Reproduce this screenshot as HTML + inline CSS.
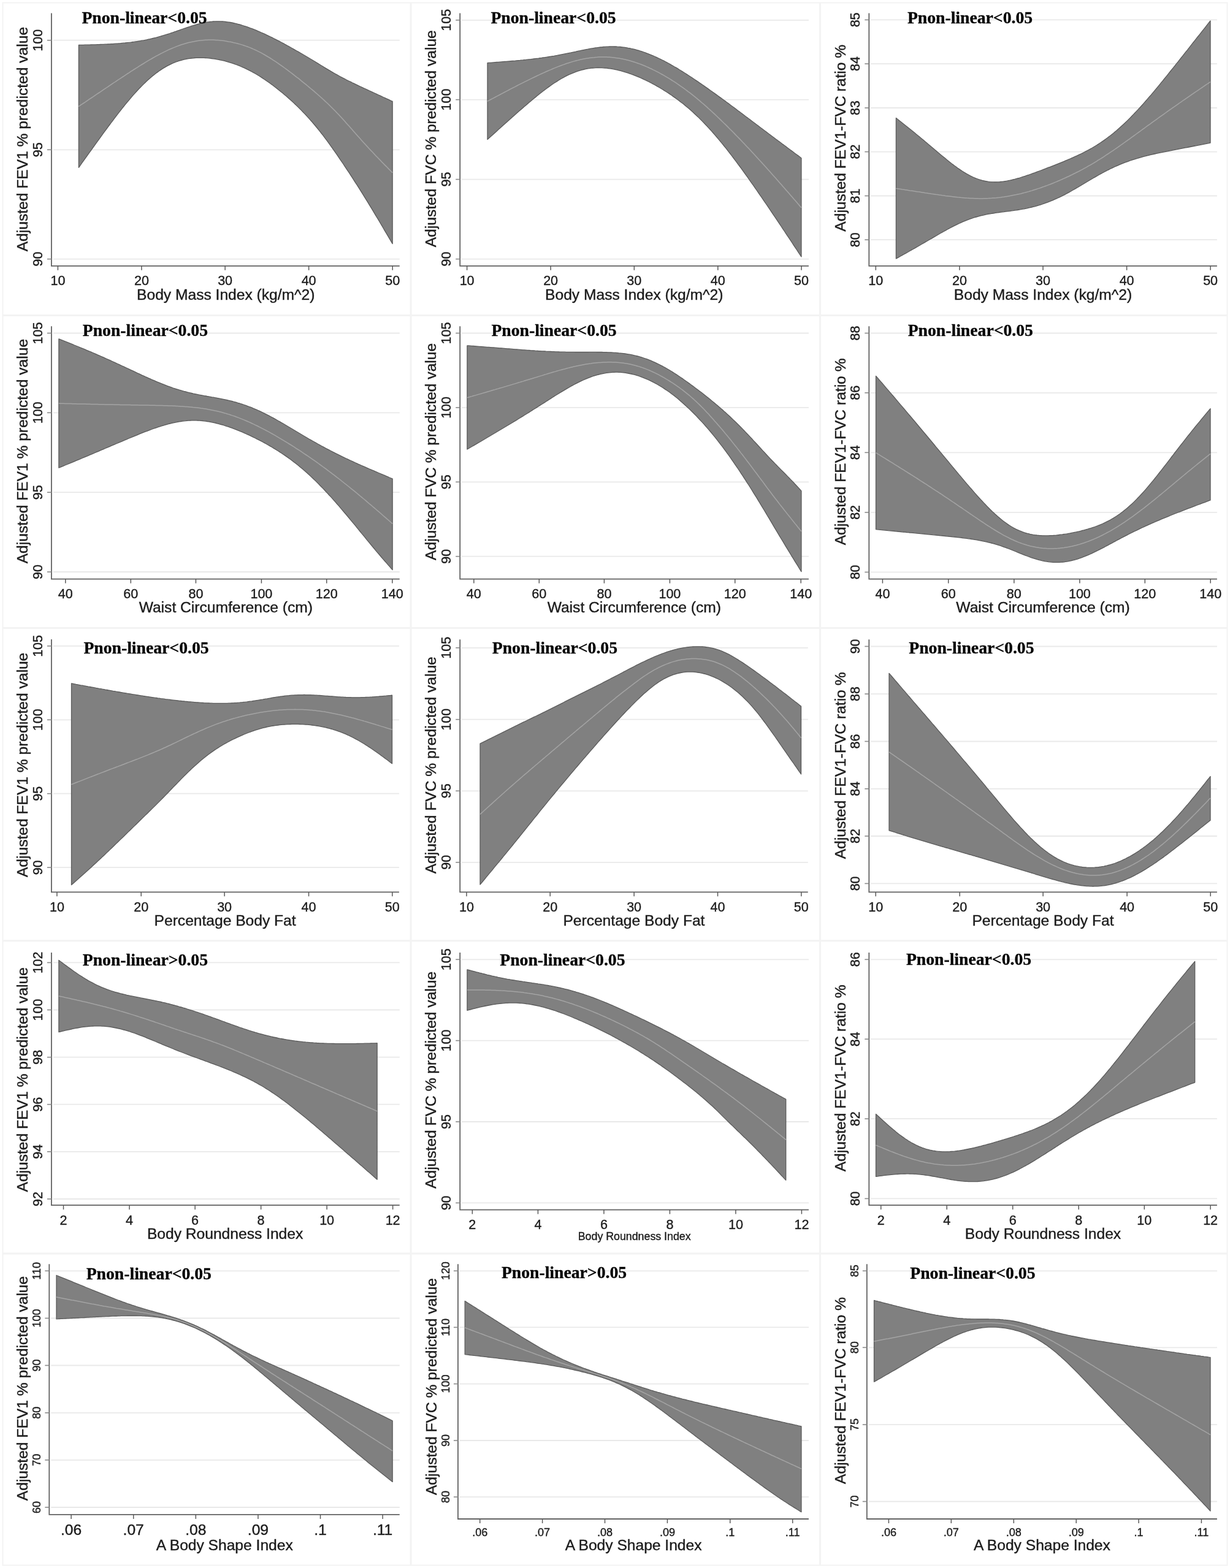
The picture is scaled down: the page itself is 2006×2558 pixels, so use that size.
<!DOCTYPE html>
<html lang="en"><head><meta charset="utf-8"><title>Restricted cubic spline plots</title>
<style>html,body{margin:0;padding:0;background:#fff}svg{display:block}text{font-family:"Liberation Sans",Arial,sans-serif;fill:#1c1c1c;stroke:#1c1c1c;stroke-width:0.4px}.ax{font-size:24.6px}.tk{font-size:21.5px}.tt{font-family:"Liberation Serif","Times New Roman",serif;font-weight:bold;font-size:27.7px;fill:#000;stroke:#000;stroke-width:0.3px}.g{stroke:#e9e9e9;stroke-width:1.8}.a{stroke:#626262;stroke-width:1.8;fill:none}.t{stroke:#5a5a5a;stroke-width:1.5}.ty{stroke:#8a8a8a;stroke-width:1.6}.b{fill:#808080;stroke:#5a5a5a;stroke-width:1.3;stroke-linejoin:round}.m{fill:none;stroke:#a4a4a4;stroke-width:1.5}.fr{fill:none;stroke:#f3f3f3;stroke-width:2}.dv{stroke:#f3f3f3;stroke-width:3}</style></head><body>
<svg xmlns="http://www.w3.org/2000/svg" width="2006" height="2558" viewBox="0 0 2006 2558">
<rect x="0" y="0" width="2006" height="2558" fill="#fff"/>
<rect class="fr" x="4.5" y="4.5" width="1997" height="2549"/>
<line class="dv" x1="670" y1="4.5" x2="670" y2="2553.5"/>
<line class="dv" x1="1337.5" y1="4.5" x2="1337.5" y2="2553.5"/>
<line class="dv" x1="4.5" y1="514.5" x2="2001.5" y2="514.5"/>
<line class="dv" x1="4.5" y1="1024.5" x2="2001.5" y2="1024.5"/>
<line class="dv" x1="4.5" y1="1534.8" x2="2001.5" y2="1534.8"/>
<line class="dv" x1="4.5" y1="2045" x2="2001.5" y2="2045"/>
<g>
<line class="g" x1="86.9" y1="65.7" x2="651.7" y2="65.7"/>
<line class="g" x1="86.9" y1="244.3" x2="651.7" y2="244.3"/>
<line class="g" x1="86.9" y1="422.6" x2="651.7" y2="422.6"/>
<path class="b" d="M128.4 73.5 L130.9 73.4 L133.4 73.4 L136 73.3 L138.5 73.2 L141 73.2 L143.5 73.1 L146 73.1 L148.6 73 L151.1 72.9 L153.6 72.9 L156.1 72.8 L158.6 72.7 L161.2 72.6 L163.7 72.5 L166.2 72.4 L168.7 72.3 L171.3 72.2 L173.8 72.1 L176.3 72 L178.8 71.9 L181.3 71.7 L183.9 71.6 L186.4 71.4 L188.9 71.2 L191.4 71.1 L193.9 70.9 L196.5 70.7 L199 70.4 L201.5 70.2 L204 70 L206.5 69.7 L209.1 69.4 L211.6 69.2 L214.1 68.9 L216.6 68.5 L219.1 68.2 L221.7 67.8 L224.2 67.5 L226.7 67.1 L229.2 66.7 L231.8 66.2 L234.3 65.8 L236.8 65.3 L239.3 64.8 L241.8 64.2 L244.4 63.7 L246.9 63.1 L249.4 62.5 L251.9 61.9 L254.4 61.3 L257 60.6 L259.5 59.9 L262 59.2 L264.5 58.4 L267 57.7 L269.6 56.9 L272.1 56.1 L274.6 55.3 L277.1 54.5 L279.7 53.6 L282.2 52.8 L284.7 51.9 L287.2 51.1 L289.7 50.2 L292.3 49.3 L294.8 48.4 L297.3 47.5 L299.8 46.7 L302.3 45.8 L304.9 44.9 L307.4 44.1 L309.9 43.3 L312.4 42.4 L314.9 41.7 L317.5 40.9 L320 40.2 L322.5 39.5 L325 38.8 L327.5 38.2 L330.1 37.7 L332.6 37.1 L335.1 36.6 L337.6 36.2 L340.2 35.8 L342.7 35.5 L345.2 35.3 L347.7 35 L350.2 34.9 L352.8 34.8 L355.3 34.8 L357.8 34.8 L360.3 34.9 L362.8 35 L365.4 35.2 L367.9 35.5 L370.4 35.8 L372.9 36.1 L375.4 36.5 L378 37 L380.5 37.5 L383 38.1 L385.5 38.7 L388 39.3 L390.6 40 L393.1 40.7 L395.6 41.5 L398.1 42.3 L400.7 43.1 L403.2 43.9 L405.7 44.8 L408.2 45.8 L410.7 46.7 L413.3 47.7 L415.8 48.7 L418.3 49.7 L420.8 50.8 L423.3 51.9 L425.9 53 L428.4 54.1 L430.9 55.2 L433.4 56.4 L435.9 57.6 L438.5 58.8 L441 60 L443.5 61.2 L446 62.5 L448.6 63.8 L451.1 65.1 L453.6 66.4 L456.1 67.7 L458.6 69 L461.2 70.4 L463.7 71.7 L466.2 73.1 L468.7 74.5 L471.2 75.9 L473.8 77.3 L476.3 78.7 L478.8 80.1 L481.3 81.6 L483.8 83 L486.4 84.4 L488.9 85.9 L491.4 87.3 L493.9 88.8 L496.4 90.3 L499 91.8 L501.5 93.3 L504 94.8 L506.5 96.3 L509.1 97.8 L511.6 99.3 L514.1 100.8 L516.6 102.4 L519.1 103.9 L521.7 105.5 L524.2 107 L526.7 108.5 L529.2 110.1 L531.7 111.6 L534.3 113.1 L536.8 114.6 L539.3 116.1 L541.8 117.6 L544.3 119.1 L546.9 120.5 L549.4 121.9 L551.9 123.3 L554.4 124.7 L557 126.1 L559.5 127.4 L562 128.7 L564.5 130 L567 131.3 L569.6 132.5 L572.1 133.7 L574.6 135 L577.1 136.2 L579.6 137.4 L582.2 138.6 L584.7 139.8 L587.2 141 L589.7 142.2 L592.2 143.3 L594.8 144.5 L597.3 145.7 L599.8 146.8 L602.3 148 L604.8 149.2 L607.4 150.3 L609.9 151.5 L612.4 152.7 L614.9 153.8 L617.5 155 L620 156.1 L622.5 157.3 L625 158.5 L627.5 159.6 L630.1 160.8 L632.6 161.9 L635.1 163.1 L637.6 164.3 L640.1 165.4 L640.1 397.7 L637.6 393.4 L635.1 389.1 L632.6 384.9 L630.1 380.6 L627.5 376.3 L625 372 L622.5 367.7 L620 363.5 L617.5 359.2 L614.9 355 L612.4 350.8 L609.9 346.6 L607.4 342.4 L604.8 338.2 L602.3 334.1 L599.8 329.9 L597.3 325.8 L594.8 321.8 L592.2 317.7 L589.7 313.7 L587.2 309.7 L584.7 305.7 L582.2 301.7 L579.6 297.8 L577.1 293.8 L574.6 289.9 L572.1 286.1 L569.6 282.2 L567 278.4 L564.5 274.6 L562 270.8 L559.5 267 L557 263.3 L554.4 259.6 L551.9 255.9 L549.4 252.2 L546.9 248.6 L544.3 244.9 L541.8 241.4 L539.3 237.8 L536.8 234.3 L534.3 230.8 L531.7 227.4 L529.2 224.1 L526.7 220.7 L524.2 217.5 L521.7 214.3 L519.1 211.1 L516.6 208 L514.1 205 L511.6 202 L509.1 199 L506.5 196.2 L504 193.3 L501.5 190.6 L499 187.8 L496.4 185.1 L493.9 182.5 L491.4 179.9 L488.9 177.4 L486.4 174.9 L483.8 172.4 L481.3 170 L478.8 167.6 L476.3 165.3 L473.8 163 L471.2 160.7 L468.7 158.5 L466.2 156.3 L463.7 154.2 L461.2 152 L458.6 150 L456.1 147.9 L453.6 145.9 L451.1 143.9 L448.6 141.9 L446 140 L443.5 138.1 L441 136.3 L438.5 134.5 L435.9 132.7 L433.4 131 L430.9 129.2 L428.4 127.6 L425.9 125.9 L423.3 124.3 L420.8 122.8 L418.3 121.3 L415.8 119.8 L413.3 118.4 L410.7 117 L408.2 115.6 L405.7 114.3 L403.2 113.1 L400.7 111.8 L398.1 110.7 L395.6 109.6 L393.1 108.5 L390.6 107.4 L388 106.4 L385.5 105.5 L383 104.6 L380.5 103.7 L378 102.8 L375.4 102.1 L372.9 101.3 L370.4 100.6 L367.9 99.9 L365.4 99.2 L362.8 98.6 L360.3 98.1 L357.8 97.5 L355.3 97.1 L352.8 96.6 L350.2 96.2 L347.7 95.8 L345.2 95.5 L342.7 95.2 L340.2 94.9 L337.6 94.7 L335.1 94.5 L332.6 94.4 L330.1 94.3 L327.5 94.3 L325 94.3 L322.5 94.3 L320 94.4 L317.5 94.5 L314.9 94.8 L312.4 95 L309.9 95.3 L307.4 95.7 L304.9 96.1 L302.3 96.6 L299.8 97.2 L297.3 97.8 L294.8 98.5 L292.3 99.2 L289.7 100.1 L287.2 101 L284.7 101.9 L282.2 103 L279.7 104.1 L277.1 105.3 L274.6 106.6 L272.1 107.9 L269.6 109.4 L267 110.9 L264.5 112.4 L262 114.1 L259.5 115.8 L257 117.6 L254.4 119.5 L251.9 121.5 L249.4 123.5 L246.9 125.6 L244.4 127.7 L241.8 130 L239.3 132.3 L236.8 134.7 L234.3 137.1 L231.8 139.6 L229.2 142.2 L226.7 144.8 L224.2 147.5 L221.7 150.3 L219.1 153.1 L216.6 155.9 L214.1 158.8 L211.6 161.8 L209.1 164.8 L206.5 167.8 L204 170.9 L201.5 174 L199 177.2 L196.5 180.4 L193.9 183.6 L191.4 186.8 L188.9 190.1 L186.4 193.4 L183.9 196.8 L181.3 200.1 L178.8 203.5 L176.3 206.9 L173.8 210.3 L171.3 213.7 L168.7 217.2 L166.2 220.6 L163.7 224.1 L161.2 227.6 L158.6 231.1 L156.1 234.6 L153.6 238.1 L151.1 241.6 L148.6 245.1 L146 248.6 L143.5 252.1 L141 255.7 L138.5 259.2 L136 262.7 L133.4 266.2 L130.9 269.8 L128.4 273.3Z"/>
<path class="m" d="M128.4 173.6 L130.9 171.9 L133.4 170.2 L136 168.5 L138.5 166.8 L141 165.1 L143.5 163.4 L146 161.7 L148.6 160 L151.1 158.3 L153.6 156.6 L156.1 154.9 L158.6 153.2 L161.2 151.5 L163.7 149.8 L166.2 148.1 L168.7 146.4 L171.3 144.7 L173.8 143 L176.3 141.3 L178.8 139.6 L181.3 137.9 L183.9 136.2 L186.4 134.5 L188.9 132.8 L191.4 131.2 L193.9 129.5 L196.5 127.8 L199 126.1 L201.5 124.5 L204 122.8 L206.5 121.1 L209.1 119.5 L211.6 117.8 L214.1 116.2 L216.6 114.6 L219.1 113 L221.7 111.3 L224.2 109.8 L226.7 108.2 L229.2 106.6 L231.8 105 L234.3 103.5 L236.8 101.9 L239.3 100.4 L241.8 98.9 L244.4 97.4 L246.9 96 L249.4 94.5 L251.9 93.1 L254.4 91.7 L257 90.3 L259.5 89 L262 87.6 L264.5 86.3 L267 85.1 L269.6 83.8 L272.1 82.6 L274.6 81.4 L277.1 80.3 L279.7 79.2 L282.2 78.1 L284.7 77.1 L287.2 76.1 L289.7 75.1 L292.3 74.2 L294.8 73.3 L297.3 72.5 L299.8 71.7 L302.3 71 L304.9 70.3 L307.4 69.6 L309.9 69 L312.4 68.4 L314.9 67.9 L317.5 67.4 L320 67 L322.5 66.6 L325 66.2 L327.5 65.9 L330.1 65.7 L332.6 65.5 L335.1 65.3 L337.6 65.2 L340.2 65.1 L342.7 65.1 L345.2 65.1 L347.7 65.1 L350.2 65.2 L352.8 65.4 L355.3 65.6 L357.8 65.8 L360.3 66 L362.8 66.3 L365.4 66.6 L367.9 67 L370.4 67.4 L372.9 67.9 L375.4 68.3 L378 68.8 L380.5 69.4 L383 69.9 L385.5 70.6 L388 71.2 L390.6 71.9 L393.1 72.6 L395.6 73.4 L398.1 74.2 L400.7 75.1 L403.2 76 L405.7 76.9 L408.2 77.9 L410.7 79 L413.3 80.1 L415.8 81.2 L418.3 82.4 L420.8 83.6 L423.3 84.9 L425.9 86.2 L428.4 87.6 L430.9 89 L433.4 90.5 L435.9 92 L438.5 93.5 L441 95 L443.5 96.6 L446 98.3 L448.6 99.9 L451.1 101.6 L453.6 103.3 L456.1 105.1 L458.6 106.9 L461.2 108.7 L463.7 110.5 L466.2 112.3 L468.7 114.2 L471.2 116.1 L473.8 118 L476.3 119.9 L478.8 121.8 L481.3 123.8 L483.8 125.8 L486.4 127.7 L488.9 129.7 L491.4 131.8 L493.9 133.8 L496.4 135.8 L499 137.9 L501.5 140 L504 142.1 L506.5 144.2 L509.1 146.3 L511.6 148.4 L514.1 150.6 L516.6 152.8 L519.1 155 L521.7 157.3 L524.2 159.5 L526.7 161.8 L529.2 164.1 L531.7 166.5 L534.3 168.8 L536.8 171.3 L539.3 173.7 L541.8 176.2 L544.3 178.7 L546.9 181.3 L549.4 183.9 L551.9 186.6 L554.4 189.3 L557 192 L559.5 194.8 L562 197.6 L564.5 200.4 L567 203.3 L569.6 206.1 L572.1 209 L574.6 211.8 L577.1 214.7 L579.6 217.6 L582.2 220.4 L584.7 223.3 L587.2 226.1 L589.7 228.9 L592.2 231.7 L594.8 234.5 L597.3 237.3 L599.8 240 L602.3 242.7 L604.8 245.4 L607.4 248.1 L609.9 250.8 L612.4 253.4 L614.9 256.1 L617.5 258.7 L620 261.3 L622.5 263.9 L625 266.5 L627.5 269.1 L630.1 271.6 L632.6 274.2 L635.1 276.7 L637.6 279.3 L640.1 281.8"/>
<path class="a" d="M83.9 21.5 V433.8 H651.7"/>
<line class="ty" x1="76.9" y1="65.7" x2="83.9" y2="65.7"/>
<text class="tk" text-anchor="middle" transform="translate(69 65.7) rotate(-90)">100</text>
<line class="ty" x1="76.9" y1="244.3" x2="83.9" y2="244.3"/>
<text class="tk" text-anchor="middle" transform="translate(69 244.3) rotate(-90)">95</text>
<line class="ty" x1="76.9" y1="422.6" x2="83.9" y2="422.6"/>
<text class="tk" text-anchor="middle" transform="translate(69 422.6) rotate(-90)">90</text>
<line class="t" x1="94.4" y1="433.8" x2="94.4" y2="440.8"/>
<text class="tk" text-anchor="middle" x="94.4" y="465.1">10</text>
<line class="t" x1="230.9" y1="433.8" x2="230.9" y2="440.8"/>
<text class="tk" text-anchor="middle" x="230.9" y="465.1">20</text>
<line class="t" x1="367.1" y1="433.8" x2="367.1" y2="440.8"/>
<text class="tk" text-anchor="middle" x="367.1" y="465.1">30</text>
<line class="t" x1="503.6" y1="433.8" x2="503.6" y2="440.8"/>
<text class="tk" text-anchor="middle" x="503.6" y="465.1">40</text>
<line class="t" x1="640.2" y1="433.8" x2="640.2" y2="440.8"/>
<text class="tk" text-anchor="middle" x="640.2" y="465.1">50</text>
<text class="ax" text-anchor="middle" x="368.3" y="488.6">Body Mass Index (kg/m^2)</text>
<text class="ax" text-anchor="middle" transform="translate(45.1 227.1) rotate(-90)">Adjusted FEV1 % predicted value</text>
<text class="tt" x="133.4" y="38.2">Pnon-linear&lt;0.05</text>
</g>
<g>
<line class="g" x1="753.2" y1="32.8" x2="1318.9" y2="32.8"/>
<line class="g" x1="753.2" y1="162.6" x2="1318.9" y2="162.6"/>
<line class="g" x1="753.2" y1="292.6" x2="1318.9" y2="292.6"/>
<line class="g" x1="753.2" y1="422.6" x2="1318.9" y2="422.6"/>
<path class="b" d="M795 102.6 L797.5 102.4 L800 102.3 L802.6 102.1 L805.1 101.9 L807.6 101.7 L810.1 101.5 L812.6 101.3 L815.2 101.1 L817.7 100.9 L820.2 100.7 L822.7 100.5 L825.3 100.3 L827.8 100.1 L830.3 99.9 L832.8 99.7 L835.3 99.5 L837.9 99.3 L840.4 99.1 L842.9 98.8 L845.4 98.6 L848 98.4 L850.5 98.1 L853 97.9 L855.5 97.6 L858 97.4 L860.6 97.1 L863.1 96.8 L865.6 96.6 L868.1 96.3 L870.6 96 L873.2 95.7 L875.7 95.4 L878.2 95.1 L880.7 94.7 L883.3 94.4 L885.8 94 L888.3 93.7 L890.8 93.3 L893.3 92.9 L895.9 92.5 L898.4 92.1 L900.9 91.7 L903.4 91.3 L906 90.8 L908.5 90.4 L911 89.9 L913.5 89.4 L916 88.9 L918.6 88.4 L921.1 87.9 L923.6 87.4 L926.1 86.9 L928.7 86.4 L931.2 85.9 L933.7 85.3 L936.2 84.8 L938.7 84.3 L941.3 83.7 L943.8 83.2 L946.3 82.7 L948.8 82.1 L951.4 81.6 L953.9 81.1 L956.4 80.6 L958.9 80.2 L961.4 79.7 L964 79.2 L966.5 78.8 L969 78.4 L971.5 78 L974 77.7 L976.6 77.3 L979.1 77 L981.6 76.8 L984.1 76.5 L986.7 76.3 L989.2 76.2 L991.7 76.1 L994.2 76 L996.7 75.9 L999.3 75.9 L1001.8 76 L1004.3 76 L1006.8 76.2 L1009.4 76.3 L1011.9 76.5 L1014.4 76.8 L1016.9 77.1 L1019.4 77.4 L1022 77.8 L1024.5 78.3 L1027 78.7 L1029.5 79.3 L1032.1 79.8 L1034.6 80.4 L1037.1 81.1 L1039.6 81.8 L1042.1 82.5 L1044.7 83.3 L1047.2 84.1 L1049.7 85 L1052.2 85.9 L1054.7 86.8 L1057.3 87.8 L1059.8 88.8 L1062.3 89.8 L1064.8 90.9 L1067.4 92 L1069.9 93.1 L1072.4 94.3 L1074.9 95.5 L1077.4 96.7 L1080 98 L1082.5 99.2 L1085 100.5 L1087.5 101.9 L1090.1 103.3 L1092.6 104.6 L1095.1 106.1 L1097.6 107.5 L1100.1 109 L1102.7 110.4 L1105.2 111.9 L1107.7 113.5 L1110.2 115 L1112.8 116.6 L1115.3 118.2 L1117.8 119.8 L1120.3 121.4 L1122.8 123 L1125.4 124.7 L1127.9 126.3 L1130.4 128 L1132.9 129.7 L1135.4 131.4 L1138 133.1 L1140.5 134.9 L1143 136.6 L1145.5 138.3 L1148.1 140.1 L1150.6 141.9 L1153.1 143.6 L1155.6 145.4 L1158.1 147.2 L1160.7 149 L1163.2 150.8 L1165.7 152.6 L1168.2 154.4 L1170.8 156.3 L1173.3 158.1 L1175.8 159.9 L1178.3 161.7 L1180.8 163.6 L1183.4 165.4 L1185.9 167.3 L1188.4 169.1 L1190.9 171 L1193.5 172.9 L1196 174.7 L1198.5 176.6 L1201 178.5 L1203.5 180.4 L1206.1 182.3 L1208.6 184.2 L1211.1 186.1 L1213.6 188 L1216.1 189.9 L1218.7 191.8 L1221.2 193.7 L1223.7 195.6 L1226.2 197.5 L1228.8 199.4 L1231.3 201.3 L1233.8 203.2 L1236.3 205.1 L1238.8 207 L1241.4 208.9 L1243.9 210.8 L1246.4 212.7 L1248.9 214.6 L1251.5 216.5 L1254 218.4 L1256.5 220.3 L1259 222.2 L1261.5 224.1 L1264.1 226 L1266.6 227.9 L1269.1 229.7 L1271.6 231.6 L1274.2 233.5 L1276.7 235.4 L1279.2 237.2 L1281.7 239.1 L1284.2 241 L1286.8 242.9 L1289.3 244.8 L1291.8 246.6 L1294.3 248.5 L1296.8 250.4 L1299.4 252.3 L1301.9 254.1 L1304.4 256 L1306.9 257.9 L1306.9 418.9 L1304.4 415.1 L1301.9 411.3 L1299.4 407.5 L1296.8 403.7 L1294.3 399.8 L1291.8 396 L1289.3 392.2 L1286.8 388.4 L1284.2 384.6 L1281.7 380.8 L1279.2 377 L1276.7 373.3 L1274.2 369.5 L1271.6 365.7 L1269.1 361.9 L1266.6 358.2 L1264.1 354.4 L1261.5 350.7 L1259 346.9 L1256.5 343.2 L1254 339.4 L1251.5 335.7 L1248.9 332 L1246.4 328.3 L1243.9 324.6 L1241.4 320.9 L1238.8 317.3 L1236.3 313.6 L1233.8 310 L1231.3 306.4 L1228.8 302.7 L1226.2 299.1 L1223.7 295.6 L1221.2 292 L1218.7 288.4 L1216.1 284.9 L1213.6 281.4 L1211.1 277.9 L1208.6 274.4 L1206.1 271 L1203.5 267.6 L1201 264.2 L1198.5 260.8 L1196 257.5 L1193.5 254.1 L1190.9 250.9 L1188.4 247.6 L1185.9 244.4 L1183.4 241.2 L1180.8 238 L1178.3 234.9 L1175.8 231.8 L1173.3 228.8 L1170.8 225.8 L1168.2 222.8 L1165.7 219.9 L1163.2 217 L1160.7 214.1 L1158.1 211.3 L1155.6 208.6 L1153.1 205.8 L1150.6 203.2 L1148.1 200.5 L1145.5 197.9 L1143 195.4 L1140.5 192.9 L1138 190.4 L1135.4 188 L1132.9 185.7 L1130.4 183.3 L1127.9 181.1 L1125.4 178.8 L1122.8 176.6 L1120.3 174.5 L1117.8 172.4 L1115.3 170.3 L1112.8 168.3 L1110.2 166.4 L1107.7 164.4 L1105.2 162.5 L1102.7 160.7 L1100.1 158.9 L1097.6 157.1 L1095.1 155.3 L1092.6 153.6 L1090.1 151.9 L1087.5 150.3 L1085 148.7 L1082.5 147.1 L1080 145.5 L1077.4 144 L1074.9 142.5 L1072.4 141.1 L1069.9 139.6 L1067.4 138.2 L1064.8 136.9 L1062.3 135.5 L1059.8 134.2 L1057.3 133 L1054.7 131.7 L1052.2 130.5 L1049.7 129.3 L1047.2 128.2 L1044.7 127 L1042.1 125.9 L1039.6 124.9 L1037.1 123.9 L1034.6 122.9 L1032.1 121.9 L1029.5 121 L1027 120.1 L1024.5 119.2 L1022 118.4 L1019.4 117.6 L1016.9 116.8 L1014.4 116.1 L1011.9 115.4 L1009.4 114.8 L1006.8 114.2 L1004.3 113.6 L1001.8 113.1 L999.3 112.7 L996.7 112.2 L994.2 111.8 L991.7 111.5 L989.2 111.2 L986.7 111 L984.1 110.8 L981.6 110.6 L979.1 110.6 L976.6 110.5 L974 110.5 L971.5 110.6 L969 110.8 L966.5 111 L964 111.2 L961.4 111.6 L958.9 111.9 L956.4 112.4 L953.9 112.9 L951.4 113.5 L948.8 114.1 L946.3 114.8 L943.8 115.6 L941.3 116.4 L938.7 117.3 L936.2 118.3 L933.7 119.3 L931.2 120.3 L928.7 121.5 L926.1 122.7 L923.6 123.9 L921.1 125.2 L918.6 126.6 L916 128 L913.5 129.5 L911 131 L908.5 132.6 L906 134.2 L903.4 135.8 L900.9 137.5 L898.4 139.3 L895.9 141.1 L893.3 142.9 L890.8 144.8 L888.3 146.7 L885.8 148.6 L883.3 150.6 L880.7 152.6 L878.2 154.6 L875.7 156.6 L873.2 158.7 L870.6 160.8 L868.1 162.8 L865.6 165 L863.1 167.1 L860.6 169.2 L858 171.4 L855.5 173.5 L853 175.7 L850.5 177.9 L848 180.1 L845.4 182.3 L842.9 184.5 L840.4 186.7 L837.9 189 L835.3 191.2 L832.8 193.5 L830.3 195.7 L827.8 198 L825.3 200.2 L822.7 202.5 L820.2 204.8 L817.7 207.1 L815.2 209.3 L812.6 211.6 L810.1 213.9 L807.6 216.2 L805.1 218.5 L802.6 220.8 L800 223 L797.5 225.3 L795 227.6Z"/>
<path class="m" d="M795 165.2 L797.5 163.9 L800 162.5 L802.6 161.2 L805.1 159.8 L807.6 158.5 L810.1 157.2 L812.6 155.8 L815.2 154.5 L817.7 153.1 L820.2 151.8 L822.7 150.5 L825.3 149.2 L827.8 147.8 L830.3 146.5 L832.8 145.2 L835.3 143.9 L837.9 142.6 L840.4 141.3 L842.9 140 L845.4 138.7 L848 137.4 L850.5 136.1 L853 134.9 L855.5 133.6 L858 132.3 L860.6 131.1 L863.1 129.8 L865.6 128.6 L868.1 127.4 L870.6 126.2 L873.2 125 L875.7 123.8 L878.2 122.6 L880.7 121.4 L883.3 120.2 L885.8 119.1 L888.3 118 L890.8 116.8 L893.3 115.7 L895.9 114.6 L898.4 113.6 L900.9 112.5 L903.4 111.4 L906 110.4 L908.5 109.4 L911 108.4 L913.5 107.5 L916 106.5 L918.6 105.6 L921.1 104.7 L923.6 103.8 L926.1 103 L928.7 102.2 L931.2 101.4 L933.7 100.6 L936.2 99.9 L938.7 99.2 L941.3 98.6 L943.8 97.9 L946.3 97.3 L948.8 96.8 L951.4 96.3 L953.9 95.8 L956.4 95.3 L958.9 94.9 L961.4 94.5 L964 94.2 L966.5 93.9 L969 93.7 L971.5 93.4 L974 93.3 L976.6 93.1 L979.1 93 L981.6 93 L984.1 93 L986.7 93 L989.2 93.1 L991.7 93.2 L994.2 93.3 L996.7 93.5 L999.3 93.8 L1001.8 94.1 L1004.3 94.4 L1006.8 94.7 L1009.4 95.1 L1011.9 95.6 L1014.4 96 L1016.9 96.6 L1019.4 97.1 L1022 97.7 L1024.5 98.3 L1027 99 L1029.5 99.7 L1032.1 100.5 L1034.6 101.3 L1037.1 102.1 L1039.6 103 L1042.1 103.9 L1044.7 104.8 L1047.2 105.8 L1049.7 106.8 L1052.2 107.8 L1054.7 108.9 L1057.3 110 L1059.8 111.2 L1062.3 112.3 L1064.8 113.6 L1067.4 114.8 L1069.9 116.1 L1072.4 117.4 L1074.9 118.7 L1077.4 120.1 L1080 121.5 L1082.5 122.9 L1085 124.4 L1087.5 125.9 L1090.1 127.4 L1092.6 128.9 L1095.1 130.5 L1097.6 132.1 L1100.1 133.7 L1102.7 135.4 L1105.2 137.1 L1107.7 138.8 L1110.2 140.6 L1112.8 142.3 L1115.3 144.2 L1117.8 146 L1120.3 147.9 L1122.8 149.8 L1125.4 151.7 L1127.9 153.7 L1130.4 155.7 L1132.9 157.7 L1135.4 159.7 L1138 161.8 L1140.5 163.9 L1143 166.1 L1145.5 168.2 L1148.1 170.4 L1150.6 172.6 L1153.1 174.9 L1155.6 177.2 L1158.1 179.4 L1160.7 181.8 L1163.2 184.1 L1165.7 186.4 L1168.2 188.8 L1170.8 191.2 L1173.3 193.6 L1175.8 196.1 L1178.3 198.5 L1180.8 201 L1183.4 203.4 L1185.9 205.9 L1188.4 208.5 L1190.9 211 L1193.5 213.5 L1196 216.1 L1198.5 218.6 L1201 221.2 L1203.5 223.8 L1206.1 226.4 L1208.6 229 L1211.1 231.7 L1213.6 234.3 L1216.1 237 L1218.7 239.7 L1221.2 242.3 L1223.7 245 L1226.2 247.8 L1228.8 250.5 L1231.3 253.2 L1233.8 256 L1236.3 258.7 L1238.8 261.5 L1241.4 264.2 L1243.9 267 L1246.4 269.8 L1248.9 272.6 L1251.5 275.4 L1254 278.2 L1256.5 281.1 L1259 283.9 L1261.5 286.7 L1264.1 289.6 L1266.6 292.4 L1269.1 295.3 L1271.6 298.2 L1274.2 301.1 L1276.7 303.9 L1279.2 306.8 L1281.7 309.7 L1284.2 312.6 L1286.8 315.5 L1289.3 318.4 L1291.8 321.3 L1294.3 324.2 L1296.8 327.1 L1299.4 330 L1301.9 332.9 L1304.4 335.9 L1306.9 338.8"/>
<path class="a" d="M750.2 21.5 V433.8 H1318.9"/>
<line class="ty" x1="743.2" y1="32.8" x2="750.2" y2="32.8"/>
<text class="tk" text-anchor="middle" transform="translate(735.3 32.8) rotate(-90)">105</text>
<line class="ty" x1="743.2" y1="162.6" x2="750.2" y2="162.6"/>
<text class="tk" text-anchor="middle" transform="translate(735.3 162.6) rotate(-90)">100</text>
<line class="ty" x1="743.2" y1="292.6" x2="750.2" y2="292.6"/>
<text class="tk" text-anchor="middle" transform="translate(735.3 292.6) rotate(-90)">95</text>
<line class="ty" x1="743.2" y1="422.6" x2="750.2" y2="422.6"/>
<text class="tk" text-anchor="middle" transform="translate(735.3 422.6) rotate(-90)">90</text>
<line class="t" x1="761.6" y1="433.8" x2="761.6" y2="440.8"/>
<text class="tk" text-anchor="middle" x="761.6" y="465.1">10</text>
<line class="t" x1="898.1" y1="433.8" x2="898.1" y2="440.8"/>
<text class="tk" text-anchor="middle" x="898.1" y="465.1">20</text>
<line class="t" x1="1034.3" y1="433.8" x2="1034.3" y2="440.8"/>
<text class="tk" text-anchor="middle" x="1034.3" y="465.1">30</text>
<line class="t" x1="1170.8" y1="433.8" x2="1170.8" y2="440.8"/>
<text class="tk" text-anchor="middle" x="1170.8" y="465.1">40</text>
<line class="t" x1="1307" y1="433.8" x2="1307" y2="440.8"/>
<text class="tk" text-anchor="middle" x="1307" y="465.1">50</text>
<text class="ax" text-anchor="middle" x="1034.3" y="488.6">Body Mass Index (kg/m^2)</text>
<text class="ax" text-anchor="middle" transform="translate(711.4 226.3) rotate(-90)">Adjusted FVC % predicted value</text>
<text class="tt" x="800.4" y="37.8">Pnon-linear&lt;0.05</text>
</g>
<g>
<line class="g" x1="1420.3" y1="32.4" x2="1984.9" y2="32.4"/>
<line class="g" x1="1420.3" y1="104.1" x2="1984.9" y2="104.1"/>
<line class="g" x1="1420.3" y1="176" x2="1984.9" y2="176"/>
<line class="g" x1="1420.3" y1="247.6" x2="1984.9" y2="247.6"/>
<line class="g" x1="1420.3" y1="319.5" x2="1984.9" y2="319.5"/>
<line class="g" x1="1420.3" y1="391.2" x2="1984.9" y2="391.2"/>
<path class="b" d="M1461.4 192.5 L1463.9 194.5 L1466.4 196.5 L1468.9 198.5 L1471.4 200.5 L1473.9 202.5 L1476.4 204.5 L1479 206.5 L1481.5 208.5 L1484 210.5 L1486.5 212.6 L1489 214.6 L1491.5 216.6 L1494 218.7 L1496.5 220.8 L1499.1 222.8 L1501.6 224.9 L1504.1 227 L1506.6 229.1 L1509.1 231.2 L1511.6 233.3 L1514.1 235.4 L1516.6 237.5 L1519.2 239.7 L1521.7 241.8 L1524.2 243.9 L1526.7 246 L1529.2 248.2 L1531.7 250.3 L1534.2 252.4 L1536.7 254.5 L1539.3 256.6 L1541.8 258.6 L1544.3 260.7 L1546.8 262.7 L1549.3 264.7 L1551.8 266.7 L1554.3 268.6 L1556.8 270.5 L1559.4 272.3 L1561.9 274.2 L1564.4 275.9 L1566.9 277.6 L1569.4 279.3 L1571.9 280.9 L1574.4 282.4 L1576.9 283.9 L1579.5 285.2 L1582 286.6 L1584.5 287.8 L1587 289 L1589.5 290.1 L1592 291.1 L1594.5 292 L1597 292.9 L1599.6 293.7 L1602.1 294.4 L1604.6 295 L1607.1 295.5 L1609.6 295.9 L1612.1 296.3 L1614.6 296.6 L1617.1 296.8 L1619.7 296.9 L1622.2 297 L1624.7 297 L1627.2 296.9 L1629.7 296.8 L1632.2 296.5 L1634.7 296.3 L1637.3 296 L1639.8 295.6 L1642.3 295.2 L1644.8 294.7 L1647.3 294.2 L1649.8 293.6 L1652.3 293 L1654.8 292.4 L1657.4 291.7 L1659.9 291 L1662.4 290.3 L1664.9 289.5 L1667.4 288.7 L1669.9 287.9 L1672.4 287.1 L1674.9 286.2 L1677.5 285.4 L1680 284.5 L1682.5 283.6 L1685 282.7 L1687.5 281.8 L1690 280.8 L1692.5 279.9 L1695 279 L1697.6 278 L1700.1 277.1 L1702.6 276.1 L1705.1 275.2 L1707.6 274.2 L1710.1 273.2 L1712.6 272.3 L1715.1 271.3 L1717.7 270.3 L1720.2 269.3 L1722.7 268.3 L1725.2 267.3 L1727.7 266.3 L1730.2 265.3 L1732.7 264.3 L1735.2 263.3 L1737.8 262.2 L1740.3 261.2 L1742.8 260.1 L1745.3 259 L1747.8 257.9 L1750.3 256.8 L1752.8 255.7 L1755.3 254.6 L1757.9 253.4 L1760.4 252.2 L1762.9 251 L1765.4 249.8 L1767.9 248.5 L1770.4 247.2 L1772.9 245.9 L1775.4 244.5 L1778 243.1 L1780.5 241.7 L1783 240.2 L1785.5 238.7 L1788 237.2 L1790.5 235.6 L1793 234 L1795.6 232.3 L1798.1 230.6 L1800.6 228.9 L1803.1 227.1 L1805.6 225.2 L1808.1 223.3 L1810.6 221.4 L1813.1 219.4 L1815.7 217.4 L1818.2 215.3 L1820.7 213.2 L1823.2 211 L1825.7 208.8 L1828.2 206.5 L1830.7 204.2 L1833.2 201.9 L1835.8 199.5 L1838.3 197.1 L1840.8 194.6 L1843.3 192.1 L1845.8 189.5 L1848.3 186.9 L1850.8 184.3 L1853.3 181.6 L1855.9 178.9 L1858.4 176.2 L1860.9 173.5 L1863.4 170.7 L1865.9 167.8 L1868.4 165 L1870.9 162.1 L1873.4 159.2 L1876 156.3 L1878.5 153.3 L1881 150.4 L1883.5 147.4 L1886 144.3 L1888.5 141.3 L1891 138.3 L1893.5 135.2 L1896.1 132.1 L1898.6 129 L1901.1 125.9 L1903.6 122.8 L1906.1 119.7 L1908.6 116.5 L1911.1 113.4 L1913.6 110.3 L1916.2 107.1 L1918.7 103.9 L1921.2 100.8 L1923.7 97.6 L1926.2 94.5 L1928.7 91.3 L1931.2 88.1 L1933.7 84.9 L1936.3 81.8 L1938.8 78.6 L1941.3 75.4 L1943.8 72.2 L1946.3 69 L1948.8 65.8 L1951.3 62.7 L1953.8 59.5 L1956.4 56.3 L1958.9 53.1 L1961.4 49.9 L1963.9 46.8 L1966.4 43.6 L1968.9 40.4 L1971.4 37.2 L1974 34 L1974 233.1 L1971.4 233.6 L1968.9 234.1 L1966.4 234.6 L1963.9 235.1 L1961.4 235.6 L1958.9 236.1 L1956.4 236.6 L1953.8 237.1 L1951.3 237.6 L1948.8 238 L1946.3 238.5 L1943.8 239 L1941.3 239.5 L1938.8 240 L1936.3 240.5 L1933.7 240.9 L1931.2 241.4 L1928.7 241.9 L1926.2 242.4 L1923.7 242.9 L1921.2 243.3 L1918.7 243.8 L1916.2 244.3 L1913.6 244.8 L1911.1 245.3 L1908.6 245.8 L1906.1 246.3 L1903.6 246.8 L1901.1 247.3 L1898.6 247.8 L1896.1 248.3 L1893.5 248.8 L1891 249.3 L1888.5 249.9 L1886 250.4 L1883.5 251 L1881 251.5 L1878.5 252.1 L1876 252.7 L1873.4 253.3 L1870.9 253.9 L1868.4 254.6 L1865.9 255.2 L1863.4 255.9 L1860.9 256.6 L1858.4 257.3 L1855.9 258 L1853.3 258.8 L1850.8 259.6 L1848.3 260.4 L1845.8 261.2 L1843.3 262 L1840.8 262.9 L1838.3 263.8 L1835.8 264.7 L1833.2 265.7 L1830.7 266.7 L1828.2 267.7 L1825.7 268.7 L1823.2 269.8 L1820.7 270.9 L1818.2 272 L1815.7 273.1 L1813.1 274.3 L1810.6 275.5 L1808.1 276.8 L1805.6 278 L1803.1 279.3 L1800.6 280.7 L1798.1 282 L1795.6 283.4 L1793 284.8 L1790.5 286.2 L1788 287.6 L1785.5 289.1 L1783 290.5 L1780.5 292 L1778 293.5 L1775.4 295 L1772.9 296.5 L1770.4 298 L1767.9 299.5 L1765.4 301 L1762.9 302.5 L1760.4 304 L1757.9 305.5 L1755.3 306.9 L1752.8 308.4 L1750.3 309.8 L1747.8 311.3 L1745.3 312.7 L1742.8 314.1 L1740.3 315.4 L1737.8 316.8 L1735.2 318.1 L1732.7 319.3 L1730.2 320.6 L1727.7 321.8 L1725.2 323 L1722.7 324.1 L1720.2 325.2 L1717.7 326.3 L1715.1 327.4 L1712.6 328.4 L1710.1 329.4 L1707.6 330.3 L1705.1 331.2 L1702.6 332.1 L1700.1 333 L1697.6 333.8 L1695 334.6 L1692.5 335.3 L1690 336.1 L1687.5 336.8 L1685 337.4 L1682.5 338 L1680 338.6 L1677.5 339.2 L1674.9 339.8 L1672.4 340.3 L1669.9 340.8 L1667.4 341.2 L1664.9 341.7 L1662.4 342.1 L1659.9 342.5 L1657.4 342.9 L1654.8 343.2 L1652.3 343.6 L1649.8 343.9 L1647.3 344.3 L1644.8 344.6 L1642.3 344.9 L1639.8 345.2 L1637.3 345.6 L1634.7 345.9 L1632.2 346.2 L1629.7 346.5 L1627.2 346.9 L1624.7 347.2 L1622.2 347.6 L1619.7 348 L1617.1 348.4 L1614.6 348.8 L1612.1 349.2 L1609.6 349.7 L1607.1 350.2 L1604.6 350.8 L1602.1 351.3 L1599.6 351.9 L1597 352.6 L1594.5 353.3 L1592 354 L1589.5 354.7 L1587 355.5 L1584.5 356.4 L1582 357.2 L1579.5 358.2 L1576.9 359.1 L1574.4 360.1 L1571.9 361.1 L1569.4 362.2 L1566.9 363.3 L1564.4 364.5 L1561.9 365.6 L1559.4 366.9 L1556.8 368.1 L1554.3 369.4 L1551.8 370.7 L1549.3 372 L1546.8 373.3 L1544.3 374.7 L1541.8 376.1 L1539.3 377.5 L1536.7 378.9 L1534.2 380.3 L1531.7 381.8 L1529.2 383.2 L1526.7 384.7 L1524.2 386.1 L1521.7 387.6 L1519.2 389.1 L1516.6 390.5 L1514.1 392 L1511.6 393.5 L1509.1 394.9 L1506.6 396.4 L1504.1 397.8 L1501.6 399.3 L1499.1 400.7 L1496.5 402.2 L1494 403.6 L1491.5 405.1 L1489 406.5 L1486.5 407.9 L1484 409.3 L1481.5 410.8 L1479 412.2 L1476.4 413.6 L1473.9 415 L1471.4 416.4 L1468.9 417.8 L1466.4 419.2 L1463.9 420.6 L1461.4 422Z"/>
<path class="m" d="M1461.4 307.5 L1463.9 307.8 L1466.4 308.2 L1468.9 308.6 L1471.4 309 L1473.9 309.3 L1476.4 309.7 L1479 310.1 L1481.5 310.5 L1484 310.9 L1486.5 311.2 L1489 311.6 L1491.5 312 L1494 312.4 L1496.5 312.8 L1499.1 313.1 L1501.6 313.5 L1504.1 313.9 L1506.6 314.3 L1509.1 314.7 L1511.6 315 L1514.1 315.4 L1516.6 315.8 L1519.2 316.2 L1521.7 316.5 L1524.2 316.9 L1526.7 317.3 L1529.2 317.6 L1531.7 318 L1534.2 318.3 L1536.7 318.7 L1539.3 319 L1541.8 319.4 L1544.3 319.7 L1546.8 320 L1549.3 320.3 L1551.8 320.6 L1554.3 320.9 L1556.8 321.2 L1559.4 321.5 L1561.9 321.8 L1564.4 322 L1566.9 322.3 L1569.4 322.5 L1571.9 322.7 L1574.4 322.9 L1576.9 323.1 L1579.5 323.2 L1582 323.4 L1584.5 323.5 L1587 323.6 L1589.5 323.7 L1592 323.8 L1594.5 323.8 L1597 323.9 L1599.6 323.9 L1602.1 323.9 L1604.6 323.8 L1607.1 323.8 L1609.6 323.7 L1612.1 323.6 L1614.6 323.4 L1617.1 323.3 L1619.7 323.1 L1622.2 322.9 L1624.7 322.7 L1627.2 322.4 L1629.7 322.2 L1632.2 321.9 L1634.7 321.5 L1637.3 321.2 L1639.8 320.8 L1642.3 320.4 L1644.8 320 L1647.3 319.6 L1649.8 319.1 L1652.3 318.6 L1654.8 318.1 L1657.4 317.6 L1659.9 317 L1662.4 316.5 L1664.9 315.9 L1667.4 315.2 L1669.9 314.6 L1672.4 313.9 L1674.9 313.3 L1677.5 312.6 L1680 311.8 L1682.5 311.1 L1685 310.3 L1687.5 309.5 L1690 308.7 L1692.5 307.9 L1695 307.1 L1697.6 306.2 L1700.1 305.3 L1702.6 304.4 L1705.1 303.5 L1707.6 302.6 L1710.1 301.6 L1712.6 300.7 L1715.1 299.7 L1717.7 298.7 L1720.2 297.6 L1722.7 296.6 L1725.2 295.5 L1727.7 294.5 L1730.2 293.4 L1732.7 292.3 L1735.2 291.1 L1737.8 290 L1740.3 288.8 L1742.8 287.7 L1745.3 286.5 L1747.8 285.3 L1750.3 284 L1752.8 282.8 L1755.3 281.5 L1757.9 280.3 L1760.4 279 L1762.9 277.6 L1765.4 276.3 L1767.9 274.9 L1770.4 273.6 L1772.9 272.2 L1775.4 270.7 L1778 269.3 L1780.5 267.8 L1783 266.3 L1785.5 264.8 L1788 263.3 L1790.5 261.7 L1793 260.2 L1795.6 258.6 L1798.1 257 L1800.6 255.3 L1803.1 253.7 L1805.6 252 L1808.1 250.4 L1810.6 248.7 L1813.1 247 L1815.7 245.3 L1818.2 243.5 L1820.7 241.8 L1823.2 240.1 L1825.7 238.3 L1828.2 236.5 L1830.7 234.8 L1833.2 233 L1835.8 231.2 L1838.3 229.4 L1840.8 227.6 L1843.3 225.8 L1845.8 223.9 L1848.3 222.1 L1850.8 220.3 L1853.3 218.5 L1855.9 216.7 L1858.4 214.8 L1860.9 213 L1863.4 211.2 L1865.9 209.4 L1868.4 207.5 L1870.9 205.7 L1873.4 203.9 L1876 202.1 L1878.5 200.2 L1881 198.4 L1883.5 196.6 L1886 194.8 L1888.5 193 L1891 191.2 L1893.5 189.4 L1896.1 187.6 L1898.6 185.8 L1901.1 184 L1903.6 182.2 L1906.1 180.4 L1908.6 178.6 L1911.1 176.9 L1913.6 175.1 L1916.2 173.3 L1918.7 171.6 L1921.2 169.8 L1923.7 168 L1926.2 166.3 L1928.7 164.5 L1931.2 162.8 L1933.7 161.1 L1936.3 159.3 L1938.8 157.6 L1941.3 155.9 L1943.8 154.1 L1946.3 152.4 L1948.8 150.7 L1951.3 149 L1953.8 147.3 L1956.4 145.5 L1958.9 143.8 L1961.4 142.1 L1963.9 140.4 L1966.4 138.7 L1968.9 137 L1971.4 135.3 L1974 133.6"/>
<path class="a" d="M1417.3 21.5 V433.8 H1984.9"/>
<line class="ty" x1="1410.3" y1="32.4" x2="1417.3" y2="32.4"/>
<text class="tk" text-anchor="middle" transform="translate(1402.4 32.4) rotate(-90)">85</text>
<line class="ty" x1="1410.3" y1="104.1" x2="1417.3" y2="104.1"/>
<text class="tk" text-anchor="middle" transform="translate(1402.4 104.1) rotate(-90)">84</text>
<line class="ty" x1="1410.3" y1="176" x2="1417.3" y2="176"/>
<text class="tk" text-anchor="middle" transform="translate(1402.4 176) rotate(-90)">83</text>
<line class="ty" x1="1410.3" y1="247.6" x2="1417.3" y2="247.6"/>
<text class="tk" text-anchor="middle" transform="translate(1402.4 247.6) rotate(-90)">82</text>
<line class="ty" x1="1410.3" y1="319.5" x2="1417.3" y2="319.5"/>
<text class="tk" text-anchor="middle" transform="translate(1402.4 319.5) rotate(-90)">81</text>
<line class="ty" x1="1410.3" y1="391.2" x2="1417.3" y2="391.2"/>
<text class="tk" text-anchor="middle" transform="translate(1402.4 391.2) rotate(-90)">80</text>
<line class="t" x1="1428.3" y1="433.8" x2="1428.3" y2="440.8"/>
<text class="tk" text-anchor="middle" x="1428.3" y="465.1">10</text>
<line class="t" x1="1564.9" y1="433.8" x2="1564.9" y2="440.8"/>
<text class="tk" text-anchor="middle" x="1564.9" y="465.1">20</text>
<line class="t" x1="1701" y1="433.8" x2="1701" y2="440.8"/>
<text class="tk" text-anchor="middle" x="1701" y="465.1">30</text>
<line class="t" x1="1837.6" y1="433.8" x2="1837.6" y2="440.8"/>
<text class="tk" text-anchor="middle" x="1837.6" y="465.1">40</text>
<line class="t" x1="1974.1" y1="433.8" x2="1974.1" y2="440.8"/>
<text class="tk" text-anchor="middle" x="1974.1" y="465.1">50</text>
<text class="ax" text-anchor="middle" x="1701" y="488.6">Body Mass Index (kg/m^2)</text>
<text class="ax" text-anchor="middle" transform="translate(1378.5 225.3) rotate(-90)">Adjusted FEV1-FVC ratio %</text>
<text class="tt" x="1479.9" y="38.2">Pnon-linear&lt;0.05</text>
</g>
<g>
<line class="g" x1="86.9" y1="543.5" x2="651.7" y2="543.5"/>
<line class="g" x1="86.9" y1="673.3" x2="651.7" y2="673.3"/>
<line class="g" x1="86.9" y1="803.2" x2="651.7" y2="803.2"/>
<line class="g" x1="86.9" y1="933" x2="651.7" y2="933"/>
<path class="b" d="M95.9 552.9 L98.5 553.9 L101 554.9 L103.5 555.9 L106 556.9 L108.5 557.9 L111.1 558.9 L113.6 559.9 L116.1 560.9 L118.6 561.9 L121.1 563 L123.7 564 L126.2 565 L128.7 566 L131.2 567.1 L133.7 568.1 L136.3 569.2 L138.8 570.2 L141.3 571.3 L143.8 572.3 L146.3 573.4 L148.9 574.4 L151.4 575.5 L153.9 576.6 L156.4 577.7 L158.9 578.8 L161.5 579.9 L164 581 L166.5 582.1 L169 583.2 L171.5 584.3 L174.1 585.5 L176.6 586.6 L179.1 587.7 L181.6 588.9 L184.1 590 L186.6 591.2 L189.2 592.3 L191.7 593.5 L194.2 594.6 L196.7 595.8 L199.2 597 L201.8 598.2 L204.3 599.3 L206.8 600.5 L209.3 601.7 L211.8 602.9 L214.4 604.1 L216.9 605.2 L219.4 606.4 L221.9 607.6 L224.4 608.8 L227 609.9 L229.5 611.1 L232 612.3 L234.5 613.4 L237 614.6 L239.6 615.7 L242.1 616.8 L244.6 617.9 L247.1 619.1 L249.6 620.1 L252.2 621.2 L254.7 622.3 L257.2 623.4 L259.7 624.4 L262.2 625.4 L264.7 626.4 L267.3 627.4 L269.8 628.4 L272.3 629.4 L274.8 630.3 L277.3 631.2 L279.9 632.1 L282.4 633 L284.9 633.8 L287.4 634.6 L289.9 635.4 L292.5 636.2 L295 636.9 L297.5 637.7 L300 638.4 L302.5 639 L305.1 639.7 L307.6 640.3 L310.1 640.9 L312.6 641.5 L315.1 642.1 L317.7 642.6 L320.2 643.1 L322.7 643.7 L325.2 644.2 L327.7 644.6 L330.3 645.1 L332.8 645.6 L335.3 646 L337.8 646.5 L340.3 646.9 L342.9 647.3 L345.4 647.8 L347.9 648.2 L350.4 648.7 L352.9 649.1 L355.4 649.6 L358 650.1 L360.5 650.6 L363 651.1 L365.5 651.6 L368 652.1 L370.6 652.7 L373.1 653.3 L375.6 653.9 L378.1 654.5 L380.6 655.2 L383.2 655.8 L385.7 656.5 L388.2 657.3 L390.7 658 L393.2 658.8 L395.8 659.7 L398.3 660.5 L400.8 661.4 L403.3 662.3 L405.8 663.3 L408.4 664.2 L410.9 665.2 L413.4 666.3 L415.9 667.3 L418.4 668.4 L421 669.5 L423.5 670.7 L426 671.9 L428.5 673.1 L431 674.3 L433.5 675.6 L436.1 676.9 L438.6 678.2 L441.1 679.5 L443.6 680.9 L446.1 682.2 L448.7 683.6 L451.2 685 L453.7 686.5 L456.2 687.9 L458.7 689.4 L461.3 690.8 L463.8 692.3 L466.3 693.8 L468.8 695.3 L471.3 696.8 L473.9 698.3 L476.4 699.8 L478.9 701.3 L481.4 702.8 L483.9 704.3 L486.5 705.8 L489 707.3 L491.5 708.8 L494 710.3 L496.5 711.7 L499.1 713.2 L501.6 714.7 L504.1 716.2 L506.6 717.6 L509.1 719 L511.7 720.5 L514.2 721.9 L516.7 723.3 L519.2 724.7 L521.7 726.1 L524.2 727.5 L526.8 728.9 L529.3 730.2 L531.8 731.6 L534.3 732.9 L536.8 734.2 L539.4 735.5 L541.9 736.8 L544.4 738.1 L546.9 739.4 L549.4 740.6 L552 741.9 L554.5 743.1 L557 744.4 L559.5 745.6 L562 746.8 L564.6 748 L567.1 749.2 L569.6 750.4 L572.1 751.5 L574.6 752.7 L577.2 753.9 L579.7 755 L582.2 756.1 L584.7 757.3 L587.2 758.4 L589.8 759.5 L592.3 760.6 L594.8 761.7 L597.3 762.8 L599.8 763.9 L602.3 765 L604.9 766.1 L607.4 767.2 L609.9 768.2 L612.4 769.3 L614.9 770.4 L617.5 771.5 L620 772.5 L622.5 773.6 L625 774.7 L627.5 775.7 L630.1 776.8 L632.6 777.9 L635.1 779 L637.6 780 L640.1 781.1 L640.1 929.7 L637.6 926.8 L635.1 923.9 L632.6 921.1 L630.1 918.2 L627.5 915.3 L625 912.4 L622.5 909.5 L620 906.5 L617.5 903.5 L614.9 900.6 L612.4 897.6 L609.9 894.5 L607.4 891.5 L604.9 888.5 L602.3 885.4 L599.8 882.3 L597.3 879.3 L594.8 876.2 L592.3 873.1 L589.8 870.1 L587.2 867 L584.7 863.9 L582.2 860.8 L579.7 857.7 L577.2 854.7 L574.6 851.6 L572.1 848.6 L569.6 845.5 L567.1 842.5 L564.6 839.5 L562 836.5 L559.5 833.5 L557 830.6 L554.5 827.6 L552 824.7 L549.4 821.8 L546.9 818.9 L544.4 816.1 L541.9 813.2 L539.4 810.4 L536.8 807.7 L534.3 804.9 L531.8 802.2 L529.3 799.5 L526.8 796.9 L524.2 794.3 L521.7 791.7 L519.2 789.1 L516.7 786.6 L514.2 784.1 L511.7 781.7 L509.1 779.3 L506.6 776.9 L504.1 774.6 L501.6 772.3 L499.1 770 L496.5 767.8 L494 765.6 L491.5 763.5 L489 761.4 L486.5 759.3 L483.9 757.3 L481.4 755.3 L478.9 753.4 L476.4 751.5 L473.9 749.6 L471.3 747.7 L468.8 745.9 L466.3 744.1 L463.8 742.4 L461.3 740.7 L458.7 739 L456.2 737.4 L453.7 735.7 L451.2 734.2 L448.7 732.6 L446.1 731.1 L443.6 729.5 L441.1 728.1 L438.6 726.6 L436.1 725.2 L433.5 723.8 L431 722.4 L428.5 721 L426 719.7 L423.5 718.4 L421 717.1 L418.4 715.8 L415.9 714.5 L413.4 713.3 L410.9 712.1 L408.4 710.9 L405.8 709.7 L403.3 708.6 L400.8 707.5 L398.3 706.3 L395.8 705.2 L393.2 704.2 L390.7 703.1 L388.2 702.1 L385.7 701.1 L383.2 700.1 L380.6 699.2 L378.1 698.2 L375.6 697.3 L373.1 696.4 L370.6 695.6 L368 694.8 L365.5 694 L363 693.2 L360.5 692.5 L358 691.8 L355.4 691.1 L352.9 690.5 L350.4 689.9 L347.9 689.3 L345.4 688.8 L342.9 688.3 L340.3 687.9 L337.8 687.5 L335.3 687.1 L332.8 686.8 L330.3 686.5 L327.7 686.3 L325.2 686.1 L322.7 686 L320.2 685.9 L317.7 685.9 L315.1 685.9 L312.6 685.9 L310.1 686 L307.6 686.1 L305.1 686.3 L302.5 686.6 L300 686.8 L297.5 687.1 L295 687.5 L292.5 687.9 L289.9 688.3 L287.4 688.8 L284.9 689.3 L282.4 689.8 L279.9 690.4 L277.3 691 L274.8 691.6 L272.3 692.3 L269.8 693 L267.3 693.8 L264.7 694.5 L262.2 695.3 L259.7 696.1 L257.2 696.9 L254.7 697.8 L252.2 698.7 L249.6 699.5 L247.1 700.5 L244.6 701.4 L242.1 702.3 L239.6 703.3 L237 704.2 L234.5 705.2 L232 706.2 L229.5 707.2 L227 708.2 L224.4 709.3 L221.9 710.3 L219.4 711.3 L216.9 712.4 L214.4 713.4 L211.8 714.5 L209.3 715.5 L206.8 716.6 L204.3 717.6 L201.8 718.7 L199.2 719.8 L196.7 720.8 L194.2 721.9 L191.7 723 L189.2 724 L186.6 725.1 L184.1 726.2 L181.6 727.2 L179.1 728.3 L176.6 729.4 L174.1 730.4 L171.5 731.5 L169 732.6 L166.5 733.7 L164 734.7 L161.5 735.8 L158.9 736.9 L156.4 737.9 L153.9 739 L151.4 740.1 L148.9 741.1 L146.3 742.2 L143.8 743.3 L141.3 744.3 L138.8 745.4 L136.3 746.4 L133.7 747.5 L131.2 748.6 L128.7 749.6 L126.2 750.7 L123.7 751.7 L121.1 752.8 L118.6 753.8 L116.1 754.9 L113.6 755.9 L111.1 757 L108.5 758 L106 759 L103.5 760.1 L101 761.1 L98.5 762.2 L95.9 763.2Z"/>
<path class="m" d="M95.9 658.1 L98.5 658.2 L101 658.2 L103.5 658.3 L106 658.4 L108.5 658.4 L111.1 658.5 L113.6 658.5 L116.1 658.6 L118.6 658.7 L121.1 658.7 L123.7 658.8 L126.2 658.9 L128.7 658.9 L131.2 659 L133.7 659 L136.3 659.1 L138.8 659.1 L141.3 659.2 L143.8 659.3 L146.3 659.3 L148.9 659.4 L151.4 659.4 L153.9 659.5 L156.4 659.5 L158.9 659.6 L161.5 659.7 L164 659.7 L166.5 659.8 L169 659.8 L171.5 659.9 L174.1 659.9 L176.6 660 L179.1 660 L181.6 660.1 L184.1 660.1 L186.6 660.2 L189.2 660.2 L191.7 660.3 L194.2 660.3 L196.7 660.4 L199.2 660.4 L201.8 660.5 L204.3 660.5 L206.8 660.5 L209.3 660.6 L211.8 660.6 L214.4 660.7 L216.9 660.7 L219.4 660.8 L221.9 660.8 L224.4 660.8 L227 660.9 L229.5 660.9 L232 661 L234.5 661 L237 661 L239.6 661.1 L242.1 661.1 L244.6 661.2 L247.1 661.2 L249.6 661.3 L252.2 661.3 L254.7 661.4 L257.2 661.4 L259.7 661.5 L262.2 661.5 L264.7 661.6 L267.3 661.7 L269.8 661.8 L272.3 661.8 L274.8 661.9 L277.3 662 L279.9 662.1 L282.4 662.2 L284.9 662.3 L287.4 662.4 L289.9 662.6 L292.5 662.7 L295 662.9 L297.5 663 L300 663.2 L302.5 663.4 L305.1 663.6 L307.6 663.8 L310.1 664 L312.6 664.2 L315.1 664.5 L317.7 664.7 L320.2 665 L322.7 665.3 L325.2 665.6 L327.7 666 L330.3 666.3 L332.8 666.7 L335.3 667.1 L337.8 667.5 L340.3 668 L342.9 668.4 L345.4 668.9 L347.9 669.4 L350.4 670 L352.9 670.5 L355.4 671.1 L358 671.7 L360.5 672.3 L363 673 L365.5 673.7 L368 674.4 L370.6 675.2 L373.1 675.9 L375.6 676.7 L378.1 677.6 L380.6 678.4 L383.2 679.3 L385.7 680.2 L388.2 681.1 L390.7 682.1 L393.2 683.1 L395.8 684.1 L398.3 685.1 L400.8 686.2 L403.3 687.3 L405.8 688.4 L408.4 689.5 L410.9 690.7 L413.4 691.9 L415.9 693.1 L418.4 694.3 L421 695.5 L423.5 696.8 L426 698.1 L428.5 699.4 L431 700.7 L433.5 702 L436.1 703.4 L438.6 704.7 L441.1 706.1 L443.6 707.5 L446.1 708.9 L448.7 710.4 L451.2 711.8 L453.7 713.3 L456.2 714.8 L458.7 716.3 L461.3 717.8 L463.8 719.3 L466.3 720.8 L468.8 722.4 L471.3 724 L473.9 725.5 L476.4 727.1 L478.9 728.7 L481.4 730.3 L483.9 732 L486.5 733.6 L489 735.2 L491.5 736.9 L494 738.6 L496.5 740.3 L499.1 742 L501.6 743.7 L504.1 745.4 L506.6 747.2 L509.1 748.9 L511.7 750.7 L514.2 752.4 L516.7 754.2 L519.2 756 L521.7 757.8 L524.2 759.7 L526.8 761.5 L529.3 763.3 L531.8 765.2 L534.3 767.1 L536.8 769 L539.4 770.9 L541.9 772.8 L544.4 774.7 L546.9 776.6 L549.4 778.6 L552 780.5 L554.5 782.5 L557 784.5 L559.5 786.5 L562 788.5 L564.6 790.5 L567.1 792.5 L569.6 794.5 L572.1 796.6 L574.6 798.6 L577.2 800.7 L579.7 802.7 L582.2 804.8 L584.7 806.9 L587.2 809 L589.8 811.1 L592.3 813.2 L594.8 815.3 L597.3 817.4 L599.8 819.6 L602.3 821.7 L604.9 823.8 L607.4 826 L609.9 828.1 L612.4 830.3 L614.9 832.5 L617.5 834.6 L620 836.8 L622.5 839 L625 841.2 L627.5 843.4 L630.1 845.6 L632.6 847.8 L635.1 850 L637.6 852.2 L640.1 854.4"/>
<path class="a" d="M83.9 532.3 V944.6 H651.7"/>
<line class="ty" x1="76.9" y1="543.5" x2="83.9" y2="543.5"/>
<text class="tk" text-anchor="middle" transform="translate(69 543.5) rotate(-90)">105</text>
<line class="ty" x1="76.9" y1="673.3" x2="83.9" y2="673.3"/>
<text class="tk" text-anchor="middle" transform="translate(69 673.3) rotate(-90)">100</text>
<line class="ty" x1="76.9" y1="803.2" x2="83.9" y2="803.2"/>
<text class="tk" text-anchor="middle" transform="translate(69 803.2) rotate(-90)">95</text>
<line class="ty" x1="76.9" y1="933" x2="83.9" y2="933"/>
<text class="tk" text-anchor="middle" transform="translate(69 933) rotate(-90)">90</text>
<line class="t" x1="106.8" y1="944.6" x2="106.8" y2="951.6"/>
<text class="tk" text-anchor="middle" x="106.8" y="975.9">40</text>
<line class="t" x1="213.3" y1="944.6" x2="213.3" y2="951.6"/>
<text class="tk" text-anchor="middle" x="213.3" y="975.9">60</text>
<line class="t" x1="319.4" y1="944.6" x2="319.4" y2="951.6"/>
<text class="tk" text-anchor="middle" x="319.4" y="975.9">80</text>
<line class="t" x1="426.4" y1="944.6" x2="426.4" y2="951.6"/>
<text class="tk" text-anchor="middle" x="426.4" y="975.9">100</text>
<line class="t" x1="532.7" y1="944.6" x2="532.7" y2="951.6"/>
<text class="tk" text-anchor="middle" x="532.7" y="975.9">120</text>
<line class="t" x1="639.8" y1="944.6" x2="639.8" y2="951.6"/>
<text class="tk" text-anchor="middle" x="639.8" y="975.9">140</text>
<text class="ax" text-anchor="middle" x="368.3" y="999.4">Waist Circumference (cm)</text>
<text class="ax" text-anchor="middle" transform="translate(45.1 736.1) rotate(-90)">Adjusted FEV1 % predicted value</text>
<text class="tt" x="134.8" y="548.2">Pnon-linear&lt;0.05</text>
</g>
<g>
<line class="g" x1="753.2" y1="543.5" x2="1318.9" y2="543.5"/>
<line class="g" x1="753.2" y1="664.9" x2="1318.9" y2="664.9"/>
<line class="g" x1="753.2" y1="786.3" x2="1318.9" y2="786.3"/>
<line class="g" x1="753.2" y1="907.7" x2="1318.9" y2="907.7"/>
<path class="b" d="M761.9 563.8 L764.5 563.9 L767 564.1 L769.5 564.3 L772 564.5 L774.6 564.7 L777.1 564.9 L779.6 565.1 L782.1 565.3 L784.7 565.5 L787.2 565.7 L789.7 565.9 L792.2 566.1 L794.7 566.3 L797.3 566.4 L799.8 566.6 L802.3 566.8 L804.8 567 L807.4 567.2 L809.9 567.4 L812.4 567.6 L814.9 567.8 L817.5 568 L820 568.2 L822.5 568.4 L825 568.6 L827.5 568.8 L830.1 569 L832.6 569.2 L835.1 569.4 L837.6 569.6 L840.2 569.8 L842.7 570 L845.2 570.2 L847.7 570.4 L850.3 570.6 L852.8 570.8 L855.3 570.9 L857.8 571.1 L860.3 571.3 L862.9 571.5 L865.4 571.7 L867.9 571.8 L870.4 572 L873 572.2 L875.5 572.3 L878 572.5 L880.5 572.6 L883.1 572.8 L885.6 572.9 L888.1 573 L890.6 573.2 L893.1 573.3 L895.7 573.4 L898.2 573.5 L900.7 573.6 L903.2 573.7 L905.8 573.8 L908.3 573.9 L910.8 574 L913.3 574.1 L915.9 574.1 L918.4 574.2 L920.9 574.2 L923.4 574.3 L925.9 574.3 L928.5 574.4 L931 574.4 L933.5 574.4 L936 574.4 L938.6 574.5 L941.1 574.5 L943.6 574.5 L946.1 574.5 L948.7 574.5 L951.2 574.5 L953.7 574.5 L956.2 574.5 L958.7 574.5 L961.3 574.4 L963.8 574.4 L966.3 574.4 L968.8 574.4 L971.4 574.4 L973.9 574.5 L976.4 574.5 L978.9 574.5 L981.5 574.5 L984 574.6 L986.5 574.6 L989 574.7 L991.6 574.8 L994.1 574.9 L996.6 575 L999.1 575.1 L1001.6 575.3 L1004.2 575.4 L1006.7 575.6 L1009.2 575.9 L1011.7 576.1 L1014.3 576.4 L1016.8 576.7 L1019.3 577 L1021.8 577.4 L1024.4 577.8 L1026.9 578.2 L1029.4 578.7 L1031.9 579.2 L1034.4 579.8 L1037 580.4 L1039.5 581 L1042 581.7 L1044.5 582.4 L1047.1 583.2 L1049.6 584 L1052.1 584.9 L1054.6 585.7 L1057.2 586.7 L1059.7 587.7 L1062.2 588.7 L1064.7 589.8 L1067.2 590.9 L1069.8 592.1 L1072.3 593.3 L1074.8 594.5 L1077.3 595.8 L1079.9 597.1 L1082.4 598.5 L1084.9 599.9 L1087.4 601.3 L1090 602.8 L1092.5 604.3 L1095 605.8 L1097.5 607.4 L1100 609 L1102.6 610.6 L1105.1 612.3 L1107.6 614 L1110.1 615.7 L1112.7 617.4 L1115.2 619.2 L1117.7 621 L1120.2 622.8 L1122.8 624.6 L1125.3 626.4 L1127.8 628.3 L1130.3 630.1 L1132.8 632 L1135.4 633.9 L1137.9 635.8 L1140.4 637.7 L1142.9 639.6 L1145.5 641.6 L1148 643.6 L1150.5 645.6 L1153 647.6 L1155.6 649.6 L1158.1 651.6 L1160.6 653.7 L1163.1 655.7 L1165.6 657.8 L1168.2 659.9 L1170.7 662.1 L1173.2 664.2 L1175.7 666.4 L1178.3 668.6 L1180.8 670.9 L1183.3 673.1 L1185.8 675.4 L1188.4 677.8 L1190.9 680.1 L1193.4 682.5 L1195.9 684.9 L1198.4 687.3 L1201 689.8 L1203.5 692.3 L1206 694.8 L1208.5 697.3 L1211.1 699.9 L1213.6 702.5 L1216.1 705.1 L1218.6 707.8 L1221.2 710.4 L1223.7 713.1 L1226.2 715.8 L1228.7 718.6 L1231.2 721.3 L1233.8 724 L1236.3 726.8 L1238.8 729.5 L1241.3 732.3 L1243.9 735.1 L1246.4 737.8 L1248.9 740.5 L1251.4 743.2 L1254 745.9 L1256.5 748.6 L1259 751.2 L1261.5 753.8 L1264 756.4 L1266.6 759 L1269.1 761.6 L1271.6 764.1 L1274.1 766.7 L1276.7 769.2 L1279.2 771.8 L1281.7 774.3 L1284.2 776.9 L1286.8 779.5 L1289.3 782.1 L1291.8 784.7 L1294.3 787.3 L1296.8 790 L1299.4 792.7 L1301.9 795.4 L1304.4 798.2 L1306.9 800.9 L1306.9 932.6 L1304.4 928.6 L1301.9 924.5 L1299.4 920.4 L1296.8 916.3 L1294.3 912.2 L1291.8 908.1 L1289.3 904 L1286.8 899.9 L1284.2 895.7 L1281.7 891.6 L1279.2 887.4 L1276.7 883.2 L1274.1 879 L1271.6 874.8 L1269.1 870.6 L1266.6 866.4 L1264 862.2 L1261.5 857.9 L1259 853.7 L1256.5 849.4 L1254 845.2 L1251.4 841 L1248.9 836.7 L1246.4 832.5 L1243.9 828.3 L1241.3 824.2 L1238.8 820 L1236.3 815.9 L1233.8 811.7 L1231.2 807.6 L1228.7 803.6 L1226.2 799.5 L1223.7 795.5 L1221.2 791.5 L1218.6 787.6 L1216.1 783.6 L1213.6 779.8 L1211.1 775.9 L1208.5 772.1 L1206 768.2 L1203.5 764.5 L1201 760.8 L1198.4 757.1 L1195.9 753.4 L1193.4 749.8 L1190.9 746.2 L1188.4 742.7 L1185.8 739.2 L1183.3 735.7 L1180.8 732.3 L1178.3 728.9 L1175.7 725.6 L1173.2 722.3 L1170.7 719.1 L1168.2 715.9 L1165.6 712.7 L1163.1 709.6 L1160.6 706.5 L1158.1 703.5 L1155.6 700.6 L1153 697.6 L1150.5 694.8 L1148 691.9 L1145.5 689.1 L1142.9 686.4 L1140.4 683.7 L1137.9 681 L1135.4 678.4 L1132.8 675.8 L1130.3 673.3 L1127.8 670.8 L1125.3 668.4 L1122.8 665.9 L1120.2 663.6 L1117.7 661.2 L1115.2 658.9 L1112.7 656.7 L1110.1 654.4 L1107.6 652.3 L1105.1 650.1 L1102.6 648.1 L1100 646.1 L1097.5 644.1 L1095 642.2 L1092.5 640.3 L1090 638.5 L1087.4 636.8 L1084.9 635.1 L1082.4 633.4 L1079.9 631.8 L1077.3 630.2 L1074.8 628.7 L1072.3 627.3 L1069.8 625.8 L1067.2 624.5 L1064.7 623.2 L1062.2 621.9 L1059.7 620.7 L1057.2 619.5 L1054.6 618.4 L1052.1 617.3 L1049.6 616.3 L1047.1 615.3 L1044.5 614.4 L1042 613.5 L1039.5 612.7 L1037 611.9 L1034.4 611.2 L1031.9 610.6 L1029.4 610 L1026.9 609.5 L1024.4 609 L1021.8 608.6 L1019.3 608.2 L1016.8 607.9 L1014.3 607.6 L1011.7 607.4 L1009.2 607.3 L1006.7 607.2 L1004.2 607.2 L1001.6 607.3 L999.1 607.4 L996.6 607.6 L994.1 607.8 L991.6 608.1 L989 608.4 L986.5 608.8 L984 609.3 L981.5 609.8 L978.9 610.4 L976.4 611 L973.9 611.7 L971.4 612.4 L968.8 613.2 L966.3 614 L963.8 614.9 L961.3 615.9 L958.7 616.8 L956.2 617.9 L953.7 618.9 L951.2 620 L948.7 621.2 L946.1 622.4 L943.6 623.6 L941.1 624.9 L938.6 626.2 L936 627.5 L933.5 628.9 L931 630.2 L928.5 631.7 L925.9 633.1 L923.4 634.6 L920.9 636.1 L918.4 637.6 L915.9 639.1 L913.3 640.6 L910.8 642.2 L908.3 643.8 L905.8 645.3 L903.2 646.9 L900.7 648.5 L898.2 650.1 L895.7 651.7 L893.1 653.4 L890.6 655 L888.1 656.6 L885.6 658.2 L883.1 659.8 L880.5 661.4 L878 663 L875.5 664.6 L873 666.2 L870.4 667.8 L867.9 669.4 L865.4 671 L862.9 672.6 L860.3 674.2 L857.8 675.7 L855.3 677.3 L852.8 678.9 L850.3 680.4 L847.7 682 L845.2 683.5 L842.7 685.1 L840.2 686.6 L837.6 688.1 L835.1 689.7 L832.6 691.2 L830.1 692.7 L827.5 694.2 L825 695.8 L822.5 697.3 L820 698.8 L817.5 700.3 L814.9 701.8 L812.4 703.3 L809.9 704.8 L807.4 706.3 L804.8 707.8 L802.3 709.3 L799.8 710.8 L797.3 712.3 L794.7 713.7 L792.2 715.2 L789.7 716.7 L787.2 718.2 L784.7 719.7 L782.1 721.2 L779.6 722.6 L777.1 724.1 L774.6 725.6 L772 727.1 L769.5 728.5 L767 730 L764.5 731.5 L761.9 733Z"/>
<path class="m" d="M761.9 648.8 L764.5 648 L767 647.3 L769.5 646.6 L772 645.8 L774.6 645.1 L777.1 644.4 L779.6 643.6 L782.1 642.9 L784.7 642.2 L787.2 641.4 L789.7 640.7 L792.2 640 L794.7 639.2 L797.3 638.5 L799.8 637.8 L802.3 637 L804.8 636.3 L807.4 635.6 L809.9 634.8 L812.4 634.1 L814.9 633.3 L817.5 632.6 L820 631.9 L822.5 631.1 L825 630.4 L827.5 629.6 L830.1 628.9 L832.6 628.1 L835.1 627.4 L837.6 626.6 L840.2 625.9 L842.7 625.1 L845.2 624.3 L847.7 623.6 L850.3 622.8 L852.8 622.1 L855.3 621.3 L857.8 620.5 L860.3 619.8 L862.9 619 L865.4 618.2 L867.9 617.5 L870.4 616.7 L873 615.9 L875.5 615.2 L878 614.4 L880.5 613.6 L883.1 612.9 L885.6 612.1 L888.1 611.3 L890.6 610.6 L893.1 609.8 L895.7 609 L898.2 608.3 L900.7 607.5 L903.2 606.8 L905.8 606.1 L908.3 605.3 L910.8 604.6 L913.3 603.9 L915.9 603.2 L918.4 602.5 L920.9 601.9 L923.4 601.2 L925.9 600.6 L928.5 599.9 L931 599.3 L933.5 598.7 L936 598.1 L938.6 597.6 L941.1 597 L943.6 596.5 L946.1 596 L948.7 595.5 L951.2 595 L953.7 594.5 L956.2 594.1 L958.7 593.7 L961.3 593.3 L963.8 593 L966.3 592.6 L968.8 592.3 L971.4 592 L973.9 591.8 L976.4 591.6 L978.9 591.4 L981.5 591.2 L984 591 L986.5 590.9 L989 590.9 L991.6 590.8 L994.1 590.8 L996.6 590.8 L999.1 590.9 L1001.6 591 L1004.2 591.1 L1006.7 591.3 L1009.2 591.5 L1011.7 591.7 L1014.3 592 L1016.8 592.3 L1019.3 592.7 L1021.8 593.1 L1024.4 593.5 L1026.9 594 L1029.4 594.6 L1031.9 595.2 L1034.4 595.8 L1037 596.5 L1039.5 597.2 L1042 597.9 L1044.5 598.7 L1047.1 599.6 L1049.6 600.5 L1052.1 601.4 L1054.6 602.4 L1057.2 603.4 L1059.7 604.5 L1062.2 605.6 L1064.7 606.7 L1067.2 607.9 L1069.8 609.2 L1072.3 610.4 L1074.8 611.7 L1077.3 613.1 L1079.9 614.5 L1082.4 615.9 L1084.9 617.4 L1087.4 618.9 L1090 620.4 L1092.5 622 L1095 623.6 L1097.5 625.2 L1100 626.9 L1102.6 628.6 L1105.1 630.3 L1107.6 632.1 L1110.1 634 L1112.7 635.9 L1115.2 637.8 L1117.7 639.8 L1120.2 641.8 L1122.8 643.9 L1125.3 646 L1127.8 648.2 L1130.3 650.4 L1132.8 652.7 L1135.4 655.1 L1137.9 657.5 L1140.4 659.9 L1142.9 662.4 L1145.5 665 L1148 667.6 L1150.5 670.2 L1153 672.9 L1155.6 675.6 L1158.1 678.4 L1160.6 681.2 L1163.1 684 L1165.6 686.9 L1168.2 689.7 L1170.7 692.7 L1173.2 695.6 L1175.7 698.6 L1178.3 701.5 L1180.8 704.5 L1183.3 707.6 L1185.8 710.6 L1188.4 713.7 L1190.9 716.8 L1193.4 719.9 L1195.9 723.1 L1198.4 726.2 L1201 729.4 L1203.5 732.6 L1206 735.8 L1208.5 739.1 L1211.1 742.3 L1213.6 745.6 L1216.1 748.9 L1218.6 752.2 L1221.2 755.5 L1223.7 758.9 L1226.2 762.2 L1228.7 765.6 L1231.2 769 L1233.8 772.3 L1236.3 775.7 L1238.8 779.1 L1241.3 782.5 L1243.9 785.9 L1246.4 789.3 L1248.9 792.7 L1251.4 796.1 L1254 799.5 L1256.5 802.8 L1259 806.2 L1261.5 809.5 L1264 812.8 L1266.6 816 L1269.1 819.3 L1271.6 822.6 L1274.1 825.8 L1276.7 829 L1279.2 832.2 L1281.7 835.4 L1284.2 838.6 L1286.8 841.8 L1289.3 844.9 L1291.8 848.1 L1294.3 851.2 L1296.8 854.4 L1299.4 857.5 L1301.9 860.7 L1304.4 863.8 L1306.9 866.9"/>
<path class="a" d="M750.2 532.3 V944.6 H1318.9"/>
<line class="ty" x1="743.2" y1="543.5" x2="750.2" y2="543.5"/>
<text class="tk" text-anchor="middle" transform="translate(735.3 543.5) rotate(-90)">105</text>
<line class="ty" x1="743.2" y1="664.9" x2="750.2" y2="664.9"/>
<text class="tk" text-anchor="middle" transform="translate(735.3 664.9) rotate(-90)">100</text>
<line class="ty" x1="743.2" y1="786.3" x2="750.2" y2="786.3"/>
<text class="tk" text-anchor="middle" transform="translate(735.3 786.3) rotate(-90)">95</text>
<line class="ty" x1="743.2" y1="907.7" x2="750.2" y2="907.7"/>
<text class="tk" text-anchor="middle" transform="translate(735.3 907.7) rotate(-90)">90</text>
<line class="t" x1="772.8" y1="944.6" x2="772.8" y2="951.6"/>
<text class="tk" text-anchor="middle" x="772.8" y="975.9">40</text>
<line class="t" x1="879.3" y1="944.6" x2="879.3" y2="951.6"/>
<text class="tk" text-anchor="middle" x="879.3" y="975.9">60</text>
<line class="t" x1="985.4" y1="944.6" x2="985.4" y2="951.6"/>
<text class="tk" text-anchor="middle" x="985.4" y="975.9">80</text>
<line class="t" x1="1092.4" y1="944.6" x2="1092.4" y2="951.6"/>
<text class="tk" text-anchor="middle" x="1092.4" y="975.9">100</text>
<line class="t" x1="1198.7" y1="944.6" x2="1198.7" y2="951.6"/>
<text class="tk" text-anchor="middle" x="1198.7" y="975.9">120</text>
<line class="t" x1="1306.2" y1="944.6" x2="1306.2" y2="951.6"/>
<text class="tk" text-anchor="middle" x="1306.2" y="975.9">140</text>
<text class="ax" text-anchor="middle" x="1034.3" y="999.4">Waist Circumference (cm)</text>
<text class="ax" text-anchor="middle" transform="translate(711.4 736.9) rotate(-90)">Adjusted FVC % predicted value</text>
<text class="tt" x="801.4" y="548.2">Pnon-linear&lt;0.05</text>
</g>
<g>
<line class="g" x1="1420.3" y1="543.5" x2="1984.9" y2="543.5"/>
<line class="g" x1="1420.3" y1="640.8" x2="1984.9" y2="640.8"/>
<line class="g" x1="1420.3" y1="738.3" x2="1984.9" y2="738.3"/>
<line class="g" x1="1420.3" y1="835.9" x2="1984.9" y2="835.9"/>
<line class="g" x1="1420.3" y1="933.4" x2="1984.9" y2="933.4"/>
<path class="b" d="M1428.5 613.3 L1431 616.2 L1433.5 619.2 L1436.1 622.1 L1438.6 625 L1441.1 627.9 L1443.6 630.9 L1446.1 633.8 L1448.6 636.7 L1451.1 639.6 L1453.7 642.6 L1456.2 645.5 L1458.7 648.5 L1461.2 651.4 L1463.7 654.3 L1466.2 657.3 L1468.7 660.3 L1471.2 663.2 L1473.8 666.2 L1476.3 669.1 L1478.8 672.1 L1481.3 675.1 L1483.8 678 L1486.3 681 L1488.8 684 L1491.4 687 L1493.9 690 L1496.4 693 L1498.9 696 L1501.4 699 L1503.9 702 L1506.4 705 L1509 708 L1511.5 711 L1514 714 L1516.5 717 L1519 720 L1521.5 723 L1524 726 L1526.5 729.1 L1529.1 732.1 L1531.6 735.1 L1534.1 738.1 L1536.6 741.1 L1539.1 744.2 L1541.6 747.2 L1544.1 750.2 L1546.7 753.2 L1549.2 756.3 L1551.7 759.3 L1554.2 762.3 L1556.7 765.3 L1559.2 768.3 L1561.7 771.3 L1564.2 774.4 L1566.8 777.4 L1569.3 780.4 L1571.8 783.3 L1574.3 786.3 L1576.8 789.3 L1579.3 792.2 L1581.8 795.1 L1584.4 798 L1586.9 800.9 L1589.4 803.8 L1591.9 806.6 L1594.4 809.5 L1596.9 812.2 L1599.4 815 L1602 817.7 L1604.5 820.4 L1607 823 L1609.5 825.6 L1612 828.2 L1614.5 830.7 L1617 833.2 L1619.5 835.6 L1622.1 837.9 L1624.6 840.2 L1627.1 842.5 L1629.6 844.6 L1632.1 846.7 L1634.6 848.8 L1637.1 850.7 L1639.7 852.6 L1642.2 854.4 L1644.7 856.1 L1647.2 857.7 L1649.7 859.3 L1652.2 860.7 L1654.7 862.1 L1657.2 863.4 L1659.8 864.6 L1662.3 865.7 L1664.8 866.7 L1667.3 867.7 L1669.8 868.6 L1672.3 869.3 L1674.8 870.1 L1677.4 870.7 L1679.9 871.3 L1682.4 871.8 L1684.9 872.3 L1687.4 872.7 L1689.9 873 L1692.4 873.3 L1695 873.5 L1697.5 873.6 L1700 873.8 L1702.5 873.8 L1705 873.9 L1707.5 873.9 L1710 873.8 L1712.5 873.7 L1715.1 873.6 L1717.6 873.5 L1720.1 873.3 L1722.6 873.1 L1725.1 872.8 L1727.6 872.5 L1730.1 872.2 L1732.7 871.9 L1735.2 871.5 L1737.7 871.2 L1740.2 870.8 L1742.7 870.3 L1745.2 869.9 L1747.7 869.4 L1750.2 868.9 L1752.8 868.4 L1755.3 867.9 L1757.8 867.3 L1760.3 866.8 L1762.8 866.2 L1765.3 865.5 L1767.8 864.9 L1770.4 864.2 L1772.9 863.5 L1775.4 862.7 L1777.9 862 L1780.4 861.2 L1782.9 860.3 L1785.4 859.5 L1788 858.5 L1790.5 857.6 L1793 856.6 L1795.5 855.6 L1798 854.5 L1800.5 853.3 L1803 852.2 L1805.5 850.9 L1808.1 849.6 L1810.6 848.3 L1813.1 846.8 L1815.6 845.4 L1818.1 843.8 L1820.6 842.2 L1823.1 840.5 L1825.7 838.8 L1828.2 837 L1830.7 835.1 L1833.2 833.1 L1835.7 831.1 L1838.2 829 L1840.7 826.8 L1843.2 824.6 L1845.8 822.3 L1848.3 819.9 L1850.8 817.4 L1853.3 814.9 L1855.8 812.3 L1858.3 809.7 L1860.8 807 L1863.4 804.2 L1865.9 801.4 L1868.4 798.6 L1870.9 795.7 L1873.4 792.7 L1875.9 789.7 L1878.4 786.7 L1881 783.6 L1883.5 780.5 L1886 777.4 L1888.5 774.2 L1891 771 L1893.5 767.8 L1896 764.6 L1898.5 761.4 L1901.1 758.1 L1903.6 754.9 L1906.1 751.6 L1908.6 748.3 L1911.1 745 L1913.6 741.8 L1916.1 738.5 L1918.7 735.2 L1921.2 732 L1923.7 728.7 L1926.2 725.5 L1928.7 722.3 L1931.2 719.1 L1933.7 715.9 L1936.2 712.7 L1938.8 709.5 L1941.3 706.4 L1943.8 703.2 L1946.3 700.1 L1948.8 697 L1951.3 693.9 L1953.8 690.9 L1956.4 687.8 L1958.9 684.7 L1961.4 681.7 L1963.9 678.7 L1966.4 675.6 L1968.9 672.6 L1971.4 669.6 L1974 666.6 L1974 816 L1971.4 816.9 L1968.9 817.9 L1966.4 818.8 L1963.9 819.8 L1961.4 820.7 L1958.9 821.6 L1956.4 822.6 L1953.8 823.5 L1951.3 824.5 L1948.8 825.4 L1946.3 826.4 L1943.8 827.3 L1941.3 828.3 L1938.8 829.2 L1936.2 830.2 L1933.7 831.2 L1931.2 832.1 L1928.7 833.1 L1926.2 834.1 L1923.7 835.1 L1921.2 836 L1918.7 837 L1916.1 838 L1913.6 839 L1911.1 840 L1908.6 841 L1906.1 842.1 L1903.6 843.1 L1901.1 844.1 L1898.5 845.1 L1896 846.2 L1893.5 847.2 L1891 848.3 L1888.5 849.4 L1886 850.4 L1883.5 851.5 L1881 852.6 L1878.4 853.7 L1875.9 854.8 L1873.4 855.9 L1870.9 857.1 L1868.4 858.2 L1865.9 859.3 L1863.4 860.5 L1860.8 861.7 L1858.3 862.9 L1855.8 864.1 L1853.3 865.3 L1850.8 866.5 L1848.3 867.7 L1845.8 869 L1843.2 870.2 L1840.7 871.5 L1838.2 872.8 L1835.7 874.1 L1833.2 875.4 L1830.7 876.7 L1828.2 878 L1825.7 879.4 L1823.1 880.7 L1820.6 882 L1818.1 883.4 L1815.6 884.7 L1813.1 886.1 L1810.6 887.4 L1808.1 888.8 L1805.5 890.1 L1803 891.5 L1800.5 892.8 L1798 894.1 L1795.5 895.4 L1793 896.7 L1790.5 898 L1788 899.2 L1785.4 900.4 L1782.9 901.6 L1780.4 902.8 L1777.9 904 L1775.4 905.1 L1772.9 906.1 L1770.4 907.2 L1767.8 908.2 L1765.3 909.2 L1762.8 910.1 L1760.3 910.9 L1757.8 911.8 L1755.3 912.5 L1752.8 913.3 L1750.2 913.9 L1747.7 914.5 L1745.2 915.1 L1742.7 915.6 L1740.2 916.1 L1737.7 916.4 L1735.2 916.8 L1732.7 917 L1730.1 917.2 L1727.6 917.4 L1725.1 917.4 L1722.6 917.4 L1720.1 917.4 L1717.6 917.3 L1715.1 917.1 L1712.5 916.9 L1710 916.6 L1707.5 916.2 L1705 915.8 L1702.5 915.3 L1700 914.8 L1697.5 914.2 L1695 913.6 L1692.4 912.9 L1689.9 912.2 L1687.4 911.4 L1684.9 910.6 L1682.4 909.8 L1679.9 908.9 L1677.4 908 L1674.8 907 L1672.3 906.1 L1669.8 905.1 L1667.3 904.1 L1664.8 903.1 L1662.3 902.1 L1659.8 901.1 L1657.2 900 L1654.7 899 L1652.2 898 L1649.7 897 L1647.2 896 L1644.7 895 L1642.2 894.1 L1639.7 893.2 L1637.1 892.3 L1634.6 891.4 L1632.1 890.5 L1629.6 889.7 L1627.1 888.9 L1624.6 888.2 L1622.1 887.4 L1619.5 886.7 L1617 886 L1614.5 885.4 L1612 884.8 L1609.5 884.2 L1607 883.6 L1604.5 883.1 L1602 882.6 L1599.4 882.1 L1596.9 881.6 L1594.4 881.1 L1591.9 880.7 L1589.4 880.3 L1586.9 879.9 L1584.4 879.5 L1581.8 879.1 L1579.3 878.8 L1576.8 878.4 L1574.3 878.1 L1571.8 877.8 L1569.3 877.5 L1566.8 877.2 L1564.2 876.9 L1561.7 876.6 L1559.2 876.3 L1556.7 876 L1554.2 875.8 L1551.7 875.5 L1549.2 875.3 L1546.7 875 L1544.1 874.8 L1541.6 874.5 L1539.1 874.3 L1536.6 874 L1534.1 873.8 L1531.6 873.5 L1529.1 873.3 L1526.5 873 L1524 872.8 L1521.5 872.6 L1519 872.3 L1516.5 872.1 L1514 871.9 L1511.5 871.6 L1509 871.4 L1506.4 871.1 L1503.9 870.9 L1501.4 870.7 L1498.9 870.4 L1496.4 870.2 L1493.9 869.9 L1491.4 869.7 L1488.8 869.4 L1486.3 869.2 L1483.8 869 L1481.3 868.7 L1478.8 868.5 L1476.3 868.2 L1473.8 868 L1471.2 867.8 L1468.7 867.5 L1466.2 867.3 L1463.7 867 L1461.2 866.8 L1458.7 866.5 L1456.2 866.3 L1453.7 866.1 L1451.1 865.8 L1448.6 865.6 L1446.1 865.3 L1443.6 865.1 L1441.1 864.9 L1438.6 864.6 L1436.1 864.4 L1433.5 864.1 L1431 863.9 L1428.5 863.6Z"/>
<path class="m" d="M1428.5 738.6 L1431 740.2 L1433.5 741.7 L1436.1 743.3 L1438.6 744.8 L1441.1 746.4 L1443.6 747.9 L1446.1 749.5 L1448.6 751 L1451.1 752.6 L1453.7 754.2 L1456.2 755.7 L1458.7 757.3 L1461.2 758.8 L1463.7 760.4 L1466.2 762 L1468.7 763.6 L1471.2 765.1 L1473.8 766.7 L1476.3 768.3 L1478.8 769.9 L1481.3 771.5 L1483.8 773 L1486.3 774.6 L1488.8 776.2 L1491.4 777.8 L1493.9 779.4 L1496.4 781 L1498.9 782.6 L1501.4 784.3 L1503.9 785.9 L1506.4 787.5 L1509 789.1 L1511.5 790.7 L1514 792.4 L1516.5 794 L1519 795.6 L1521.5 797.3 L1524 798.9 L1526.5 800.6 L1529.1 802.2 L1531.6 803.9 L1534.1 805.5 L1536.6 807.2 L1539.1 808.9 L1541.6 810.6 L1544.1 812.2 L1546.7 813.9 L1549.2 815.6 L1551.7 817.3 L1554.2 819 L1556.7 820.7 L1559.2 822.4 L1561.7 824.1 L1564.2 825.8 L1566.8 827.5 L1569.3 829.2 L1571.8 831 L1574.3 832.7 L1576.8 834.4 L1579.3 836.1 L1581.8 837.8 L1584.4 839.5 L1586.9 841.3 L1589.4 843 L1591.9 844.7 L1594.4 846.4 L1596.9 848.1 L1599.4 849.8 L1602 851.5 L1604.5 853.1 L1607 854.8 L1609.5 856.5 L1612 858.1 L1614.5 859.7 L1617 861.3 L1619.5 862.9 L1622.1 864.5 L1624.6 866 L1627.1 867.5 L1629.6 869 L1632.1 870.4 L1634.6 871.9 L1637.1 873.3 L1639.7 874.6 L1642.2 875.9 L1644.7 877.2 L1647.2 878.5 L1649.7 879.7 L1652.2 880.8 L1654.7 882 L1657.2 883 L1659.8 884.1 L1662.3 885.1 L1664.8 886 L1667.3 886.9 L1669.8 887.7 L1672.3 888.5 L1674.8 889.3 L1677.4 890 L1679.9 890.7 L1682.4 891.3 L1684.9 891.8 L1687.4 892.3 L1689.9 892.8 L1692.4 893.2 L1695 893.6 L1697.5 893.9 L1700 894.2 L1702.5 894.4 L1705 894.6 L1707.5 894.8 L1710 894.9 L1712.5 894.9 L1715.1 894.9 L1717.6 894.9 L1720.1 894.8 L1722.6 894.7 L1725.1 894.6 L1727.6 894.4 L1730.1 894.1 L1732.7 893.8 L1735.2 893.5 L1737.7 893.1 L1740.2 892.7 L1742.7 892.3 L1745.2 891.8 L1747.7 891.3 L1750.2 890.7 L1752.8 890.1 L1755.3 889.5 L1757.8 888.8 L1760.3 888.1 L1762.8 887.3 L1765.3 886.5 L1767.8 885.7 L1770.4 884.8 L1772.9 883.9 L1775.4 883 L1777.9 882 L1780.4 881 L1782.9 880 L1785.4 878.9 L1788 877.8 L1790.5 876.6 L1793 875.5 L1795.5 874.2 L1798 873 L1800.5 871.7 L1803 870.4 L1805.5 869 L1808.1 867.7 L1810.6 866.3 L1813.1 864.8 L1815.6 863.3 L1818.1 861.9 L1820.6 860.3 L1823.1 858.8 L1825.7 857.2 L1828.2 855.6 L1830.7 853.9 L1833.2 852.3 L1835.7 850.6 L1838.2 848.9 L1840.7 847.1 L1843.2 845.4 L1845.8 843.6 L1848.3 841.8 L1850.8 839.9 L1853.3 838.1 L1855.8 836.2 L1858.3 834.3 L1860.8 832.4 L1863.4 830.5 L1865.9 828.6 L1868.4 826.6 L1870.9 824.6 L1873.4 822.7 L1875.9 820.7 L1878.4 818.6 L1881 816.6 L1883.5 814.6 L1886 812.5 L1888.5 810.5 L1891 808.4 L1893.5 806.4 L1896 804.3 L1898.5 802.2 L1901.1 800.1 L1903.6 798 L1906.1 795.9 L1908.6 793.8 L1911.1 791.7 L1913.6 789.6 L1916.1 787.5 L1918.7 785.4 L1921.2 783.3 L1923.7 781.2 L1926.2 779.1 L1928.7 777 L1931.2 775 L1933.7 772.9 L1936.2 770.8 L1938.8 768.7 L1941.3 766.7 L1943.8 764.6 L1946.3 762.5 L1948.8 760.5 L1951.3 758.5 L1953.8 756.4 L1956.4 754.4 L1958.9 752.4 L1961.4 750.4 L1963.9 748.4 L1966.4 746.4 L1968.9 744.4 L1971.4 742.4 L1974 740.4"/>
<path class="a" d="M1417.3 532.3 V944.6 H1984.9"/>
<line class="ty" x1="1410.3" y1="543.5" x2="1417.3" y2="543.5"/>
<text class="tk" text-anchor="middle" transform="translate(1402.4 543.5) rotate(-90)">88</text>
<line class="ty" x1="1410.3" y1="640.8" x2="1417.3" y2="640.8"/>
<text class="tk" text-anchor="middle" transform="translate(1402.4 640.8) rotate(-90)">86</text>
<line class="ty" x1="1410.3" y1="738.3" x2="1417.3" y2="738.3"/>
<text class="tk" text-anchor="middle" transform="translate(1402.4 738.3) rotate(-90)">84</text>
<line class="ty" x1="1410.3" y1="835.9" x2="1417.3" y2="835.9"/>
<text class="tk" text-anchor="middle" transform="translate(1402.4 835.9) rotate(-90)">82</text>
<line class="ty" x1="1410.3" y1="933.4" x2="1417.3" y2="933.4"/>
<text class="tk" text-anchor="middle" transform="translate(1402.4 933.4) rotate(-90)">80</text>
<line class="t" x1="1439.4" y1="944.6" x2="1439.4" y2="951.6"/>
<text class="tk" text-anchor="middle" x="1439.4" y="975.9">40</text>
<line class="t" x1="1546.7" y1="944.6" x2="1546.7" y2="951.6"/>
<text class="tk" text-anchor="middle" x="1546.7" y="975.9">60</text>
<line class="t" x1="1653.8" y1="944.6" x2="1653.8" y2="951.6"/>
<text class="tk" text-anchor="middle" x="1653.8" y="975.9">80</text>
<line class="t" x1="1760.9" y1="944.6" x2="1760.9" y2="951.6"/>
<text class="tk" text-anchor="middle" x="1760.9" y="975.9">100</text>
<line class="t" x1="1867.3" y1="944.6" x2="1867.3" y2="951.6"/>
<text class="tk" text-anchor="middle" x="1867.3" y="975.9">120</text>
<line class="t" x1="1974.2" y1="944.6" x2="1974.2" y2="951.6"/>
<text class="tk" text-anchor="middle" x="1974.2" y="975.9">140</text>
<text class="ax" text-anchor="middle" x="1701" y="999.4">Waist Circumference (cm)</text>
<text class="ax" text-anchor="middle" transform="translate(1378.5 736.9) rotate(-90)">Adjusted FEV1-FVC ratio %</text>
<text class="tt" x="1480.7" y="548.2">Pnon-linear&lt;0.05</text>
</g>
<g>
<line class="g" x1="86.9" y1="1053.9" x2="650.9" y2="1053.9"/>
<line class="g" x1="86.9" y1="1174.3" x2="650.9" y2="1174.3"/>
<line class="g" x1="86.9" y1="1294.7" x2="650.9" y2="1294.7"/>
<line class="g" x1="86.9" y1="1415.2" x2="650.9" y2="1415.2"/>
<path class="b" d="M116.5 1115 L119 1115.4 L121.5 1115.9 L124 1116.4 L126.5 1116.8 L129 1117.3 L131.5 1117.8 L134.1 1118.2 L136.6 1118.7 L139.1 1119.1 L141.6 1119.6 L144.1 1120.1 L146.6 1120.5 L149.1 1121 L151.7 1121.4 L154.2 1121.9 L156.7 1122.4 L159.2 1122.8 L161.7 1123.3 L164.2 1123.7 L166.7 1124.2 L169.3 1124.6 L171.8 1125.1 L174.3 1125.5 L176.8 1126 L179.3 1126.4 L181.8 1126.8 L184.4 1127.3 L186.9 1127.7 L189.4 1128.2 L191.9 1128.6 L194.4 1129 L196.9 1129.5 L199.4 1129.9 L202 1130.3 L204.5 1130.7 L207 1131.2 L209.5 1131.6 L212 1132 L214.5 1132.4 L217 1132.8 L219.6 1133.2 L222.1 1133.6 L224.6 1134 L227.1 1134.4 L229.6 1134.8 L232.1 1135.2 L234.7 1135.6 L237.2 1136 L239.7 1136.3 L242.2 1136.7 L244.7 1137.1 L247.2 1137.5 L249.7 1137.8 L252.3 1138.2 L254.8 1138.5 L257.3 1138.9 L259.8 1139.2 L262.3 1139.6 L264.8 1139.9 L267.3 1140.2 L269.9 1140.6 L272.4 1140.9 L274.9 1141.2 L277.4 1141.5 L279.9 1141.8 L282.4 1142.1 L284.9 1142.4 L287.5 1142.7 L290 1143 L292.5 1143.3 L295 1143.5 L297.5 1143.8 L300 1144 L302.6 1144.3 L305.1 1144.5 L307.6 1144.8 L310.1 1145 L312.6 1145.2 L315.1 1145.4 L317.6 1145.6 L320.2 1145.8 L322.7 1146 L325.2 1146.2 L327.7 1146.4 L330.2 1146.5 L332.7 1146.7 L335.2 1146.8 L337.8 1146.9 L340.3 1147 L342.8 1147.1 L345.3 1147.2 L347.8 1147.3 L350.3 1147.4 L352.8 1147.4 L355.4 1147.4 L357.9 1147.4 L360.4 1147.4 L362.9 1147.4 L365.4 1147.4 L367.9 1147.4 L370.5 1147.3 L373 1147.2 L375.5 1147.1 L378 1147 L380.5 1146.9 L383 1146.7 L385.5 1146.6 L388.1 1146.4 L390.6 1146.2 L393.1 1145.9 L395.6 1145.7 L398.1 1145.4 L400.6 1145.2 L403.1 1144.9 L405.7 1144.5 L408.2 1144.2 L410.7 1143.9 L413.2 1143.5 L415.7 1143.1 L418.2 1142.7 L420.8 1142.3 L423.3 1141.9 L425.8 1141.5 L428.3 1141.1 L430.8 1140.6 L433.3 1140.2 L435.8 1139.8 L438.4 1139.3 L440.9 1138.9 L443.4 1138.4 L445.9 1138 L448.4 1137.6 L450.9 1137.2 L453.4 1136.8 L456 1136.5 L458.5 1136.1 L461 1135.8 L463.5 1135.5 L466 1135.2 L468.5 1134.9 L471 1134.7 L473.6 1134.4 L476.1 1134.2 L478.6 1134.1 L481.1 1133.9 L483.6 1133.8 L486.1 1133.7 L488.7 1133.6 L491.2 1133.6 L493.7 1133.6 L496.2 1133.5 L498.7 1133.6 L501.2 1133.6 L503.7 1133.7 L506.3 1133.7 L508.8 1133.8 L511.3 1133.9 L513.8 1134.1 L516.3 1134.2 L518.8 1134.4 L521.3 1134.5 L523.9 1134.7 L526.4 1134.9 L528.9 1135.1 L531.4 1135.3 L533.9 1135.4 L536.4 1135.6 L538.9 1135.8 L541.5 1136 L544 1136.2 L546.5 1136.4 L549 1136.6 L551.5 1136.8 L554 1136.9 L556.6 1137.1 L559.1 1137.2 L561.6 1137.3 L564.1 1137.5 L566.6 1137.6 L569.1 1137.6 L571.6 1137.7 L574.2 1137.8 L576.7 1137.8 L579.2 1137.8 L581.7 1137.8 L584.2 1137.8 L586.7 1137.8 L589.2 1137.7 L591.8 1137.7 L594.3 1137.6 L596.8 1137.5 L599.3 1137.4 L601.8 1137.3 L604.3 1137.1 L606.9 1137 L609.4 1136.8 L611.9 1136.6 L614.4 1136.4 L616.9 1136.3 L619.4 1136 L621.9 1135.8 L624.5 1135.6 L627 1135.4 L629.5 1135.2 L632 1134.9 L634.5 1134.7 L637 1134.5 L639.5 1134.2 L639.5 1245.8 L637 1243.9 L634.5 1242 L632 1240.1 L629.5 1238.2 L627 1236.4 L624.5 1234.5 L621.9 1232.7 L619.4 1230.8 L616.9 1229 L614.4 1227.2 L611.9 1225.5 L609.4 1223.7 L606.9 1222 L604.3 1220.3 L601.8 1218.6 L599.3 1217 L596.8 1215.4 L594.3 1213.8 L591.8 1212.3 L589.2 1210.7 L586.7 1209.3 L584.2 1207.8 L581.7 1206.4 L579.2 1205.1 L576.7 1203.7 L574.2 1202.5 L571.6 1201.2 L569.1 1200 L566.6 1198.9 L564.1 1197.7 L561.6 1196.7 L559.1 1195.6 L556.6 1194.6 L554 1193.7 L551.5 1192.8 L549 1191.9 L546.5 1191.1 L544 1190.3 L541.5 1189.5 L538.9 1188.8 L536.4 1188.1 L533.9 1187.5 L531.4 1186.9 L528.9 1186.3 L526.4 1185.8 L523.9 1185.3 L521.3 1184.8 L518.8 1184.4 L516.3 1184 L513.8 1183.6 L511.3 1183.3 L508.8 1183 L506.3 1182.7 L503.7 1182.4 L501.2 1182.2 L498.7 1182 L496.2 1181.9 L493.7 1181.7 L491.2 1181.6 L488.7 1181.5 L486.1 1181.4 L483.6 1181.4 L481.1 1181.4 L478.6 1181.4 L476.1 1181.4 L473.6 1181.5 L471 1181.6 L468.5 1181.7 L466 1181.8 L463.5 1182 L461 1182.2 L458.5 1182.4 L456 1182.7 L453.4 1183 L450.9 1183.3 L448.4 1183.6 L445.9 1184 L443.4 1184.4 L440.9 1184.9 L438.4 1185.4 L435.8 1185.9 L433.3 1186.5 L430.8 1187.1 L428.3 1187.7 L425.8 1188.4 L423.3 1189.1 L420.8 1189.9 L418.2 1190.6 L415.7 1191.4 L413.2 1192.3 L410.7 1193.2 L408.2 1194.1 L405.7 1195 L403.1 1196 L400.6 1197 L398.1 1198 L395.6 1199.1 L393.1 1200.2 L390.6 1201.3 L388.1 1202.4 L385.5 1203.6 L383 1204.8 L380.5 1206 L378 1207.2 L375.5 1208.5 L373 1209.8 L370.5 1211.2 L367.9 1212.6 L365.4 1214 L362.9 1215.5 L360.4 1217 L357.9 1218.5 L355.4 1220.1 L352.8 1221.7 L350.3 1223.4 L347.8 1225.1 L345.3 1226.9 L342.8 1228.7 L340.3 1230.6 L337.8 1232.5 L335.2 1234.5 L332.7 1236.5 L330.2 1238.5 L327.7 1240.6 L325.2 1242.7 L322.7 1244.9 L320.2 1247.2 L317.6 1249.4 L315.1 1251.7 L312.6 1254.1 L310.1 1256.5 L307.6 1258.9 L305.1 1261.3 L302.6 1263.8 L300 1266.3 L297.5 1268.9 L295 1271.4 L292.5 1274 L290 1276.6 L287.5 1279.2 L284.9 1281.8 L282.4 1284.4 L279.9 1287 L277.4 1289.6 L274.9 1292.2 L272.4 1294.8 L269.9 1297.4 L267.3 1300 L264.8 1302.5 L262.3 1305.1 L259.8 1307.6 L257.3 1310.1 L254.8 1312.6 L252.3 1315.1 L249.7 1317.6 L247.2 1320.1 L244.7 1322.5 L242.2 1325 L239.7 1327.5 L237.2 1329.9 L234.7 1332.4 L232.1 1334.9 L229.6 1337.3 L227.1 1339.8 L224.6 1342.2 L222.1 1344.7 L219.6 1347.1 L217 1349.6 L214.5 1352 L212 1354.5 L209.5 1356.9 L207 1359.3 L204.5 1361.8 L202 1364.2 L199.4 1366.7 L196.9 1369.1 L194.4 1371.5 L191.9 1374 L189.4 1376.4 L186.9 1378.8 L184.4 1381.3 L181.8 1383.7 L179.3 1386.1 L176.8 1388.5 L174.3 1390.9 L171.8 1393.3 L169.3 1395.7 L166.7 1398.1 L164.2 1400.4 L161.7 1402.8 L159.2 1405.1 L156.7 1407.5 L154.2 1409.8 L151.7 1412.1 L149.1 1414.4 L146.6 1416.7 L144.1 1419 L141.6 1421.3 L139.1 1423.5 L136.6 1425.8 L134.1 1428 L131.5 1430.3 L129 1432.5 L126.5 1434.7 L124 1436.9 L121.5 1439.2 L119 1441.4 L116.5 1443.6Z"/>
<path class="m" d="M116.5 1279.8 L119 1278.8 L121.5 1277.8 L124 1276.8 L126.5 1275.8 L129 1274.9 L131.5 1273.9 L134.1 1272.9 L136.6 1271.9 L139.1 1270.9 L141.6 1269.9 L144.1 1268.9 L146.6 1267.9 L149.1 1267 L151.7 1266 L154.2 1265 L156.7 1264 L159.2 1263 L161.7 1262.1 L164.2 1261.1 L166.7 1260.1 L169.3 1259.2 L171.8 1258.2 L174.3 1257.2 L176.8 1256.3 L179.3 1255.3 L181.8 1254.4 L184.4 1253.4 L186.9 1252.5 L189.4 1251.5 L191.9 1250.6 L194.4 1249.6 L196.9 1248.7 L199.4 1247.7 L202 1246.7 L204.5 1245.8 L207 1244.8 L209.5 1243.9 L212 1242.9 L214.5 1242 L217 1241 L219.6 1240 L222.1 1239 L224.6 1238.1 L227.1 1237.1 L229.6 1236.1 L232.1 1235.1 L234.7 1234.1 L237.2 1233.1 L239.7 1232.1 L242.2 1231.1 L244.7 1230 L247.2 1229 L249.7 1228 L252.3 1226.9 L254.8 1225.8 L257.3 1224.8 L259.8 1223.7 L262.3 1222.6 L264.8 1221.5 L267.3 1220.3 L269.9 1219.2 L272.4 1218 L274.9 1216.8 L277.4 1215.7 L279.9 1214.5 L282.4 1213.3 L284.9 1212.1 L287.5 1210.8 L290 1209.6 L292.5 1208.4 L295 1207.2 L297.5 1206 L300 1204.7 L302.6 1203.5 L305.1 1202.3 L307.6 1201.1 L310.1 1199.9 L312.6 1198.7 L315.1 1197.5 L317.6 1196.4 L320.2 1195.2 L322.7 1194 L325.2 1192.9 L327.7 1191.8 L330.2 1190.7 L332.7 1189.6 L335.2 1188.5 L337.8 1187.4 L340.3 1186.4 L342.8 1185.4 L345.3 1184.4 L347.8 1183.4 L350.3 1182.4 L352.8 1181.4 L355.4 1180.5 L357.9 1179.6 L360.4 1178.7 L362.9 1177.8 L365.4 1177 L367.9 1176.2 L370.5 1175.3 L373 1174.6 L375.5 1173.8 L378 1173 L380.5 1172.3 L383 1171.6 L385.5 1170.9 L388.1 1170.2 L390.6 1169.6 L393.1 1168.9 L395.6 1168.3 L398.1 1167.7 L400.6 1167.1 L403.1 1166.5 L405.7 1166 L408.2 1165.4 L410.7 1164.9 L413.2 1164.4 L415.7 1163.9 L418.2 1163.4 L420.8 1163 L423.3 1162.5 L425.8 1162.1 L428.3 1161.7 L430.8 1161.3 L433.3 1160.9 L435.8 1160.6 L438.4 1160.2 L440.9 1159.9 L443.4 1159.6 L445.9 1159.3 L448.4 1159 L450.9 1158.8 L453.4 1158.6 L456 1158.3 L458.5 1158.2 L461 1158 L463.5 1157.8 L466 1157.7 L468.5 1157.6 L471 1157.5 L473.6 1157.4 L476.1 1157.4 L478.6 1157.4 L481.1 1157.3 L483.6 1157.4 L486.1 1157.4 L488.7 1157.4 L491.2 1157.5 L493.7 1157.6 L496.2 1157.7 L498.7 1157.8 L501.2 1158 L503.7 1158.2 L506.3 1158.4 L508.8 1158.6 L511.3 1158.9 L513.8 1159.1 L516.3 1159.4 L518.8 1159.7 L521.3 1160 L523.9 1160.4 L526.4 1160.8 L528.9 1161.1 L531.4 1161.6 L533.9 1162 L536.4 1162.4 L538.9 1162.9 L541.5 1163.4 L544 1163.9 L546.5 1164.4 L549 1164.9 L551.5 1165.5 L554 1166 L556.6 1166.6 L559.1 1167.2 L561.6 1167.8 L564.1 1168.4 L566.6 1169 L569.1 1169.7 L571.6 1170.3 L574.2 1171 L576.7 1171.6 L579.2 1172.3 L581.7 1173 L584.2 1173.7 L586.7 1174.4 L589.2 1175.1 L591.8 1175.8 L594.3 1176.6 L596.8 1177.3 L599.3 1178 L601.8 1178.8 L604.3 1179.5 L606.9 1180.3 L609.4 1181 L611.9 1181.8 L614.4 1182.6 L616.9 1183.3 L619.4 1184.1 L621.9 1184.9 L624.5 1185.6 L627 1186.4 L629.5 1187.2 L632 1188 L634.5 1188.7 L637 1189.5 L639.5 1190.3"/>
<path class="a" d="M83.9 1042.9 V1455.3 H650.9"/>
<line class="ty" x1="76.9" y1="1053.9" x2="83.9" y2="1053.9"/>
<text class="tk" text-anchor="middle" transform="translate(69 1053.9) rotate(-90)">105</text>
<line class="ty" x1="76.9" y1="1174.3" x2="83.9" y2="1174.3"/>
<text class="tk" text-anchor="middle" transform="translate(69 1174.3) rotate(-90)">100</text>
<line class="ty" x1="76.9" y1="1294.7" x2="83.9" y2="1294.7"/>
<text class="tk" text-anchor="middle" transform="translate(69 1294.7) rotate(-90)">95</text>
<line class="ty" x1="76.9" y1="1415.2" x2="83.9" y2="1415.2"/>
<text class="tk" text-anchor="middle" transform="translate(69 1415.2) rotate(-90)">90</text>
<line class="t" x1="92.9" y1="1455.3" x2="92.9" y2="1462.3"/>
<text class="tk" text-anchor="middle" x="92.9" y="1486.6">10</text>
<line class="t" x1="230.2" y1="1455.3" x2="230.2" y2="1462.3"/>
<text class="tk" text-anchor="middle" x="230.2" y="1486.6">20</text>
<line class="t" x1="366.1" y1="1455.3" x2="366.1" y2="1462.3"/>
<text class="tk" text-anchor="middle" x="366.1" y="1486.6">30</text>
<line class="t" x1="503.5" y1="1455.3" x2="503.5" y2="1462.3"/>
<text class="tk" text-anchor="middle" x="503.5" y="1486.6">40</text>
<line class="t" x1="639.8" y1="1455.3" x2="639.8" y2="1462.3"/>
<text class="tk" text-anchor="middle" x="639.8" y="1486.6">50</text>
<text class="ax" text-anchor="middle" x="367.1" y="1510.1">Percentage Body Fat</text>
<text class="ax" text-anchor="middle" transform="translate(45.1 1247.9) rotate(-90)">Adjusted FEV1 % predicted value</text>
<text class="tt" x="136.4" y="1065.8">Pnon-linear&lt;0.05</text>
</g>
<g>
<line class="g" x1="753.2" y1="1056.8" x2="1317.7" y2="1056.8"/>
<line class="g" x1="753.2" y1="1173.7" x2="1317.7" y2="1173.7"/>
<line class="g" x1="753.2" y1="1290.3" x2="1317.7" y2="1290.3"/>
<line class="g" x1="753.2" y1="1406.8" x2="1317.7" y2="1406.8"/>
<path class="b" d="M783 1213 L785.6 1211.8 L788.1 1210.6 L790.6 1209.3 L793.1 1208.1 L795.6 1206.8 L798.1 1205.6 L800.7 1204.4 L803.2 1203.1 L805.7 1201.9 L808.2 1200.6 L810.7 1199.4 L813.3 1198.1 L815.8 1196.9 L818.3 1195.7 L820.8 1194.4 L823.3 1193.2 L825.8 1191.9 L828.4 1190.7 L830.9 1189.4 L833.4 1188.2 L835.9 1186.9 L838.4 1185.7 L840.9 1184.4 L843.5 1183.2 L846 1181.9 L848.5 1180.7 L851 1179.4 L853.5 1178.2 L856 1177 L858.6 1175.8 L861.1 1174.5 L863.6 1173.3 L866.1 1172.1 L868.6 1170.9 L871.1 1169.7 L873.7 1168.5 L876.2 1167.3 L878.7 1166.1 L881.2 1164.9 L883.7 1163.6 L886.2 1162.4 L888.8 1161.2 L891.3 1159.9 L893.8 1158.7 L896.3 1157.4 L898.8 1156.2 L901.3 1154.9 L903.9 1153.7 L906.4 1152.4 L908.9 1151.1 L911.4 1149.8 L913.9 1148.6 L916.4 1147.3 L919 1146 L921.5 1144.7 L924 1143.4 L926.5 1142.1 L929 1140.8 L931.5 1139.6 L934.1 1138.3 L936.6 1137.1 L939.1 1135.8 L941.6 1134.6 L944.1 1133.3 L946.6 1132.1 L949.2 1130.8 L951.7 1129.6 L954.2 1128.4 L956.7 1127.1 L959.2 1125.9 L961.7 1124.6 L964.3 1123.4 L966.8 1122.1 L969.3 1120.8 L971.8 1119.6 L974.3 1118.3 L976.8 1117 L979.4 1115.8 L981.9 1114.5 L984.4 1113.2 L986.9 1111.9 L989.4 1110.6 L991.9 1109.3 L994.5 1108 L997 1106.7 L999.5 1105.4 L1002 1104.1 L1004.5 1102.8 L1007 1101.5 L1009.6 1100.2 L1012.1 1098.8 L1014.6 1097.5 L1017.1 1096.2 L1019.6 1094.9 L1022.1 1093.5 L1024.7 1092.2 L1027.2 1090.9 L1029.7 1089.6 L1032.2 1088.3 L1034.7 1087 L1037.2 1085.7 L1039.8 1084.4 L1042.3 1083.2 L1044.8 1081.9 L1047.3 1080.7 L1049.8 1079.5 L1052.3 1078.3 L1054.9 1077.1 L1057.4 1075.9 L1059.9 1074.8 L1062.4 1073.6 L1064.9 1072.5 L1067.4 1071.4 L1070 1070.4 L1072.5 1069.4 L1075 1068.3 L1077.5 1067.4 L1080 1066.4 L1082.5 1065.5 L1085.1 1064.6 L1087.6 1063.7 L1090.1 1062.9 L1092.6 1062.1 L1095.1 1061.3 L1097.6 1060.6 L1100.2 1059.9 L1102.7 1059.3 L1105.2 1058.7 L1107.7 1058.1 L1110.2 1057.6 L1112.7 1057.1 L1115.3 1056.7 L1117.8 1056.3 L1120.3 1055.9 L1122.8 1055.6 L1125.3 1055.4 L1127.8 1055.2 L1130.4 1055 L1132.9 1054.9 L1135.4 1054.8 L1137.9 1054.8 L1140.4 1054.8 L1142.9 1054.9 L1145.5 1055 L1148 1055.2 L1150.5 1055.5 L1153 1055.8 L1155.5 1056.1 L1158 1056.6 L1160.6 1057.1 L1163.1 1057.7 L1165.6 1058.3 L1168.1 1059.1 L1170.6 1059.9 L1173.1 1060.7 L1175.7 1061.7 L1178.2 1062.7 L1180.7 1063.8 L1183.2 1064.9 L1185.7 1066.1 L1188.3 1067.4 L1190.8 1068.7 L1193.3 1070.1 L1195.8 1071.5 L1198.3 1073 L1200.8 1074.5 L1203.4 1076.1 L1205.9 1077.7 L1208.4 1079.3 L1210.9 1080.9 L1213.4 1082.6 L1215.9 1084.3 L1218.5 1086 L1221 1087.8 L1223.5 1089.5 L1226 1091.3 L1228.5 1093.1 L1231 1094.9 L1233.6 1096.7 L1236.1 1098.5 L1238.6 1100.3 L1241.1 1102.2 L1243.6 1104 L1246.1 1105.9 L1248.7 1107.7 L1251.2 1109.6 L1253.7 1111.5 L1256.2 1113.4 L1258.7 1115.3 L1261.2 1117.2 L1263.8 1119.1 L1266.3 1121 L1268.8 1122.9 L1271.3 1124.9 L1273.8 1126.8 L1276.3 1128.8 L1278.9 1130.7 L1281.4 1132.6 L1283.9 1134.6 L1286.4 1136.5 L1288.9 1138.5 L1291.4 1140.5 L1294 1142.4 L1296.5 1144.4 L1299 1146.3 L1301.5 1148.3 L1304 1150.3 L1306.5 1152.2 L1306.5 1263 L1304 1259.4 L1301.5 1255.8 L1299 1252.2 L1296.5 1248.6 L1294 1245 L1291.4 1241.4 L1288.9 1237.8 L1286.4 1234.2 L1283.9 1230.6 L1281.4 1226.9 L1278.9 1223.3 L1276.3 1219.6 L1273.8 1216 L1271.3 1212.3 L1268.8 1208.7 L1266.3 1205.1 L1263.8 1201.5 L1261.2 1197.9 L1258.7 1194.3 L1256.2 1190.8 L1253.7 1187.3 L1251.2 1183.8 L1248.7 1180.4 L1246.1 1177 L1243.6 1173.6 L1241.1 1170.3 L1238.6 1167.1 L1236.1 1163.9 L1233.6 1160.8 L1231 1157.8 L1228.5 1154.8 L1226 1151.9 L1223.5 1149.1 L1221 1146.4 L1218.5 1143.7 L1215.9 1141.2 L1213.4 1138.7 L1210.9 1136.3 L1208.4 1134 L1205.9 1131.7 L1203.4 1129.5 L1200.8 1127.4 L1198.3 1125.4 L1195.8 1123.4 L1193.3 1121.5 L1190.8 1119.7 L1188.3 1118 L1185.7 1116.3 L1183.2 1114.7 L1180.7 1113.1 L1178.2 1111.6 L1175.7 1110.2 L1173.1 1108.8 L1170.6 1107.5 L1168.1 1106.3 L1165.6 1105.2 L1163.1 1104.1 L1160.6 1103.1 L1158 1102.1 L1155.5 1101.2 L1153 1100.4 L1150.5 1099.7 L1148 1099 L1145.5 1098.4 L1142.9 1097.8 L1140.4 1097.4 L1137.9 1097 L1135.4 1096.6 L1132.9 1096.4 L1130.4 1096.2 L1127.8 1096.1 L1125.3 1096.1 L1122.8 1096.1 L1120.3 1096.2 L1117.8 1096.4 L1115.3 1096.7 L1112.7 1097.1 L1110.2 1097.5 L1107.7 1098 L1105.2 1098.6 L1102.7 1099.3 L1100.2 1100 L1097.6 1100.9 L1095.1 1101.8 L1092.6 1102.8 L1090.1 1103.9 L1087.6 1105.1 L1085.1 1106.4 L1082.5 1107.7 L1080 1109.1 L1077.5 1110.6 L1075 1112.2 L1072.5 1113.9 L1070 1115.7 L1067.4 1117.5 L1064.9 1119.4 L1062.4 1121.4 L1059.9 1123.4 L1057.4 1125.5 L1054.9 1127.7 L1052.3 1129.9 L1049.8 1132.1 L1047.3 1134.4 L1044.8 1136.8 L1042.3 1139.2 L1039.8 1141.6 L1037.2 1144.1 L1034.7 1146.5 L1032.2 1149.1 L1029.7 1151.6 L1027.2 1154.2 L1024.7 1156.8 L1022.1 1159.4 L1019.6 1162 L1017.1 1164.7 L1014.6 1167.4 L1012.1 1170.1 L1009.6 1172.8 L1007 1175.5 L1004.5 1178.3 L1002 1181 L999.5 1183.8 L997 1186.6 L994.5 1189.4 L991.9 1192.2 L989.4 1195 L986.9 1197.8 L984.4 1200.7 L981.9 1203.5 L979.4 1206.4 L976.8 1209.2 L974.3 1212.1 L971.8 1215 L969.3 1217.9 L966.8 1220.8 L964.3 1223.7 L961.7 1226.6 L959.2 1229.5 L956.7 1232.4 L954.2 1235.3 L951.7 1238.2 L949.2 1241.1 L946.6 1244.1 L944.1 1247 L941.6 1250 L939.1 1252.9 L936.6 1255.9 L934.1 1258.8 L931.5 1261.8 L929 1264.8 L926.5 1267.8 L924 1270.8 L921.5 1273.8 L919 1276.8 L916.4 1279.8 L913.9 1282.8 L911.4 1285.8 L908.9 1288.9 L906.4 1291.9 L903.9 1295 L901.3 1298 L898.8 1301.1 L896.3 1304.2 L893.8 1307.2 L891.3 1310.3 L888.8 1313.4 L886.2 1316.5 L883.7 1319.6 L881.2 1322.7 L878.7 1325.8 L876.2 1329 L873.7 1332.1 L871.1 1335.2 L868.6 1338.3 L866.1 1341.5 L863.6 1344.6 L861.1 1347.7 L858.6 1350.9 L856 1354 L853.5 1357.2 L851 1360.3 L848.5 1363.4 L846 1366.5 L843.5 1369.7 L840.9 1372.8 L838.4 1375.9 L835.9 1379 L833.4 1382.1 L830.9 1385.2 L828.4 1388.2 L825.8 1391.3 L823.3 1394.4 L820.8 1397.4 L818.3 1400.5 L815.8 1403.6 L813.3 1406.6 L810.7 1409.7 L808.2 1412.7 L805.7 1415.7 L803.2 1418.8 L800.7 1421.8 L798.1 1424.9 L795.6 1427.9 L793.1 1430.9 L790.6 1434 L788.1 1437 L785.6 1440 L783 1443Z"/>
<path class="m" d="M783 1328.4 L785.6 1326.1 L788.1 1323.8 L790.6 1321.5 L793.1 1319.3 L795.6 1317 L798.1 1314.7 L800.7 1312.4 L803.2 1310.1 L805.7 1307.8 L808.2 1305.6 L810.7 1303.3 L813.3 1301 L815.8 1298.8 L818.3 1296.5 L820.8 1294.3 L823.3 1292 L825.8 1289.8 L828.4 1287.5 L830.9 1285.3 L833.4 1283.1 L835.9 1280.9 L838.4 1278.7 L840.9 1276.5 L843.5 1274.3 L846 1272.1 L848.5 1269.9 L851 1267.7 L853.5 1265.5 L856 1263.4 L858.6 1261.2 L861.1 1259.1 L863.6 1256.9 L866.1 1254.7 L868.6 1252.6 L871.1 1250.5 L873.7 1248.3 L876.2 1246.2 L878.7 1244 L881.2 1241.9 L883.7 1239.7 L886.2 1237.6 L888.8 1235.5 L891.3 1233.3 L893.8 1231.2 L896.3 1229.1 L898.8 1226.9 L901.3 1224.8 L903.9 1222.6 L906.4 1220.5 L908.9 1218.4 L911.4 1216.2 L913.9 1214.1 L916.4 1211.9 L919 1209.8 L921.5 1207.7 L924 1205.5 L926.5 1203.4 L929 1201.3 L931.5 1199.1 L934.1 1197 L936.6 1194.9 L939.1 1192.8 L941.6 1190.6 L944.1 1188.5 L946.6 1186.4 L949.2 1184.3 L951.7 1182.2 L954.2 1180.1 L956.7 1178 L959.2 1175.9 L961.7 1173.8 L964.3 1171.7 L966.8 1169.5 L969.3 1167.4 L971.8 1165.3 L974.3 1163.2 L976.8 1161.1 L979.4 1158.9 L981.9 1156.8 L984.4 1154.7 L986.9 1152.6 L989.4 1150.6 L991.9 1148.5 L994.5 1146.4 L997 1144.4 L999.5 1142.3 L1002 1140.3 L1004.5 1138.2 L1007 1136.2 L1009.6 1134.2 L1012.1 1132.2 L1014.6 1130.2 L1017.1 1128.2 L1019.6 1126.3 L1022.1 1124.3 L1024.7 1122.4 L1027.2 1120.4 L1029.7 1118.5 L1032.2 1116.6 L1034.7 1114.7 L1037.2 1112.8 L1039.8 1110.9 L1042.3 1109 L1044.8 1107.2 L1047.3 1105.4 L1049.8 1103.7 L1052.3 1102 L1054.9 1100.3 L1057.4 1098.7 L1059.9 1097.1 L1062.4 1095.6 L1064.9 1094.1 L1067.4 1092.7 L1070 1091.3 L1072.5 1090 L1075 1088.7 L1077.5 1087.5 L1080 1086.3 L1082.5 1085.2 L1085.1 1084.1 L1087.6 1083.1 L1090.1 1082.2 L1092.6 1081.3 L1095.1 1080.4 L1097.6 1079.6 L1100.2 1078.9 L1102.7 1078.2 L1105.2 1077.6 L1107.7 1077.1 L1110.2 1076.6 L1112.7 1076.1 L1115.3 1075.7 L1117.8 1075.4 L1120.3 1075.1 L1122.8 1074.9 L1125.3 1074.7 L1127.8 1074.6 L1130.4 1074.5 L1132.9 1074.5 L1135.4 1074.6 L1137.9 1074.7 L1140.4 1074.9 L1142.9 1075.1 L1145.5 1075.4 L1148 1075.7 L1150.5 1076.1 L1153 1076.5 L1155.5 1077.1 L1158 1077.7 L1160.6 1078.3 L1163.1 1079 L1165.6 1079.8 L1168.1 1080.7 L1170.6 1081.7 L1173.1 1082.7 L1175.7 1083.8 L1178.2 1084.9 L1180.7 1086.1 L1183.2 1087.4 L1185.7 1088.8 L1188.3 1090.2 L1190.8 1091.7 L1193.3 1093.3 L1195.8 1094.9 L1198.3 1096.5 L1200.8 1098.3 L1203.4 1100 L1205.9 1101.9 L1208.4 1103.7 L1210.9 1105.7 L1213.4 1107.6 L1215.9 1109.6 L1218.5 1111.7 L1221 1113.8 L1223.5 1115.9 L1226 1118 L1228.5 1120.2 L1231 1122.4 L1233.6 1124.7 L1236.1 1127 L1238.6 1129.3 L1241.1 1131.7 L1243.6 1134.1 L1246.1 1136.5 L1248.7 1138.9 L1251.2 1141.4 L1253.7 1143.9 L1256.2 1146.5 L1258.7 1149.1 L1261.2 1151.7 L1263.8 1154.3 L1266.3 1157 L1268.8 1159.7 L1271.3 1162.4 L1273.8 1165.2 L1276.3 1168 L1278.9 1170.9 L1281.4 1173.7 L1283.9 1176.6 L1286.4 1179.6 L1288.9 1182.5 L1291.4 1185.5 L1294 1188.5 L1296.5 1191.5 L1299 1194.6 L1301.5 1197.6 L1304 1200.7 L1306.5 1203.7"/>
<path class="a" d="M750.2 1043.3 V1455.3 H1317.7"/>
<line class="ty" x1="743.2" y1="1056.8" x2="750.2" y2="1056.8"/>
<text class="tk" text-anchor="middle" transform="translate(735.3 1056.8) rotate(-90)">105</text>
<line class="ty" x1="743.2" y1="1173.7" x2="750.2" y2="1173.7"/>
<text class="tk" text-anchor="middle" transform="translate(735.3 1173.7) rotate(-90)">100</text>
<line class="ty" x1="743.2" y1="1290.3" x2="750.2" y2="1290.3"/>
<text class="tk" text-anchor="middle" transform="translate(735.3 1290.3) rotate(-90)">95</text>
<line class="ty" x1="743.2" y1="1406.8" x2="750.2" y2="1406.8"/>
<text class="tk" text-anchor="middle" transform="translate(735.3 1406.8) rotate(-90)">90</text>
<line class="t" x1="760.9" y1="1455.3" x2="760.9" y2="1462.3"/>
<text class="tk" text-anchor="middle" x="760.9" y="1486.6">10</text>
<line class="t" x1="897.2" y1="1455.3" x2="897.2" y2="1462.3"/>
<text class="tk" text-anchor="middle" x="897.2" y="1486.6">20</text>
<line class="t" x1="1034.1" y1="1455.3" x2="1034.1" y2="1462.3"/>
<text class="tk" text-anchor="middle" x="1034.1" y="1486.6">30</text>
<line class="t" x1="1170.5" y1="1455.3" x2="1170.5" y2="1462.3"/>
<text class="tk" text-anchor="middle" x="1170.5" y="1486.6">40</text>
<line class="t" x1="1306.8" y1="1455.3" x2="1306.8" y2="1462.3"/>
<text class="tk" text-anchor="middle" x="1306.8" y="1486.6">50</text>
<text class="ax" text-anchor="middle" x="1033.9" y="1510.1">Percentage Body Fat</text>
<text class="ax" text-anchor="middle" transform="translate(711.4 1248.3) rotate(-90)">Adjusted FVC % predicted value</text>
<text class="tt" x="802.8" y="1065.8">Pnon-linear&lt;0.05</text>
</g>
<g>
<line class="g" x1="1420.3" y1="1054.5" x2="1984.9" y2="1054.5"/>
<line class="g" x1="1420.3" y1="1132.1" x2="1984.9" y2="1132.1"/>
<line class="g" x1="1420.3" y1="1209.5" x2="1984.9" y2="1209.5"/>
<line class="g" x1="1420.3" y1="1286.8" x2="1984.9" y2="1286.8"/>
<line class="g" x1="1420.3" y1="1364" x2="1984.9" y2="1364"/>
<line class="g" x1="1420.3" y1="1441.4" x2="1984.9" y2="1441.4"/>
<path class="b" d="M1450 1098.3 L1452.5 1101.2 L1455.1 1104.2 L1457.6 1107.1 L1460.1 1110.1 L1462.6 1113 L1465.1 1116 L1467.6 1118.9 L1470.2 1121.9 L1472.7 1124.8 L1475.2 1127.7 L1477.7 1130.7 L1480.2 1133.6 L1482.8 1136.5 L1485.3 1139.5 L1487.8 1142.4 L1490.3 1145.3 L1492.8 1148.2 L1495.4 1151.2 L1497.9 1154.1 L1500.4 1157 L1502.9 1159.9 L1505.4 1162.8 L1508 1165.8 L1510.5 1168.7 L1513 1171.6 L1515.5 1174.5 L1518 1177.4 L1520.5 1180.4 L1523.1 1183.3 L1525.6 1186.2 L1528.1 1189.1 L1530.6 1192.1 L1533.1 1195 L1535.7 1197.9 L1538.2 1200.9 L1540.7 1203.8 L1543.2 1206.7 L1545.7 1209.7 L1548.3 1212.6 L1550.8 1215.6 L1553.3 1218.5 L1555.8 1221.5 L1558.3 1224.5 L1560.8 1227.4 L1563.4 1230.4 L1565.9 1233.3 L1568.4 1236.3 L1570.9 1239.3 L1573.4 1242.3 L1576 1245.2 L1578.5 1248.2 L1581 1251.2 L1583.5 1254.2 L1586 1257.2 L1588.6 1260.2 L1591.1 1263.2 L1593.6 1266.2 L1596.1 1269.2 L1598.6 1272.2 L1601.2 1275.2 L1603.7 1278.2 L1606.2 1281.2 L1608.7 1284.3 L1611.2 1287.3 L1613.7 1290.3 L1616.3 1293.4 L1618.8 1296.4 L1621.3 1299.4 L1623.8 1302.5 L1626.3 1305.5 L1628.9 1308.6 L1631.4 1311.6 L1633.9 1314.6 L1636.4 1317.6 L1638.9 1320.6 L1641.5 1323.6 L1644 1326.6 L1646.5 1329.5 L1649 1332.5 L1651.5 1335.4 L1654 1338.3 L1656.6 1341.2 L1659.1 1344 L1661.6 1346.8 L1664.1 1349.6 L1666.6 1352.3 L1669.2 1355 L1671.7 1357.7 L1674.2 1360.3 L1676.7 1362.9 L1679.2 1365.4 L1681.8 1367.9 L1684.3 1370.3 L1686.8 1372.7 L1689.3 1375 L1691.8 1377.3 L1694.4 1379.5 L1696.9 1381.7 L1699.4 1383.7 L1701.9 1385.8 L1704.4 1387.7 L1706.9 1389.6 L1709.5 1391.5 L1712 1393.2 L1714.5 1394.9 L1717 1396.5 L1719.5 1398.1 L1722.1 1399.6 L1724.6 1401 L1727.1 1402.3 L1729.6 1403.6 L1732.1 1404.8 L1734.7 1406 L1737.2 1407 L1739.7 1408.1 L1742.2 1409 L1744.7 1409.9 L1747.2 1410.7 L1749.8 1411.4 L1752.3 1412.1 L1754.8 1412.7 L1757.3 1413.2 L1759.8 1413.7 L1762.4 1414.1 L1764.9 1414.5 L1767.4 1414.8 L1769.9 1415 L1772.4 1415.2 L1775 1415.3 L1777.5 1415.4 L1780 1415.4 L1782.5 1415.3 L1785 1415.2 L1787.6 1415 L1790.1 1414.8 L1792.6 1414.5 L1795.1 1414.1 L1797.6 1413.7 L1800.1 1413.3 L1802.7 1412.7 L1805.2 1412.2 L1807.7 1411.5 L1810.2 1410.8 L1812.7 1410.1 L1815.3 1409.3 L1817.8 1408.5 L1820.3 1407.6 L1822.8 1406.6 L1825.3 1405.6 L1827.9 1404.5 L1830.4 1403.4 L1832.9 1402.2 L1835.4 1401 L1837.9 1399.7 L1840.4 1398.4 L1843 1397 L1845.5 1395.6 L1848 1394.1 L1850.5 1392.6 L1853 1391 L1855.6 1389.4 L1858.1 1387.7 L1860.6 1385.9 L1863.1 1384.2 L1865.6 1382.3 L1868.2 1380.5 L1870.7 1378.5 L1873.2 1376.6 L1875.7 1374.5 L1878.2 1372.5 L1880.8 1370.4 L1883.3 1368.2 L1885.8 1366 L1888.3 1363.7 L1890.8 1361.4 L1893.3 1359.1 L1895.9 1356.7 L1898.4 1354.3 L1900.9 1351.8 L1903.4 1349.3 L1905.9 1346.7 L1908.5 1344.1 L1911 1341.5 L1913.5 1338.8 L1916 1336.1 L1918.5 1333.4 L1921.1 1330.6 L1923.6 1327.8 L1926.1 1324.9 L1928.6 1322.1 L1931.1 1319.1 L1933.6 1316.2 L1936.2 1313.3 L1938.7 1310.3 L1941.2 1307.3 L1943.7 1304.2 L1946.2 1301.2 L1948.8 1298.1 L1951.3 1295 L1953.8 1291.9 L1956.3 1288.8 L1958.8 1285.6 L1961.4 1282.5 L1963.9 1279.3 L1966.4 1276.2 L1968.9 1273 L1971.4 1269.8 L1974 1266.6 L1974 1338.3 L1971.4 1340.3 L1968.9 1342.3 L1966.4 1344.3 L1963.9 1346.3 L1961.4 1348.3 L1958.8 1350.3 L1956.3 1352.3 L1953.8 1354.4 L1951.3 1356.4 L1948.8 1358.4 L1946.2 1360.4 L1943.7 1362.4 L1941.2 1364.4 L1938.7 1366.4 L1936.2 1368.4 L1933.6 1370.4 L1931.1 1372.4 L1928.6 1374.4 L1926.1 1376.4 L1923.6 1378.3 L1921.1 1380.3 L1918.5 1382.3 L1916 1384.2 L1913.5 1386.2 L1911 1388.1 L1908.5 1390.1 L1905.9 1392 L1903.4 1393.9 L1900.9 1395.7 L1898.4 1397.6 L1895.9 1399.4 L1893.3 1401.2 L1890.8 1403 L1888.3 1404.8 L1885.8 1406.6 L1883.3 1408.3 L1880.8 1410 L1878.2 1411.7 L1875.7 1413.3 L1873.2 1414.9 L1870.7 1416.5 L1868.2 1418.1 L1865.6 1419.6 L1863.1 1421.1 L1860.6 1422.6 L1858.1 1424 L1855.6 1425.4 L1853 1426.8 L1850.5 1428.1 L1848 1429.4 L1845.5 1430.6 L1843 1431.8 L1840.4 1432.9 L1837.9 1434 L1835.4 1435.1 L1832.9 1436.1 L1830.4 1437.1 L1827.9 1438 L1825.3 1438.9 L1822.8 1439.7 L1820.3 1440.5 L1817.8 1441.2 L1815.3 1441.9 L1812.7 1442.5 L1810.2 1443.1 L1807.7 1443.6 L1805.2 1444.1 L1802.7 1444.5 L1800.1 1444.8 L1797.6 1445.1 L1795.1 1445.4 L1792.6 1445.6 L1790.1 1445.8 L1787.6 1445.9 L1785 1445.9 L1782.5 1446 L1780 1445.9 L1777.5 1445.8 L1775 1445.7 L1772.4 1445.6 L1769.9 1445.4 L1767.4 1445.1 L1764.9 1444.8 L1762.4 1444.5 L1759.8 1444.2 L1757.3 1443.8 L1754.8 1443.4 L1752.3 1443 L1749.8 1442.5 L1747.2 1442 L1744.7 1441.5 L1742.2 1440.9 L1739.7 1440.4 L1737.2 1439.8 L1734.7 1439.2 L1732.1 1438.6 L1729.6 1437.9 L1727.1 1437.3 L1724.6 1436.6 L1722.1 1435.9 L1719.5 1435.2 L1717 1434.5 L1714.5 1433.8 L1712 1433.1 L1709.5 1432.3 L1706.9 1431.6 L1704.4 1430.8 L1701.9 1430.1 L1699.4 1429.3 L1696.9 1428.6 L1694.4 1427.8 L1691.8 1427 L1689.3 1426.3 L1686.8 1425.5 L1684.3 1424.7 L1681.8 1424 L1679.2 1423.2 L1676.7 1422.4 L1674.2 1421.7 L1671.7 1420.9 L1669.2 1420.1 L1666.6 1419.4 L1664.1 1418.6 L1661.6 1417.9 L1659.1 1417.1 L1656.6 1416.4 L1654 1415.6 L1651.5 1414.8 L1649 1414.1 L1646.5 1413.3 L1644 1412.6 L1641.5 1411.8 L1638.9 1411.1 L1636.4 1410.3 L1633.9 1409.6 L1631.4 1408.9 L1628.9 1408.1 L1626.3 1407.4 L1623.8 1406.6 L1621.3 1405.9 L1618.8 1405.1 L1616.3 1404.4 L1613.7 1403.6 L1611.2 1402.9 L1608.7 1402.1 L1606.2 1401.4 L1603.7 1400.7 L1601.2 1399.9 L1598.6 1399.2 L1596.1 1398.4 L1593.6 1397.7 L1591.1 1397 L1588.6 1396.2 L1586 1395.5 L1583.5 1394.7 L1581 1394 L1578.5 1393.3 L1576 1392.5 L1573.4 1391.8 L1570.9 1391.1 L1568.4 1390.3 L1565.9 1389.6 L1563.4 1388.9 L1560.8 1388.1 L1558.3 1387.4 L1555.8 1386.7 L1553.3 1385.9 L1550.8 1385.2 L1548.3 1384.5 L1545.7 1383.7 L1543.2 1383 L1540.7 1382.3 L1538.2 1381.5 L1535.7 1380.8 L1533.1 1380.1 L1530.6 1379.3 L1528.1 1378.6 L1525.6 1377.8 L1523.1 1377.1 L1520.5 1376.4 L1518 1375.6 L1515.5 1374.9 L1513 1374.1 L1510.5 1373.4 L1508 1372.6 L1505.4 1371.9 L1502.9 1371.2 L1500.4 1370.4 L1497.9 1369.6 L1495.4 1368.9 L1492.8 1368.1 L1490.3 1367.4 L1487.8 1366.6 L1485.3 1365.8 L1482.8 1365.1 L1480.2 1364.3 L1477.7 1363.5 L1475.2 1362.7 L1472.7 1362 L1470.2 1361.2 L1467.6 1360.4 L1465.1 1359.6 L1462.6 1358.8 L1460.1 1358 L1457.6 1357.2 L1455.1 1356.4 L1452.5 1355.6 L1450 1354.8Z"/>
<path class="m" d="M1450 1226.8 L1452.5 1228.6 L1455.1 1230.3 L1457.6 1232.1 L1460.1 1233.8 L1462.6 1235.6 L1465.1 1237.3 L1467.6 1239.1 L1470.2 1240.8 L1472.7 1242.6 L1475.2 1244.4 L1477.7 1246.1 L1480.2 1247.9 L1482.8 1249.6 L1485.3 1251.4 L1487.8 1253.2 L1490.3 1254.9 L1492.8 1256.7 L1495.4 1258.5 L1497.9 1260.2 L1500.4 1262 L1502.9 1263.8 L1505.4 1265.5 L1508 1267.3 L1510.5 1269.1 L1513 1270.9 L1515.5 1272.7 L1518 1274.4 L1520.5 1276.2 L1523.1 1278 L1525.6 1279.8 L1528.1 1281.6 L1530.6 1283.3 L1533.1 1285.1 L1535.7 1286.9 L1538.2 1288.7 L1540.7 1290.5 L1543.2 1292.2 L1545.7 1294 L1548.3 1295.8 L1550.8 1297.6 L1553.3 1299.4 L1555.8 1301.2 L1558.3 1303 L1560.8 1304.7 L1563.4 1306.5 L1565.9 1308.3 L1568.4 1310.1 L1570.9 1311.9 L1573.4 1313.7 L1576 1315.5 L1578.5 1317.3 L1581 1319.1 L1583.5 1320.9 L1586 1322.7 L1588.6 1324.5 L1591.1 1326.3 L1593.6 1328.1 L1596.1 1329.9 L1598.6 1331.7 L1601.2 1333.5 L1603.7 1335.3 L1606.2 1337.1 L1608.7 1339 L1611.2 1340.8 L1613.7 1342.6 L1616.3 1344.4 L1618.8 1346.2 L1621.3 1348 L1623.8 1349.9 L1626.3 1351.7 L1628.9 1353.5 L1631.4 1355.4 L1633.9 1357.2 L1636.4 1359.1 L1638.9 1360.9 L1641.5 1362.7 L1644 1364.6 L1646.5 1366.4 L1649 1368.2 L1651.5 1370 L1654 1371.8 L1656.6 1373.6 L1659.1 1375.4 L1661.6 1377.2 L1664.1 1378.9 L1666.6 1380.7 L1669.2 1382.4 L1671.7 1384.2 L1674.2 1385.9 L1676.7 1387.6 L1679.2 1389.2 L1681.8 1390.9 L1684.3 1392.5 L1686.8 1394.1 L1689.3 1395.7 L1691.8 1397.2 L1694.4 1398.7 L1696.9 1400.2 L1699.4 1401.7 L1701.9 1403.2 L1704.4 1404.6 L1706.9 1405.9 L1709.5 1407.3 L1712 1408.6 L1714.5 1409.9 L1717 1411.1 L1719.5 1412.3 L1722.1 1413.4 L1724.6 1414.6 L1727.1 1415.6 L1729.6 1416.7 L1732.1 1417.7 L1734.7 1418.7 L1737.2 1419.6 L1739.7 1420.4 L1742.2 1421.3 L1744.7 1422 L1747.2 1422.8 L1749.8 1423.5 L1752.3 1424.1 L1754.8 1424.7 L1757.3 1425.3 L1759.8 1425.8 L1762.4 1426.2 L1764.9 1426.6 L1767.4 1427 L1769.9 1427.3 L1772.4 1427.5 L1775 1427.7 L1777.5 1427.9 L1780 1428 L1782.5 1428 L1785 1428 L1787.6 1428 L1790.1 1427.8 L1792.6 1427.7 L1795.1 1427.4 L1797.6 1427.2 L1800.1 1426.8 L1802.7 1426.4 L1805.2 1426 L1807.7 1425.5 L1810.2 1425 L1812.7 1424.4 L1815.3 1423.7 L1817.8 1423 L1820.3 1422.2 L1822.8 1421.4 L1825.3 1420.5 L1827.9 1419.6 L1830.4 1418.6 L1832.9 1417.6 L1835.4 1416.5 L1837.9 1415.4 L1840.4 1414.2 L1843 1413 L1845.5 1411.7 L1848 1410.4 L1850.5 1409 L1853 1407.6 L1855.6 1406.2 L1858.1 1404.7 L1860.6 1403.1 L1863.1 1401.5 L1865.6 1399.9 L1868.2 1398.2 L1870.7 1396.5 L1873.2 1394.8 L1875.7 1393 L1878.2 1391.1 L1880.8 1389.3 L1883.3 1387.4 L1885.8 1385.4 L1888.3 1383.5 L1890.8 1381.5 L1893.3 1379.4 L1895.9 1377.4 L1898.4 1375.3 L1900.9 1373.2 L1903.4 1371 L1905.9 1368.8 L1908.5 1366.6 L1911 1364.4 L1913.5 1362.1 L1916 1359.8 L1918.5 1357.5 L1921.1 1355.1 L1923.6 1352.8 L1926.1 1350.4 L1928.6 1348 L1931.1 1345.5 L1933.6 1343.1 L1936.2 1340.6 L1938.7 1338.1 L1941.2 1335.6 L1943.7 1333.1 L1946.2 1330.5 L1948.8 1328 L1951.3 1325.4 L1953.8 1322.9 L1956.3 1320.3 L1958.8 1317.7 L1961.4 1315.1 L1963.9 1312.5 L1966.4 1309.9 L1968.9 1307.3 L1971.4 1304.6 L1974 1302"/>
<path class="a" d="M1417.3 1043.3 V1455.3 H1984.9"/>
<line class="ty" x1="1410.3" y1="1054.5" x2="1417.3" y2="1054.5"/>
<text class="tk" text-anchor="middle" transform="translate(1402.4 1054.5) rotate(-90)">90</text>
<line class="ty" x1="1410.3" y1="1132.1" x2="1417.3" y2="1132.1"/>
<text class="tk" text-anchor="middle" transform="translate(1402.4 1132.1) rotate(-90)">88</text>
<line class="ty" x1="1410.3" y1="1209.5" x2="1417.3" y2="1209.5"/>
<text class="tk" text-anchor="middle" transform="translate(1402.4 1209.5) rotate(-90)">86</text>
<line class="ty" x1="1410.3" y1="1286.8" x2="1417.3" y2="1286.8"/>
<text class="tk" text-anchor="middle" transform="translate(1402.4 1286.8) rotate(-90)">84</text>
<line class="ty" x1="1410.3" y1="1364" x2="1417.3" y2="1364"/>
<text class="tk" text-anchor="middle" transform="translate(1402.4 1364) rotate(-90)">82</text>
<line class="ty" x1="1410.3" y1="1441.4" x2="1417.3" y2="1441.4"/>
<text class="tk" text-anchor="middle" transform="translate(1402.4 1441.4) rotate(-90)">80</text>
<line class="t" x1="1428.2" y1="1455.3" x2="1428.2" y2="1462.3"/>
<text class="tk" text-anchor="middle" x="1428.2" y="1486.6">10</text>
<line class="t" x1="1565.2" y1="1455.3" x2="1565.2" y2="1462.3"/>
<text class="tk" text-anchor="middle" x="1565.2" y="1486.6">20</text>
<line class="t" x1="1701.1" y1="1455.3" x2="1701.1" y2="1462.3"/>
<text class="tk" text-anchor="middle" x="1701.1" y="1486.6">30</text>
<line class="t" x1="1838.1" y1="1455.3" x2="1838.1" y2="1462.3"/>
<text class="tk" text-anchor="middle" x="1838.1" y="1486.6">40</text>
<line class="t" x1="1974.2" y1="1455.3" x2="1974.2" y2="1462.3"/>
<text class="tk" text-anchor="middle" x="1974.2" y="1486.6">50</text>
<text class="ax" text-anchor="middle" x="1701" y="1510.1">Percentage Body Fat</text>
<text class="ax" text-anchor="middle" transform="translate(1378.5 1248.9) rotate(-90)">Adjusted FEV1-FVC ratio %</text>
<text class="tt" x="1482.3" y="1065.8">Pnon-linear&lt;0.05</text>
</g>
<g>
<line class="g" x1="86.9" y1="1570.4" x2="651.7" y2="1570.4"/>
<line class="g" x1="86.9" y1="1647.5" x2="651.7" y2="1647.5"/>
<line class="g" x1="86.9" y1="1724.7" x2="651.7" y2="1724.7"/>
<line class="g" x1="86.9" y1="1801.7" x2="651.7" y2="1801.7"/>
<line class="g" x1="86.9" y1="1878.8" x2="651.7" y2="1878.8"/>
<line class="g" x1="86.9" y1="1956" x2="651.7" y2="1956"/>
<path class="b" d="M95.9 1566.5 L98.5 1568.4 L101 1570.3 L103.5 1572.2 L106 1574.1 L108.5 1575.9 L111.1 1577.8 L113.6 1579.6 L116.1 1581.4 L118.6 1583.2 L121.1 1585 L123.7 1586.7 L126.2 1588.5 L128.7 1590.2 L131.2 1591.8 L133.7 1593.4 L136.3 1595 L138.8 1596.6 L141.3 1598.1 L143.8 1599.6 L146.3 1601 L148.9 1602.4 L151.4 1603.7 L153.9 1605 L156.4 1606.3 L158.9 1607.5 L161.5 1608.7 L164 1609.8 L166.5 1610.9 L169 1611.9 L171.5 1612.9 L174.1 1613.9 L176.6 1614.8 L179.1 1615.7 L181.6 1616.5 L184.1 1617.3 L186.7 1618.1 L189.2 1618.8 L191.7 1619.5 L194.2 1620.2 L196.7 1620.9 L199.3 1621.5 L201.8 1622.1 L204.3 1622.7 L206.8 1623.3 L209.3 1623.8 L211.9 1624.4 L214.4 1624.9 L216.9 1625.4 L219.4 1625.9 L221.9 1626.4 L224.5 1626.9 L227 1627.4 L229.5 1627.9 L232 1628.3 L234.5 1628.8 L237.1 1629.3 L239.6 1629.8 L242.1 1630.3 L244.6 1630.8 L247.1 1631.3 L249.7 1631.8 L252.2 1632.3 L254.7 1632.8 L257.2 1633.4 L259.7 1633.9 L262.3 1634.5 L264.8 1635.1 L267.3 1635.6 L269.8 1636.2 L272.3 1636.9 L274.9 1637.5 L277.4 1638.1 L279.9 1638.8 L282.4 1639.5 L284.9 1640.1 L287.5 1640.8 L290 1641.5 L292.5 1642.3 L295 1643 L297.5 1643.7 L300.1 1644.5 L302.6 1645.2 L305.1 1646 L307.6 1646.8 L310.1 1647.6 L312.7 1648.4 L315.2 1649.2 L317.7 1650 L320.2 1650.9 L322.7 1651.7 L325.3 1652.5 L327.8 1653.4 L330.3 1654.2 L332.8 1655.1 L335.3 1656 L337.9 1656.9 L340.4 1657.8 L342.9 1658.7 L345.4 1659.6 L347.9 1660.5 L350.5 1661.4 L353 1662.3 L355.5 1663.2 L358 1664.2 L360.5 1665.1 L363.1 1666 L365.6 1666.9 L368.1 1667.9 L370.6 1668.8 L373.1 1669.7 L375.7 1670.6 L378.2 1671.5 L380.7 1672.4 L383.2 1673.3 L385.7 1674.2 L388.3 1675.1 L390.8 1676 L393.3 1676.8 L395.8 1677.7 L398.3 1678.5 L400.9 1679.3 L403.4 1680.2 L405.9 1681 L408.4 1681.8 L410.9 1682.6 L413.5 1683.3 L416 1684.1 L418.5 1684.8 L421 1685.6 L423.5 1686.3 L426.1 1687 L428.6 1687.6 L431.1 1688.3 L433.6 1689 L436.1 1689.6 L438.7 1690.2 L441.2 1690.8 L443.7 1691.4 L446.2 1692 L448.7 1692.5 L451.3 1693 L453.8 1693.6 L456.3 1694.1 L458.8 1694.5 L461.3 1695 L463.9 1695.5 L466.4 1695.9 L468.9 1696.3 L471.4 1696.7 L473.9 1697.1 L476.5 1697.5 L479 1697.8 L481.5 1698.2 L484 1698.5 L486.5 1698.8 L489.1 1699.1 L491.6 1699.4 L494.1 1699.7 L496.6 1699.9 L499.1 1700.2 L501.7 1700.4 L504.2 1700.6 L506.7 1700.8 L509.2 1701 L511.7 1701.2 L514.3 1701.3 L516.8 1701.5 L519.3 1701.6 L521.8 1701.8 L524.3 1701.9 L526.9 1702 L529.4 1702.1 L531.9 1702.2 L534.4 1702.3 L536.9 1702.4 L539.5 1702.4 L542 1702.5 L544.5 1702.5 L547 1702.6 L549.5 1702.6 L552.1 1702.7 L554.6 1702.7 L557.1 1702.7 L559.6 1702.7 L562.1 1702.7 L564.7 1702.7 L567.2 1702.7 L569.7 1702.7 L572.2 1702.6 L574.7 1702.6 L577.3 1702.6 L579.8 1702.6 L582.3 1702.5 L584.8 1702.5 L587.3 1702.4 L589.9 1702.4 L592.4 1702.3 L594.9 1702.2 L597.4 1702.2 L599.9 1702.1 L602.5 1702.1 L605 1702 L607.5 1701.9 L610 1701.9 L612.5 1701.8 L615.1 1701.7 L615.1 1924.2 L612.5 1921.9 L610 1919.7 L607.5 1917.5 L605 1915.3 L602.5 1913.1 L599.9 1910.9 L597.4 1908.7 L594.9 1906.5 L592.4 1904.3 L589.9 1902.1 L587.3 1899.9 L584.8 1897.7 L582.3 1895.5 L579.8 1893.3 L577.3 1891.1 L574.7 1889 L572.2 1886.8 L569.7 1884.6 L567.2 1882.4 L564.7 1880.2 L562.1 1878 L559.6 1875.8 L557.1 1873.6 L554.6 1871.4 L552.1 1869.2 L549.5 1867 L547 1864.9 L544.5 1862.7 L542 1860.5 L539.5 1858.3 L536.9 1856.2 L534.4 1854 L531.9 1851.8 L529.4 1849.7 L526.9 1847.5 L524.3 1845.3 L521.8 1843.2 L519.3 1841 L516.8 1838.9 L514.3 1836.8 L511.7 1834.6 L509.2 1832.5 L506.7 1830.4 L504.2 1828.3 L501.7 1826.2 L499.1 1824.1 L496.6 1822.1 L494.1 1820 L491.6 1817.9 L489.1 1815.9 L486.5 1813.9 L484 1811.9 L481.5 1809.9 L479 1807.9 L476.5 1805.9 L473.9 1803.9 L471.4 1802 L468.9 1800.1 L466.4 1798.2 L463.9 1796.3 L461.3 1794.4 L458.8 1792.6 L456.3 1790.8 L453.8 1789 L451.3 1787.2 L448.7 1785.5 L446.2 1783.8 L443.7 1782.1 L441.2 1780.4 L438.7 1778.8 L436.1 1777.2 L433.6 1775.6 L431.1 1774 L428.6 1772.5 L426.1 1771 L423.5 1769.6 L421 1768.1 L418.5 1766.7 L416 1765.4 L413.5 1764 L410.9 1762.7 L408.4 1761.4 L405.9 1760.1 L403.4 1758.9 L400.9 1757.6 L398.3 1756.4 L395.8 1755.3 L393.3 1754.1 L390.8 1753 L388.3 1751.8 L385.7 1750.7 L383.2 1749.6 L380.7 1748.6 L378.2 1747.5 L375.7 1746.5 L373.1 1745.4 L370.6 1744.4 L368.1 1743.4 L365.6 1742.4 L363.1 1741.4 L360.5 1740.4 L358 1739.5 L355.5 1738.5 L353 1737.6 L350.5 1736.6 L347.9 1735.7 L345.4 1734.8 L342.9 1733.8 L340.4 1732.9 L337.9 1732 L335.3 1731.1 L332.8 1730.1 L330.3 1729.2 L327.8 1728.3 L325.3 1727.4 L322.7 1726.5 L320.2 1725.5 L317.7 1724.6 L315.2 1723.7 L312.7 1722.8 L310.1 1721.8 L307.6 1720.9 L305.1 1719.9 L302.6 1719 L300.1 1718 L297.5 1717 L295 1716 L292.5 1715.1 L290 1714.1 L287.5 1713.1 L284.9 1712.1 L282.4 1711 L279.9 1710 L277.4 1709 L274.9 1707.9 L272.3 1706.9 L269.8 1705.9 L267.3 1704.8 L264.8 1703.8 L262.3 1702.7 L259.7 1701.6 L257.2 1700.6 L254.7 1699.5 L252.2 1698.5 L249.7 1697.4 L247.1 1696.4 L244.6 1695.3 L242.1 1694.3 L239.6 1693.3 L237.1 1692.2 L234.5 1691.2 L232 1690.2 L229.5 1689.3 L227 1688.3 L224.5 1687.4 L221.9 1686.4 L219.4 1685.5 L216.9 1684.7 L214.4 1683.8 L211.9 1683 L209.3 1682.2 L206.8 1681.4 L204.3 1680.7 L201.8 1680 L199.3 1679.3 L196.7 1678.6 L194.2 1678 L191.7 1677.5 L189.2 1677 L186.7 1676.5 L184.1 1676 L181.6 1675.6 L179.1 1675.2 L176.6 1674.9 L174.1 1674.6 L171.5 1674.4 L169 1674.2 L166.5 1674.1 L164 1673.9 L161.5 1673.9 L158.9 1673.9 L156.4 1673.9 L153.9 1673.9 L151.4 1674 L148.9 1674.2 L146.3 1674.3 L143.8 1674.5 L141.3 1674.8 L138.8 1675.1 L136.3 1675.4 L133.7 1675.7 L131.2 1676.1 L128.7 1676.5 L126.2 1677 L123.7 1677.4 L121.1 1677.9 L118.6 1678.4 L116.1 1679 L113.6 1679.5 L111.1 1680.1 L108.5 1680.6 L106 1681.2 L103.5 1681.8 L101 1682.4 L98.5 1683 L95.9 1683.6Z"/>
<path class="m" d="M95.9 1625 L98.5 1625.5 L101 1626.1 L103.5 1626.6 L106 1627.2 L108.5 1627.7 L111.1 1628.3 L113.6 1628.8 L116.1 1629.4 L118.6 1630 L121.1 1630.5 L123.7 1631.1 L126.2 1631.7 L128.7 1632.2 L131.2 1632.8 L133.7 1633.4 L136.3 1634 L138.8 1634.5 L141.3 1635.1 L143.8 1635.7 L146.3 1636.3 L148.9 1636.9 L151.4 1637.5 L153.9 1638.2 L156.4 1638.8 L158.9 1639.4 L161.5 1640 L164 1640.7 L166.5 1641.3 L169 1642 L171.5 1642.6 L174.1 1643.3 L176.6 1643.9 L179.1 1644.6 L181.6 1645.3 L184.1 1646 L186.7 1646.7 L189.2 1647.4 L191.7 1648.1 L194.2 1648.8 L196.7 1649.6 L199.3 1650.3 L201.8 1651 L204.3 1651.8 L206.8 1652.5 L209.3 1653.3 L211.9 1654.1 L214.4 1654.9 L216.9 1655.6 L219.4 1656.4 L221.9 1657.2 L224.5 1658 L227 1658.9 L229.5 1659.7 L232 1660.5 L234.5 1661.3 L237.1 1662.1 L239.6 1663 L242.1 1663.8 L244.6 1664.7 L247.1 1665.5 L249.7 1666.3 L252.2 1667.2 L254.7 1668.1 L257.2 1668.9 L259.7 1669.8 L262.3 1670.6 L264.8 1671.5 L267.3 1672.3 L269.8 1673.2 L272.3 1674.1 L274.9 1674.9 L277.4 1675.8 L279.9 1676.7 L282.4 1677.5 L284.9 1678.4 L287.5 1679.2 L290 1680.1 L292.5 1680.9 L295 1681.8 L297.5 1682.6 L300.1 1683.5 L302.6 1684.3 L305.1 1685.1 L307.6 1686 L310.1 1686.8 L312.7 1687.6 L315.2 1688.5 L317.7 1689.3 L320.2 1690.1 L322.7 1690.9 L325.3 1691.8 L327.8 1692.6 L330.3 1693.5 L332.8 1694.3 L335.3 1695.2 L337.9 1696.1 L340.4 1697 L342.9 1697.8 L345.4 1698.7 L347.9 1699.7 L350.5 1700.6 L353 1701.5 L355.5 1702.4 L358 1703.4 L360.5 1704.4 L363.1 1705.3 L365.6 1706.3 L368.1 1707.3 L370.6 1708.3 L373.1 1709.3 L375.7 1710.3 L378.2 1711.3 L380.7 1712.3 L383.2 1713.4 L385.7 1714.4 L388.3 1715.4 L390.8 1716.5 L393.3 1717.5 L395.8 1718.6 L398.3 1719.6 L400.9 1720.7 L403.4 1721.8 L405.9 1722.8 L408.4 1723.9 L410.9 1725 L413.5 1726 L416 1727.1 L418.5 1728.2 L421 1729.2 L423.5 1730.3 L426.1 1731.4 L428.6 1732.5 L431.1 1733.6 L433.6 1734.6 L436.1 1735.7 L438.7 1736.8 L441.2 1737.9 L443.7 1738.9 L446.2 1740 L448.7 1741.1 L451.3 1742.2 L453.8 1743.3 L456.3 1744.3 L458.8 1745.4 L461.3 1746.5 L463.9 1747.6 L466.4 1748.7 L468.9 1749.8 L471.4 1750.8 L473.9 1751.9 L476.5 1753 L479 1754.1 L481.5 1755.2 L484 1756.3 L486.5 1757.4 L489.1 1758.4 L491.6 1759.5 L494.1 1760.6 L496.6 1761.7 L499.1 1762.8 L501.7 1763.9 L504.2 1765 L506.7 1766.1 L509.2 1767.2 L511.7 1768.2 L514.3 1769.3 L516.8 1770.4 L519.3 1771.5 L521.8 1772.6 L524.3 1773.7 L526.9 1774.8 L529.4 1775.9 L531.9 1777 L534.4 1778 L536.9 1779.1 L539.5 1780.2 L542 1781.3 L544.5 1782.4 L547 1783.5 L549.5 1784.6 L552.1 1785.6 L554.6 1786.7 L557.1 1787.8 L559.6 1788.9 L562.1 1790 L564.7 1791.1 L567.2 1792.1 L569.7 1793.2 L572.2 1794.3 L574.7 1795.4 L577.3 1796.5 L579.8 1797.6 L582.3 1798.6 L584.8 1799.7 L587.3 1800.8 L589.9 1801.9 L592.4 1803 L594.9 1804 L597.4 1805.1 L599.9 1806.2 L602.5 1807.3 L605 1808.4 L607.5 1809.4 L610 1810.5 L612.5 1811.6 L615.1 1812.7"/>
<path class="a" d="M83.9 1553.9 V1966.2 H651.7"/>
<line class="ty" x1="76.9" y1="1570.4" x2="83.9" y2="1570.4"/>
<text class="tk" text-anchor="middle" transform="translate(69 1570.4) rotate(-90)">102</text>
<line class="ty" x1="76.9" y1="1647.5" x2="83.9" y2="1647.5"/>
<text class="tk" text-anchor="middle" transform="translate(69 1647.5) rotate(-90)">100</text>
<line class="ty" x1="76.9" y1="1724.7" x2="83.9" y2="1724.7"/>
<text class="tk" text-anchor="middle" transform="translate(69 1724.7) rotate(-90)">98</text>
<line class="ty" x1="76.9" y1="1801.7" x2="83.9" y2="1801.7"/>
<text class="tk" text-anchor="middle" transform="translate(69 1801.7) rotate(-90)">96</text>
<line class="ty" x1="76.9" y1="1878.8" x2="83.9" y2="1878.8"/>
<text class="tk" text-anchor="middle" transform="translate(69 1878.8) rotate(-90)">94</text>
<line class="ty" x1="76.9" y1="1956" x2="83.9" y2="1956"/>
<text class="tk" text-anchor="middle" transform="translate(69 1956) rotate(-90)">92</text>
<line class="t" x1="103.5" y1="1966.2" x2="103.5" y2="1973.2"/>
<text class="tk" text-anchor="middle" x="103.5" y="1997.5">2</text>
<line class="t" x1="211" y1="1966.2" x2="211" y2="1973.2"/>
<text class="tk" text-anchor="middle" x="211" y="1997.5">4</text>
<line class="t" x1="318.1" y1="1966.2" x2="318.1" y2="1973.2"/>
<text class="tk" text-anchor="middle" x="318.1" y="1997.5">6</text>
<line class="t" x1="425.6" y1="1966.2" x2="425.6" y2="1973.2"/>
<text class="tk" text-anchor="middle" x="425.6" y="1997.5">8</text>
<line class="t" x1="533.1" y1="1966.2" x2="533.1" y2="1973.2"/>
<text class="tk" text-anchor="middle" x="533.1" y="1997.5">10</text>
<line class="t" x1="640.6" y1="1966.2" x2="640.6" y2="1973.2"/>
<text class="tk" text-anchor="middle" x="640.6" y="1997.5">12</text>
<text class="ax" text-anchor="middle" x="367.1" y="2021">Body Roundness Index</text>
<text class="ax" text-anchor="middle" transform="translate(45.1 1761.3) rotate(-90)">Adjusted FEV1 % predicted value</text>
<text class="tt" x="134.8" y="1574.8">Pnon-linear&gt;0.05</text>
</g>
<g>
<line class="g" x1="753.2" y1="1565.3" x2="1318.9" y2="1565.3"/>
<line class="g" x1="753.2" y1="1697.6" x2="1318.9" y2="1697.6"/>
<line class="g" x1="753.2" y1="1830" x2="1318.9" y2="1830"/>
<line class="g" x1="753.2" y1="1962.4" x2="1318.9" y2="1962.4"/>
<path class="b" d="M761.9 1581.8 L764.5 1582.5 L767 1583.1 L769.5 1583.8 L772 1584.5 L774.6 1585.1 L777.1 1585.8 L779.6 1586.4 L782.1 1587.1 L784.7 1587.7 L787.2 1588.4 L789.7 1589 L792.2 1589.6 L794.7 1590.3 L797.3 1590.9 L799.8 1591.5 L802.3 1592.1 L804.8 1592.6 L807.4 1593.2 L809.9 1593.7 L812.4 1594.3 L814.9 1594.8 L817.5 1595.3 L820 1595.8 L822.5 1596.3 L825 1596.8 L827.5 1597.3 L830.1 1597.7 L832.6 1598.2 L835.1 1598.6 L837.6 1599 L840.2 1599.4 L842.7 1599.8 L845.2 1600.2 L847.7 1600.6 L850.2 1601 L852.8 1601.4 L855.3 1601.7 L857.8 1602.1 L860.3 1602.5 L862.9 1602.8 L865.4 1603.2 L867.9 1603.6 L870.4 1603.9 L873 1604.3 L875.5 1604.7 L878 1605.1 L880.5 1605.4 L883 1605.8 L885.6 1606.2 L888.1 1606.7 L890.6 1607.1 L893.1 1607.5 L895.7 1608 L898.2 1608.4 L900.7 1608.9 L903.2 1609.4 L905.8 1609.9 L908.3 1610.4 L910.8 1611 L913.3 1611.5 L915.8 1612.1 L918.4 1612.7 L920.9 1613.3 L923.4 1613.9 L925.9 1614.5 L928.5 1615.2 L931 1615.9 L933.5 1616.6 L936 1617.3 L938.5 1618 L941.1 1618.8 L943.6 1619.5 L946.1 1620.3 L948.6 1621.1 L951.2 1621.9 L953.7 1622.8 L956.2 1623.6 L958.7 1624.5 L961.3 1625.4 L963.8 1626.3 L966.3 1627.2 L968.8 1628.1 L971.3 1629.1 L973.9 1630.1 L976.4 1631 L978.9 1632 L981.4 1633 L984 1634.1 L986.5 1635.1 L989 1636.1 L991.5 1637.2 L994.1 1638.3 L996.6 1639.3 L999.1 1640.4 L1001.6 1641.5 L1004.1 1642.7 L1006.7 1643.8 L1009.2 1644.9 L1011.7 1646.1 L1014.2 1647.2 L1016.8 1648.4 L1019.3 1649.5 L1021.8 1650.7 L1024.3 1651.8 L1026.8 1653 L1029.4 1654.2 L1031.9 1655.3 L1034.4 1656.5 L1036.9 1657.7 L1039.5 1658.9 L1042 1660.1 L1044.5 1661.3 L1047 1662.5 L1049.6 1663.7 L1052.1 1664.9 L1054.6 1666.1 L1057.1 1667.3 L1059.6 1668.6 L1062.2 1669.8 L1064.7 1671.1 L1067.2 1672.3 L1069.7 1673.6 L1072.3 1674.8 L1074.8 1676.1 L1077.3 1677.4 L1079.8 1678.7 L1082.4 1680 L1084.9 1681.3 L1087.4 1682.6 L1089.9 1683.9 L1092.4 1685.2 L1095 1686.6 L1097.5 1687.9 L1100 1689.3 L1102.5 1690.6 L1105.1 1692 L1107.6 1693.4 L1110.1 1694.8 L1112.6 1696.2 L1115.1 1697.6 L1117.7 1699 L1120.2 1700.5 L1122.7 1701.9 L1125.2 1703.4 L1127.8 1704.8 L1130.3 1706.3 L1132.8 1707.8 L1135.3 1709.3 L1137.9 1710.7 L1140.4 1712.2 L1142.9 1713.7 L1145.4 1715.2 L1147.9 1716.7 L1150.5 1718.2 L1153 1719.7 L1155.5 1721.2 L1158 1722.7 L1160.6 1724.2 L1163.1 1725.7 L1165.6 1727.2 L1168.1 1728.7 L1170.7 1730.2 L1173.2 1731.7 L1175.7 1733.2 L1178.2 1734.7 L1180.7 1736.1 L1183.3 1737.6 L1185.8 1739.1 L1188.3 1740.6 L1190.8 1742 L1193.4 1743.5 L1195.9 1744.9 L1198.4 1746.4 L1200.9 1747.8 L1203.4 1749.3 L1206 1750.7 L1208.5 1752.2 L1211 1753.6 L1213.5 1755.1 L1216.1 1756.5 L1218.6 1757.9 L1221.1 1759.4 L1223.6 1760.8 L1226.2 1762.2 L1228.7 1763.7 L1231.2 1765.1 L1233.7 1766.5 L1236.2 1767.9 L1238.8 1769.3 L1241.3 1770.8 L1243.8 1772.2 L1246.3 1773.6 L1248.9 1775 L1251.4 1776.4 L1253.9 1777.8 L1256.4 1779.2 L1259 1780.7 L1261.5 1782.1 L1264 1783.5 L1266.5 1784.9 L1269 1786.3 L1271.6 1787.7 L1274.1 1789.1 L1276.6 1790.5 L1279.1 1791.9 L1281.7 1793.3 L1281.7 1925.3 L1279.1 1922.6 L1276.6 1919.9 L1274.1 1917.2 L1271.6 1914.5 L1269 1911.8 L1266.5 1909.1 L1264 1906.4 L1261.5 1903.8 L1259 1901.1 L1256.4 1898.4 L1253.9 1895.8 L1251.4 1893.1 L1248.9 1890.5 L1246.3 1887.9 L1243.8 1885.2 L1241.3 1882.6 L1238.8 1880 L1236.2 1877.5 L1233.7 1874.9 L1231.2 1872.3 L1228.7 1869.8 L1226.2 1867.3 L1223.6 1864.8 L1221.1 1862.3 L1218.6 1859.8 L1216.1 1857.3 L1213.5 1854.9 L1211 1852.5 L1208.5 1850 L1206 1847.6 L1203.4 1845.2 L1200.9 1842.7 L1198.4 1840.3 L1195.9 1837.9 L1193.4 1835.4 L1190.8 1833 L1188.3 1830.5 L1185.8 1828.1 L1183.3 1825.6 L1180.7 1823.1 L1178.2 1820.6 L1175.7 1818.1 L1173.2 1815.6 L1170.7 1813.1 L1168.1 1810.6 L1165.6 1808.2 L1163.1 1805.8 L1160.6 1803.5 L1158 1801.2 L1155.5 1798.9 L1153 1796.7 L1150.5 1794.4 L1147.9 1792.2 L1145.4 1790.1 L1142.9 1787.9 L1140.4 1785.8 L1137.9 1783.7 L1135.3 1781.6 L1132.8 1779.6 L1130.3 1777.5 L1127.8 1775.5 L1125.2 1773.5 L1122.7 1771.5 L1120.2 1769.6 L1117.7 1767.6 L1115.1 1765.7 L1112.6 1763.7 L1110.1 1761.8 L1107.6 1759.9 L1105.1 1758 L1102.5 1756.1 L1100 1754.2 L1097.5 1752.3 L1095 1750.5 L1092.4 1748.6 L1089.9 1746.8 L1087.4 1745 L1084.9 1743.2 L1082.4 1741.4 L1079.8 1739.6 L1077.3 1737.8 L1074.8 1736.1 L1072.3 1734.4 L1069.7 1732.6 L1067.2 1730.9 L1064.7 1729.3 L1062.2 1727.6 L1059.6 1725.9 L1057.1 1724.3 L1054.6 1722.7 L1052.1 1721.1 L1049.6 1719.5 L1047 1717.9 L1044.5 1716.4 L1042 1714.8 L1039.5 1713.3 L1036.9 1711.8 L1034.4 1710.3 L1031.9 1708.8 L1029.4 1707.3 L1026.8 1705.8 L1024.3 1704.4 L1021.8 1702.9 L1019.3 1701.5 L1016.8 1700.1 L1014.2 1698.7 L1011.7 1697.3 L1009.2 1695.9 L1006.7 1694.5 L1004.1 1693.1 L1001.6 1691.7 L999.1 1690.4 L996.6 1689 L994.1 1687.7 L991.5 1686.4 L989 1685.1 L986.5 1683.8 L984 1682.6 L981.4 1681.3 L978.9 1680.1 L976.4 1678.8 L973.9 1677.6 L971.3 1676.4 L968.8 1675.2 L966.3 1674 L963.8 1672.8 L961.3 1671.7 L958.7 1670.5 L956.2 1669.3 L953.7 1668.2 L951.2 1667.1 L948.6 1666 L946.1 1664.9 L943.6 1663.8 L941.1 1662.7 L938.5 1661.6 L936 1660.6 L933.5 1659.5 L931 1658.5 L928.5 1657.5 L925.9 1656.5 L923.4 1655.5 L920.9 1654.5 L918.4 1653.5 L915.8 1652.6 L913.3 1651.7 L910.8 1650.8 L908.3 1649.9 L905.8 1649 L903.2 1648.2 L900.7 1647.4 L898.2 1646.6 L895.7 1645.8 L893.1 1645 L890.6 1644.3 L888.1 1643.6 L885.6 1642.9 L883 1642.3 L880.5 1641.6 L878 1641.1 L875.5 1640.5 L873 1640 L870.4 1639.5 L867.9 1639 L865.4 1638.6 L862.9 1638.2 L860.3 1637.8 L857.8 1637.5 L855.3 1637.2 L852.8 1636.9 L850.2 1636.7 L847.7 1636.5 L845.2 1636.3 L842.7 1636.2 L840.2 1636.1 L837.6 1636.1 L835.1 1636.1 L832.6 1636.1 L830.1 1636.2 L827.5 1636.3 L825 1636.4 L822.5 1636.6 L820 1636.8 L817.5 1637 L814.9 1637.3 L812.4 1637.6 L809.9 1637.9 L807.4 1638.3 L804.8 1638.7 L802.3 1639.1 L799.8 1639.5 L797.3 1640 L794.7 1640.5 L792.2 1641 L789.7 1641.5 L787.2 1642.1 L784.7 1642.6 L782.1 1643.2 L779.6 1643.8 L777.1 1644.4 L774.6 1645.1 L772 1645.7 L769.5 1646.3 L767 1647 L764.5 1647.6 L761.9 1648.3Z"/>
<path class="m" d="M761.9 1614.9 L764.5 1614.9 L767 1614.9 L769.5 1614.9 L772 1614.9 L774.6 1614.9 L777.1 1615 L779.6 1615 L782.1 1615 L784.7 1615 L787.2 1615.1 L789.7 1615.1 L792.2 1615.2 L794.7 1615.2 L797.3 1615.3 L799.8 1615.3 L802.3 1615.4 L804.8 1615.5 L807.4 1615.6 L809.9 1615.7 L812.4 1615.8 L814.9 1615.9 L817.5 1616.1 L820 1616.2 L822.5 1616.3 L825 1616.5 L827.5 1616.7 L830.1 1616.9 L832.6 1617.1 L835.1 1617.3 L837.6 1617.5 L840.2 1617.7 L842.7 1618 L845.2 1618.3 L847.7 1618.5 L850.2 1618.8 L852.8 1619.1 L855.3 1619.5 L857.8 1619.8 L860.3 1620.2 L862.9 1620.5 L865.4 1620.9 L867.9 1621.3 L870.4 1621.7 L873 1622.2 L875.5 1622.6 L878 1623.1 L880.5 1623.6 L883 1624.1 L885.6 1624.6 L888.1 1625.2 L890.6 1625.7 L893.1 1626.3 L895.7 1626.9 L898.2 1627.5 L900.7 1628.1 L903.2 1628.8 L905.8 1629.4 L908.3 1630.1 L910.8 1630.8 L913.3 1631.5 L915.8 1632.3 L918.4 1633 L920.9 1633.8 L923.4 1634.6 L925.9 1635.4 L928.5 1636.2 L931 1637 L933.5 1637.8 L936 1638.7 L938.5 1639.6 L941.1 1640.5 L943.6 1641.4 L946.1 1642.3 L948.6 1643.2 L951.2 1644.2 L953.7 1645.1 L956.2 1646.1 L958.7 1647.1 L961.3 1648.1 L963.8 1649.1 L966.3 1650.1 L968.8 1651.2 L971.3 1652.2 L973.9 1653.3 L976.4 1654.4 L978.9 1655.5 L981.4 1656.6 L984 1657.7 L986.5 1658.8 L989 1659.9 L991.5 1661.1 L994.1 1662.2 L996.6 1663.4 L999.1 1664.6 L1001.6 1665.8 L1004.1 1667 L1006.7 1668.2 L1009.2 1669.4 L1011.7 1670.7 L1014.2 1671.9 L1016.8 1673.2 L1019.3 1674.4 L1021.8 1675.7 L1024.3 1677 L1026.8 1678.3 L1029.4 1679.6 L1031.9 1680.9 L1034.4 1682.3 L1036.9 1683.6 L1039.5 1685 L1042 1686.4 L1044.5 1687.8 L1047 1689.2 L1049.6 1690.6 L1052.1 1692.1 L1054.6 1693.5 L1057.1 1695 L1059.6 1696.5 L1062.2 1698.1 L1064.7 1699.6 L1067.2 1701.2 L1069.7 1702.8 L1072.3 1704.4 L1074.8 1706 L1077.3 1707.6 L1079.8 1709.3 L1082.4 1710.9 L1084.9 1712.6 L1087.4 1714.3 L1089.9 1716 L1092.4 1717.7 L1095 1719.4 L1097.5 1721.1 L1100 1722.9 L1102.5 1724.6 L1105.1 1726.3 L1107.6 1728.1 L1110.1 1729.8 L1112.6 1731.6 L1115.1 1733.3 L1117.7 1735.1 L1120.2 1736.8 L1122.7 1738.6 L1125.2 1740.4 L1127.8 1742.1 L1130.3 1743.9 L1132.8 1745.6 L1135.3 1747.4 L1137.9 1749.2 L1140.4 1751 L1142.9 1752.7 L1145.4 1754.5 L1147.9 1756.3 L1150.5 1758.1 L1153 1759.9 L1155.5 1761.7 L1158 1763.5 L1160.6 1765.3 L1163.1 1767.1 L1165.6 1768.9 L1168.1 1770.7 L1170.7 1772.6 L1173.2 1774.4 L1175.7 1776.3 L1178.2 1778.1 L1180.7 1780 L1183.3 1781.8 L1185.8 1783.7 L1188.3 1785.6 L1190.8 1787.4 L1193.4 1789.3 L1195.9 1791.2 L1198.4 1793.1 L1200.9 1795 L1203.4 1796.9 L1206 1798.9 L1208.5 1800.8 L1211 1802.7 L1213.5 1804.7 L1216.1 1806.6 L1218.6 1808.6 L1221.1 1810.5 L1223.6 1812.5 L1226.2 1814.5 L1228.7 1816.5 L1231.2 1818.5 L1233.7 1820.5 L1236.2 1822.5 L1238.8 1824.5 L1241.3 1826.5 L1243.8 1828.5 L1246.3 1830.6 L1248.9 1832.6 L1251.4 1834.6 L1253.9 1836.7 L1256.4 1838.7 L1259 1840.8 L1261.5 1842.8 L1264 1844.9 L1266.5 1846.9 L1269 1849 L1271.6 1851 L1274.1 1853.1 L1276.6 1855.2 L1279.1 1857.2 L1281.7 1859.3"/>
<path class="a" d="M750.2 1553.9 V1973.6 H1318.9"/>
<line class="ty" x1="743.2" y1="1565.3" x2="750.2" y2="1565.3"/>
<text class="tk" text-anchor="middle" transform="translate(735.3 1565.3) rotate(-90)">105</text>
<line class="ty" x1="743.2" y1="1697.6" x2="750.2" y2="1697.6"/>
<text class="tk" text-anchor="middle" transform="translate(735.3 1697.6) rotate(-90)">100</text>
<line class="ty" x1="743.2" y1="1830" x2="750.2" y2="1830"/>
<text class="tk" text-anchor="middle" transform="translate(735.3 1830) rotate(-90)">95</text>
<line class="ty" x1="743.2" y1="1962.4" x2="750.2" y2="1962.4"/>
<text class="tk" text-anchor="middle" transform="translate(735.3 1962.4) rotate(-90)">90</text>
<line class="t" x1="770.3" y1="1973.6" x2="770.3" y2="1980.6"/>
<text class="tk" text-anchor="middle" x="770.3" y="2004.7">2</text>
<line class="t" x1="877.4" y1="1973.6" x2="877.4" y2="1980.6"/>
<text class="tk" text-anchor="middle" x="877.4" y="2004.7">4</text>
<line class="t" x1="984.9" y1="1973.6" x2="984.9" y2="1980.6"/>
<text class="tk" text-anchor="middle" x="984.9" y="2004.7">6</text>
<line class="t" x1="1092.4" y1="1973.6" x2="1092.4" y2="1980.6"/>
<text class="tk" text-anchor="middle" x="1092.4" y="2004.7">8</text>
<line class="t" x1="1199.9" y1="1973.6" x2="1199.9" y2="1980.6"/>
<text class="tk" text-anchor="middle" x="1199.9" y="2004.7">10</text>
<line class="t" x1="1307.4" y1="1973.6" x2="1307.4" y2="1980.6"/>
<text class="tk" text-anchor="middle" x="1307.4" y="2004.7">12</text>
<text class="ax" style="font-size:17.8px" text-anchor="middle" x="1034.7" y="2022.8">Body Roundness Index</text>
<text class="ax" text-anchor="middle" transform="translate(711.4 1761.9) rotate(-90)">Adjusted FVC % predicted value</text>
<text class="tt" x="815.3" y="1574.8">Pnon-linear&lt;0.05</text>
</g>
<g>
<line class="g" x1="1420.3" y1="1565.3" x2="1984.9" y2="1565.3"/>
<line class="g" x1="1420.3" y1="1695.2" x2="1984.9" y2="1695.2"/>
<line class="g" x1="1420.3" y1="1825.2" x2="1984.9" y2="1825.2"/>
<line class="g" x1="1420.3" y1="1955.4" x2="1984.9" y2="1955.4"/>
<path class="b" d="M1428.5 1817.4 L1431 1819.7 L1433.5 1822 L1436.1 1824.4 L1438.6 1826.7 L1441.1 1829 L1443.6 1831.2 L1446.1 1833.5 L1448.6 1835.7 L1451.1 1837.9 L1453.6 1840.1 L1456.2 1842.2 L1458.7 1844.3 L1461.2 1846.4 L1463.7 1848.4 L1466.2 1850.4 L1468.7 1852.3 L1471.2 1854.1 L1473.7 1855.9 L1476.3 1857.7 L1478.8 1859.3 L1481.3 1861 L1483.8 1862.5 L1486.3 1864 L1488.8 1865.4 L1491.3 1866.7 L1493.9 1868 L1496.4 1869.2 L1498.9 1870.3 L1501.4 1871.3 L1503.9 1872.3 L1506.4 1873.2 L1508.9 1874 L1511.4 1874.8 L1514 1875.5 L1516.5 1876.1 L1519 1876.6 L1521.5 1877.1 L1524 1877.5 L1526.5 1877.9 L1529 1878.2 L1531.5 1878.4 L1534.1 1878.6 L1536.6 1878.8 L1539.1 1878.8 L1541.6 1878.9 L1544.1 1878.8 L1546.6 1878.8 L1549.1 1878.7 L1551.6 1878.5 L1554.2 1878.3 L1556.7 1878.1 L1559.2 1877.8 L1561.7 1877.5 L1564.2 1877.2 L1566.7 1876.8 L1569.2 1876.4 L1571.7 1876 L1574.3 1875.5 L1576.8 1875 L1579.3 1874.5 L1581.8 1874 L1584.3 1873.5 L1586.8 1872.9 L1589.3 1872.3 L1591.9 1871.7 L1594.4 1871.1 L1596.9 1870.5 L1599.4 1869.9 L1601.9 1869.2 L1604.4 1868.5 L1606.9 1867.9 L1609.4 1867.2 L1612 1866.5 L1614.5 1865.8 L1617 1865.1 L1619.5 1864.4 L1622 1863.6 L1624.5 1862.9 L1627 1862.2 L1629.5 1861.4 L1632.1 1860.7 L1634.6 1859.9 L1637.1 1859.2 L1639.6 1858.4 L1642.1 1857.7 L1644.6 1856.9 L1647.1 1856.1 L1649.6 1855.3 L1652.2 1854.5 L1654.7 1853.7 L1657.2 1852.9 L1659.7 1852.1 L1662.2 1851.2 L1664.7 1850.4 L1667.2 1849.5 L1669.7 1848.6 L1672.3 1847.7 L1674.8 1846.8 L1677.3 1845.9 L1679.8 1844.9 L1682.3 1844 L1684.8 1843 L1687.3 1842 L1689.9 1840.9 L1692.4 1839.8 L1694.9 1838.7 L1697.4 1837.6 L1699.9 1836.4 L1702.4 1835.3 L1704.9 1834 L1707.4 1832.8 L1710 1831.5 L1712.5 1830.1 L1715 1828.8 L1717.5 1827.4 L1720 1825.9 L1722.5 1824.4 L1725 1822.9 L1727.5 1821.3 L1730.1 1819.7 L1732.6 1818 L1735.1 1816.3 L1737.6 1814.5 L1740.1 1812.7 L1742.6 1810.8 L1745.1 1808.9 L1747.6 1807 L1750.2 1804.9 L1752.7 1802.9 L1755.2 1800.8 L1757.7 1798.6 L1760.2 1796.4 L1762.7 1794.1 L1765.2 1791.8 L1767.7 1789.5 L1770.3 1787.1 L1772.8 1784.6 L1775.3 1782.1 L1777.8 1779.6 L1780.3 1777 L1782.8 1774.4 L1785.3 1771.7 L1787.8 1769 L1790.4 1766.2 L1792.9 1763.4 L1795.4 1760.6 L1797.9 1757.7 L1800.4 1754.8 L1802.9 1751.8 L1805.4 1748.8 L1808 1745.8 L1810.5 1742.8 L1813 1739.7 L1815.5 1736.7 L1818 1733.5 L1820.5 1730.4 L1823 1727.3 L1825.5 1724.1 L1828.1 1720.9 L1830.6 1717.7 L1833.1 1714.5 L1835.6 1711.2 L1838.1 1708 L1840.6 1704.8 L1843.1 1701.5 L1845.6 1698.2 L1848.2 1695 L1850.7 1691.7 L1853.2 1688.4 L1855.7 1685.1 L1858.2 1681.8 L1860.7 1678.6 L1863.2 1675.3 L1865.7 1672 L1868.3 1668.7 L1870.8 1665.5 L1873.3 1662.2 L1875.8 1658.9 L1878.3 1655.7 L1880.8 1652.4 L1883.3 1649.2 L1885.8 1646 L1888.4 1642.8 L1890.9 1639.6 L1893.4 1636.4 L1895.9 1633.2 L1898.4 1630 L1900.9 1626.8 L1903.4 1623.7 L1906 1620.5 L1908.5 1617.4 L1911 1614.3 L1913.5 1611.2 L1916 1608.1 L1918.5 1605 L1921 1601.9 L1923.5 1598.8 L1926.1 1595.7 L1928.6 1592.7 L1931.1 1589.6 L1933.6 1586.6 L1936.1 1583.5 L1938.6 1580.5 L1941.1 1577.5 L1943.6 1574.5 L1946.2 1571.4 L1948.7 1568.4 L1948.7 1765.8 L1946.2 1766.8 L1943.6 1767.7 L1941.1 1768.7 L1938.6 1769.7 L1936.1 1770.6 L1933.6 1771.6 L1931.1 1772.6 L1928.6 1773.5 L1926.1 1774.5 L1923.5 1775.5 L1921 1776.4 L1918.5 1777.4 L1916 1778.4 L1913.5 1779.3 L1911 1780.3 L1908.5 1781.3 L1906 1782.2 L1903.4 1783.2 L1900.9 1784.2 L1898.4 1785.2 L1895.9 1786.1 L1893.4 1787.1 L1890.9 1788.1 L1888.4 1789.1 L1885.8 1790 L1883.3 1791 L1880.8 1792 L1878.3 1793 L1875.8 1794 L1873.3 1795 L1870.8 1796 L1868.3 1797 L1865.7 1798 L1863.2 1799 L1860.7 1800 L1858.2 1801 L1855.7 1802.1 L1853.2 1803.1 L1850.7 1804.1 L1848.2 1805.1 L1845.6 1806.2 L1843.1 1807.2 L1840.6 1808.3 L1838.1 1809.4 L1835.6 1810.4 L1833.1 1811.5 L1830.6 1812.6 L1828.1 1813.7 L1825.5 1814.8 L1823 1815.9 L1820.5 1817 L1818 1818.1 L1815.5 1819.3 L1813 1820.4 L1810.5 1821.6 L1808 1822.8 L1805.4 1823.9 L1802.9 1825.1 L1800.4 1826.3 L1797.9 1827.5 L1795.4 1828.8 L1792.9 1830 L1790.4 1831.3 L1787.8 1832.5 L1785.3 1833.8 L1782.8 1835.1 L1780.3 1836.4 L1777.8 1837.8 L1775.3 1839.1 L1772.8 1840.5 L1770.3 1841.9 L1767.7 1843.3 L1765.2 1844.7 L1762.7 1846.1 L1760.2 1847.5 L1757.7 1849 L1755.2 1850.5 L1752.7 1852 L1750.2 1853.5 L1747.6 1855 L1745.1 1856.5 L1742.6 1858.1 L1740.1 1859.6 L1737.6 1861.2 L1735.1 1862.8 L1732.6 1864.3 L1730.1 1865.9 L1727.5 1867.5 L1725 1869.1 L1722.5 1870.8 L1720 1872.4 L1717.5 1874 L1715 1875.6 L1712.5 1877.2 L1710 1878.8 L1707.4 1880.4 L1704.9 1882.1 L1702.4 1883.7 L1699.9 1885.3 L1697.4 1886.8 L1694.9 1888.4 L1692.4 1890 L1689.9 1891.5 L1687.3 1893.1 L1684.8 1894.6 L1682.3 1896.1 L1679.8 1897.6 L1677.3 1899.1 L1674.8 1900.5 L1672.3 1901.9 L1669.7 1903.3 L1667.2 1904.7 L1664.7 1906 L1662.2 1907.3 L1659.7 1908.6 L1657.2 1909.9 L1654.7 1911.1 L1652.2 1912.3 L1649.6 1913.4 L1647.1 1914.5 L1644.6 1915.6 L1642.1 1916.6 L1639.6 1917.6 L1637.1 1918.5 L1634.6 1919.4 L1632.1 1920.2 L1629.5 1921.1 L1627 1921.8 L1624.5 1922.5 L1622 1923.2 L1619.5 1923.8 L1617 1924.4 L1614.5 1924.9 L1612 1925.4 L1609.4 1925.8 L1606.9 1926.2 L1604.4 1926.6 L1601.9 1926.9 L1599.4 1927.1 L1596.9 1927.3 L1594.4 1927.5 L1591.9 1927.6 L1589.3 1927.7 L1586.8 1927.7 L1584.3 1927.7 L1581.8 1927.7 L1579.3 1927.6 L1576.8 1927.4 L1574.3 1927.3 L1571.7 1927.1 L1569.2 1926.9 L1566.7 1926.6 L1564.2 1926.3 L1561.7 1926 L1559.2 1925.6 L1556.7 1925.3 L1554.2 1924.9 L1551.6 1924.5 L1549.1 1924 L1546.6 1923.6 L1544.1 1923.1 L1541.6 1922.7 L1539.1 1922.2 L1536.6 1921.7 L1534.1 1921.3 L1531.5 1920.8 L1529 1920.3 L1526.5 1919.9 L1524 1919.4 L1521.5 1919 L1519 1918.5 L1516.5 1918.1 L1514 1917.7 L1511.4 1917.4 L1508.9 1917 L1506.4 1916.7 L1503.9 1916.4 L1501.4 1916.1 L1498.9 1915.9 L1496.4 1915.6 L1493.9 1915.4 L1491.3 1915.3 L1488.8 1915.2 L1486.3 1915.1 L1483.8 1915 L1481.3 1914.9 L1478.8 1914.9 L1476.3 1915 L1473.7 1915 L1471.2 1915.1 L1468.7 1915.2 L1466.2 1915.3 L1463.7 1915.5 L1461.2 1915.7 L1458.7 1915.9 L1456.2 1916.1 L1453.6 1916.3 L1451.1 1916.6 L1448.6 1916.9 L1446.1 1917.1 L1443.6 1917.4 L1441.1 1917.7 L1438.6 1918.1 L1436.1 1918.4 L1433.5 1918.7 L1431 1919.1 L1428.5 1919.4Z"/>
<path class="m" d="M1428.5 1868.3 L1431 1869.3 L1433.5 1870.4 L1436.1 1871.4 L1438.6 1872.4 L1441.1 1873.5 L1443.6 1874.5 L1446.1 1875.5 L1448.6 1876.5 L1451.1 1877.6 L1453.6 1878.6 L1456.2 1879.5 L1458.7 1880.5 L1461.2 1881.5 L1463.7 1882.4 L1466.2 1883.4 L1468.7 1884.3 L1471.2 1885.2 L1473.7 1886.1 L1476.3 1887 L1478.8 1887.8 L1481.3 1888.6 L1483.8 1889.4 L1486.3 1890.2 L1488.8 1891 L1491.3 1891.7 L1493.9 1892.4 L1496.4 1893.1 L1498.9 1893.8 L1501.4 1894.4 L1503.9 1895 L1506.4 1895.6 L1508.9 1896.2 L1511.4 1896.7 L1514 1897.2 L1516.5 1897.6 L1519 1898.1 L1521.5 1898.5 L1524 1898.9 L1526.5 1899.2 L1529 1899.5 L1531.5 1899.8 L1534.1 1900.1 L1536.6 1900.3 L1539.1 1900.6 L1541.6 1900.7 L1544.1 1900.9 L1546.6 1901 L1549.1 1901.1 L1551.6 1901.2 L1554.2 1901.2 L1556.7 1901.2 L1559.2 1901.2 L1561.7 1901.2 L1564.2 1901.1 L1566.7 1901 L1569.2 1900.8 L1571.7 1900.7 L1574.3 1900.5 L1576.8 1900.3 L1579.3 1900.1 L1581.8 1899.8 L1584.3 1899.5 L1586.8 1899.2 L1589.3 1898.9 L1591.9 1898.5 L1594.4 1898.1 L1596.9 1897.7 L1599.4 1897.2 L1601.9 1896.8 L1604.4 1896.3 L1606.9 1895.8 L1609.4 1895.2 L1612 1894.7 L1614.5 1894.1 L1617 1893.5 L1619.5 1892.8 L1622 1892.2 L1624.5 1891.5 L1627 1890.8 L1629.5 1890.1 L1632.1 1889.3 L1634.6 1888.6 L1637.1 1887.8 L1639.6 1887 L1642.1 1886.1 L1644.6 1885.3 L1647.1 1884.4 L1649.6 1883.5 L1652.2 1882.6 L1654.7 1881.6 L1657.2 1880.7 L1659.7 1879.7 L1662.2 1878.7 L1664.7 1877.6 L1667.2 1876.6 L1669.7 1875.5 L1672.3 1874.4 L1674.8 1873.3 L1677.3 1872.1 L1679.8 1870.9 L1682.3 1869.7 L1684.8 1868.5 L1687.3 1867.2 L1689.9 1866 L1692.4 1864.6 L1694.9 1863.3 L1697.4 1861.9 L1699.9 1860.6 L1702.4 1859.2 L1704.9 1857.7 L1707.4 1856.3 L1710 1854.8 L1712.5 1853.3 L1715 1851.7 L1717.5 1850.2 L1720 1848.6 L1722.5 1847 L1725 1845.4 L1727.5 1843.7 L1730.1 1842 L1732.6 1840.3 L1735.1 1838.6 L1737.6 1836.9 L1740.1 1835.1 L1742.6 1833.3 L1745.1 1831.5 L1747.6 1829.7 L1750.2 1827.9 L1752.7 1826 L1755.2 1824.2 L1757.7 1822.3 L1760.2 1820.4 L1762.7 1818.4 L1765.2 1816.5 L1767.7 1814.5 L1770.3 1812.6 L1772.8 1810.6 L1775.3 1808.6 L1777.8 1806.6 L1780.3 1804.6 L1782.8 1802.6 L1785.3 1800.5 L1787.8 1798.5 L1790.4 1796.5 L1792.9 1794.4 L1795.4 1792.3 L1797.9 1790.3 L1800.4 1788.2 L1802.9 1786.1 L1805.4 1784.1 L1808 1782 L1810.5 1779.9 L1813 1777.8 L1815.5 1775.7 L1818 1773.6 L1820.5 1771.5 L1823 1769.4 L1825.5 1767.3 L1828.1 1765.2 L1830.6 1763.1 L1833.1 1761 L1835.6 1758.9 L1838.1 1756.8 L1840.6 1754.7 L1843.1 1752.7 L1845.6 1750.6 L1848.2 1748.5 L1850.7 1746.4 L1853.2 1744.3 L1855.7 1742.2 L1858.2 1740.1 L1860.7 1738 L1863.2 1736 L1865.7 1733.9 L1868.3 1731.8 L1870.8 1729.7 L1873.3 1727.7 L1875.8 1725.6 L1878.3 1723.5 L1880.8 1721.5 L1883.3 1719.4 L1885.8 1717.3 L1888.4 1715.3 L1890.9 1713.2 L1893.4 1711.2 L1895.9 1709.1 L1898.4 1707.1 L1900.9 1705 L1903.4 1703 L1906 1701 L1908.5 1698.9 L1911 1696.9 L1913.5 1694.9 L1916 1692.9 L1918.5 1690.9 L1921 1688.8 L1923.5 1686.8 L1926.1 1684.8 L1928.6 1682.8 L1931.1 1680.8 L1933.6 1678.8 L1936.1 1676.8 L1938.6 1674.8 L1941.1 1672.8 L1943.6 1670.8 L1946.2 1668.8 L1948.7 1666.9"/>
<path class="a" d="M1417.3 1553.9 V1966.2 H1984.9"/>
<line class="ty" x1="1410.3" y1="1565.3" x2="1417.3" y2="1565.3"/>
<text class="tk" text-anchor="middle" transform="translate(1402.4 1565.3) rotate(-90)">86</text>
<line class="ty" x1="1410.3" y1="1695.2" x2="1417.3" y2="1695.2"/>
<text class="tk" text-anchor="middle" transform="translate(1402.4 1695.2) rotate(-90)">84</text>
<line class="ty" x1="1410.3" y1="1825.2" x2="1417.3" y2="1825.2"/>
<text class="tk" text-anchor="middle" transform="translate(1402.4 1825.2) rotate(-90)">82</text>
<line class="ty" x1="1410.3" y1="1955.4" x2="1417.3" y2="1955.4"/>
<text class="tk" text-anchor="middle" transform="translate(1402.4 1955.4) rotate(-90)">80</text>
<line class="t" x1="1436.7" y1="1966.2" x2="1436.7" y2="1973.2"/>
<text class="tk" text-anchor="middle" x="1436.7" y="1997.5">2</text>
<line class="t" x1="1544.2" y1="1966.2" x2="1544.2" y2="1973.2"/>
<text class="tk" text-anchor="middle" x="1544.2" y="1997.5">4</text>
<line class="t" x1="1651.7" y1="1966.2" x2="1651.7" y2="1973.2"/>
<text class="tk" text-anchor="middle" x="1651.7" y="1997.5">6</text>
<line class="t" x1="1759.2" y1="1966.2" x2="1759.2" y2="1973.2"/>
<text class="tk" text-anchor="middle" x="1759.2" y="1997.5">8</text>
<line class="t" x1="1866.3" y1="1966.2" x2="1866.3" y2="1973.2"/>
<text class="tk" text-anchor="middle" x="1866.3" y="1997.5">10</text>
<line class="t" x1="1974.1" y1="1966.2" x2="1974.1" y2="1973.2"/>
<text class="tk" text-anchor="middle" x="1974.1" y="1997.5">12</text>
<text class="ax" text-anchor="middle" x="1701" y="2021">Body Roundness Index</text>
<text class="ax" text-anchor="middle" transform="translate(1378.5 1758.9) rotate(-90)">Adjusted FEV1-FVC ratio %</text>
<text class="tt" x="1477.9" y="1573.8">Pnon-linear&lt;0.05</text>
</g>
<g>
<line class="g" x1="83.3" y1="2073.3" x2="651.7" y2="2073.3"/>
<line class="g" x1="83.3" y1="2150.5" x2="651.7" y2="2150.5"/>
<line class="g" x1="83.3" y1="2227.5" x2="651.7" y2="2227.5"/>
<line class="g" x1="83.3" y1="2304.8" x2="651.7" y2="2304.8"/>
<line class="g" x1="83.3" y1="2381.8" x2="651.7" y2="2381.8"/>
<line class="g" x1="83.3" y1="2459" x2="651.7" y2="2459"/>
<path class="b" d="M92 2080.5 L94.5 2081.5 L97 2082.6 L99.5 2083.6 L102 2084.6 L104.5 2085.6 L107.1 2086.6 L109.6 2087.7 L112.1 2088.7 L114.6 2089.7 L117.1 2090.7 L119.6 2091.8 L122.1 2092.8 L124.7 2093.8 L127.2 2094.8 L129.7 2095.9 L132.2 2096.9 L134.7 2097.9 L137.2 2098.9 L139.7 2100 L142.3 2101 L144.8 2102 L147.3 2103 L149.8 2104.1 L152.3 2105.1 L154.8 2106.1 L157.3 2107.1 L159.9 2108.1 L162.4 2109.2 L164.9 2110.2 L167.4 2111.2 L169.9 2112.2 L172.4 2113.2 L174.9 2114.2 L177.5 2115.2 L180 2116.1 L182.5 2117.1 L185 2118.1 L187.5 2119.1 L190 2120 L192.5 2121 L195.1 2121.9 L197.6 2122.8 L200.1 2123.8 L202.6 2124.7 L205.1 2125.6 L207.6 2126.5 L210.2 2127.3 L212.7 2128.2 L215.2 2129.1 L217.7 2129.9 L220.2 2130.7 L222.7 2131.5 L225.2 2132.3 L227.8 2133.1 L230.3 2133.9 L232.8 2134.7 L235.3 2135.4 L237.8 2136.2 L240.3 2136.9 L242.8 2137.6 L245.4 2138.3 L247.9 2139 L250.4 2139.7 L252.9 2140.4 L255.4 2141.1 L257.9 2141.8 L260.4 2142.5 L263 2143.2 L265.5 2143.9 L268 2144.6 L270.5 2145.3 L273 2146.1 L275.5 2146.8 L278 2147.5 L280.6 2148.3 L283.1 2149.1 L285.6 2149.9 L288.1 2150.7 L290.6 2151.5 L293.1 2152.4 L295.6 2153.3 L298.2 2154.2 L300.7 2155.1 L303.2 2156 L305.7 2157 L308.2 2158 L310.7 2159.1 L313.2 2160.1 L315.8 2161.2 L318.3 2162.3 L320.8 2163.4 L323.3 2164.6 L325.8 2165.8 L328.3 2167 L330.9 2168.2 L333.4 2169.4 L335.9 2170.7 L338.4 2172 L340.9 2173.3 L343.4 2174.7 L345.9 2176 L348.5 2177.4 L351 2178.7 L353.5 2180.1 L356 2181.5 L358.5 2182.9 L361 2184.3 L363.5 2185.7 L366.1 2187.1 L368.6 2188.5 L371.1 2189.9 L373.6 2191.3 L376.1 2192.7 L378.6 2194.1 L381.1 2195.5 L383.7 2196.8 L386.2 2198.2 L388.7 2199.6 L391.2 2200.9 L393.7 2202.2 L396.2 2203.6 L398.7 2204.9 L401.3 2206.2 L403.8 2207.5 L406.3 2208.7 L408.8 2210 L411.3 2211.3 L413.8 2212.5 L416.3 2213.7 L418.9 2214.9 L421.4 2216.2 L423.9 2217.3 L426.4 2218.5 L428.9 2219.7 L431.4 2220.8 L433.9 2222 L436.5 2223.1 L439 2224.3 L441.5 2225.4 L444 2226.5 L446.5 2227.6 L449 2228.8 L451.5 2229.9 L454.1 2231 L456.6 2232.1 L459.1 2233.2 L461.6 2234.3 L464.1 2235.4 L466.6 2236.5 L469.2 2237.6 L471.7 2238.8 L474.2 2239.9 L476.7 2241 L479.2 2242.1 L481.7 2243.3 L484.2 2244.4 L486.8 2245.5 L489.3 2246.7 L491.8 2247.8 L494.3 2248.9 L496.8 2250.1 L499.3 2251.2 L501.8 2252.4 L504.4 2253.5 L506.9 2254.7 L509.4 2255.8 L511.9 2257 L514.4 2258.1 L516.9 2259.3 L519.4 2260.4 L522 2261.6 L524.5 2262.8 L527 2263.9 L529.5 2265.1 L532 2266.2 L534.5 2267.4 L537 2268.6 L539.6 2269.7 L542.1 2270.9 L544.6 2272.1 L547.1 2273.2 L549.6 2274.4 L552.1 2275.6 L554.6 2276.7 L557.2 2277.9 L559.7 2279.1 L562.2 2280.3 L564.7 2281.4 L567.2 2282.6 L569.7 2283.8 L572.2 2285 L574.8 2286.2 L577.3 2287.4 L579.8 2288.5 L582.3 2289.7 L584.8 2290.9 L587.3 2292.1 L589.8 2293.3 L592.4 2294.6 L594.9 2295.8 L597.4 2297 L599.9 2298.2 L602.4 2299.4 L604.9 2300.6 L607.5 2301.8 L610 2303 L612.5 2304.2 L615 2305.5 L617.5 2306.7 L620 2307.9 L622.5 2309.1 L625.1 2310.4 L627.6 2311.6 L630.1 2312.8 L632.6 2314.1 L635.1 2315.3 L637.6 2316.5 L640.1 2317.8 L640.1 2417.4 L637.6 2415.4 L635.1 2413.4 L632.6 2411.5 L630.1 2409.5 L627.6 2407.5 L625.1 2405.5 L622.5 2403.5 L620 2401.5 L617.5 2399.5 L615 2397.5 L612.5 2395.5 L610 2393.5 L607.5 2391.5 L604.9 2389.4 L602.4 2387.4 L599.9 2385.4 L597.4 2383.3 L594.9 2381.3 L592.4 2379.2 L589.8 2377.1 L587.3 2375.1 L584.8 2373 L582.3 2370.9 L579.8 2368.8 L577.3 2366.8 L574.8 2364.7 L572.2 2362.6 L569.7 2360.5 L567.2 2358.4 L564.7 2356.3 L562.2 2354.2 L559.7 2352 L557.2 2349.9 L554.6 2347.8 L552.1 2345.7 L549.6 2343.6 L547.1 2341.5 L544.6 2339.4 L542.1 2337.3 L539.6 2335.2 L537 2333.1 L534.5 2330.9 L532 2328.8 L529.5 2326.7 L527 2324.6 L524.5 2322.5 L522 2320.4 L519.4 2318.3 L516.9 2316.2 L514.4 2314.1 L511.9 2312 L509.4 2309.9 L506.9 2307.8 L504.4 2305.7 L501.8 2303.6 L499.3 2301.5 L496.8 2299.4 L494.3 2297.3 L491.8 2295.2 L489.3 2293 L486.8 2290.9 L484.2 2288.8 L481.7 2286.7 L479.2 2284.6 L476.7 2282.5 L474.2 2280.3 L471.7 2278.2 L469.2 2276.1 L466.6 2274 L464.1 2271.8 L461.6 2269.7 L459.1 2267.6 L456.6 2265.4 L454.1 2263.3 L451.5 2261.2 L449 2259 L446.5 2256.9 L444 2254.8 L441.5 2252.7 L439 2250.5 L436.5 2248.4 L433.9 2246.3 L431.4 2244.2 L428.9 2242.1 L426.4 2240 L423.9 2237.9 L421.4 2235.8 L418.9 2233.8 L416.3 2231.7 L413.8 2229.6 L411.3 2227.6 L408.8 2225.5 L406.3 2223.5 L403.8 2221.5 L401.3 2219.5 L398.7 2217.5 L396.2 2215.6 L393.7 2213.6 L391.2 2211.7 L388.7 2209.8 L386.2 2207.9 L383.7 2206 L381.1 2204.2 L378.6 2202.3 L376.1 2200.5 L373.6 2198.8 L371.1 2197 L368.6 2195.3 L366.1 2193.6 L363.5 2191.9 L361 2190.2 L358.5 2188.6 L356 2187 L353.5 2185.4 L351 2183.9 L348.5 2182.4 L345.9 2180.9 L343.4 2179.4 L340.9 2178 L338.4 2176.6 L335.9 2175.2 L333.4 2173.9 L330.9 2172.6 L328.3 2171.3 L325.8 2170.1 L323.3 2168.9 L320.8 2167.7 L318.3 2166.5 L315.8 2165.4 L313.2 2164.3 L310.7 2163.3 L308.2 2162.3 L305.7 2161.3 L303.2 2160.4 L300.7 2159.4 L298.2 2158.6 L295.6 2157.7 L293.1 2156.9 L290.6 2156.1 L288.1 2155.4 L285.6 2154.6 L283.1 2154 L280.6 2153.3 L278 2152.7 L275.5 2152.1 L273 2151.6 L270.5 2151 L268 2150.6 L265.5 2150.1 L263 2149.7 L260.4 2149.3 L257.9 2148.9 L255.4 2148.6 L252.9 2148.3 L250.4 2148 L247.9 2147.8 L245.4 2147.6 L242.8 2147.4 L240.3 2147.2 L237.8 2147 L235.3 2146.9 L232.8 2146.8 L230.3 2146.7 L227.8 2146.6 L225.2 2146.6 L222.7 2146.5 L220.2 2146.5 L217.7 2146.5 L215.2 2146.5 L212.7 2146.5 L210.2 2146.5 L207.6 2146.5 L205.1 2146.6 L202.6 2146.6 L200.1 2146.7 L197.6 2146.7 L195.1 2146.8 L192.5 2146.9 L190 2147 L187.5 2147 L185 2147.1 L182.5 2147.2 L180 2147.3 L177.5 2147.5 L174.9 2147.6 L172.4 2147.7 L169.9 2147.8 L167.4 2147.9 L164.9 2148.1 L162.4 2148.2 L159.9 2148.3 L157.3 2148.4 L154.8 2148.6 L152.3 2148.7 L149.8 2148.8 L147.3 2148.9 L144.8 2149.1 L142.3 2149.2 L139.7 2149.3 L137.2 2149.5 L134.7 2149.6 L132.2 2149.7 L129.7 2149.9 L127.2 2150 L124.7 2150.1 L122.1 2150.3 L119.6 2150.4 L117.1 2150.5 L114.6 2150.6 L112.1 2150.8 L109.6 2150.9 L107.1 2151 L104.5 2151.2 L102 2151.3 L99.5 2151.4 L97 2151.5 L94.5 2151.7 L92 2151.8Z"/>
<path class="m" d="M92 2115.9 L94.5 2116.4 L97 2116.9 L99.5 2117.4 L102 2117.9 L104.5 2118.4 L107.1 2118.9 L109.6 2119.4 L112.1 2119.9 L114.6 2120.4 L117.1 2120.9 L119.6 2121.3 L122.1 2121.8 L124.7 2122.3 L127.2 2122.8 L129.7 2123.3 L132.2 2123.8 L134.7 2124.3 L137.2 2124.8 L139.7 2125.3 L142.3 2125.7 L144.8 2126.2 L147.3 2126.7 L149.8 2127.2 L152.3 2127.6 L154.8 2128.1 L157.3 2128.6 L159.9 2129 L162.4 2129.5 L164.9 2129.9 L167.4 2130.4 L169.9 2130.9 L172.4 2131.3 L174.9 2131.7 L177.5 2132.2 L180 2132.6 L182.5 2133.1 L185 2133.5 L187.5 2133.9 L190 2134.4 L192.5 2134.8 L195.1 2135.2 L197.6 2135.6 L200.1 2136.1 L202.6 2136.5 L205.1 2136.9 L207.6 2137.3 L210.2 2137.7 L212.7 2138.1 L215.2 2138.5 L217.7 2138.9 L220.2 2139.3 L222.7 2139.7 L225.2 2140.1 L227.8 2140.5 L230.3 2140.9 L232.8 2141.3 L235.3 2141.7 L237.8 2142.1 L240.3 2142.5 L242.8 2143 L245.4 2143.4 L247.9 2143.8 L250.4 2144.3 L252.9 2144.7 L255.4 2145.2 L257.9 2145.7 L260.4 2146.1 L263 2146.7 L265.5 2147.2 L268 2147.7 L270.5 2148.3 L273 2148.9 L275.5 2149.5 L278 2150.2 L280.6 2150.8 L283.1 2151.5 L285.6 2152.3 L288.1 2153 L290.6 2153.8 L293.1 2154.6 L295.6 2155.4 L298.2 2156.3 L300.7 2157.2 L303.2 2158.1 L305.7 2159.1 L308.2 2160.1 L310.7 2161.1 L313.2 2162.2 L315.8 2163.2 L318.3 2164.4 L320.8 2165.5 L323.3 2166.7 L325.8 2167.9 L328.3 2169.1 L330.9 2170.4 L333.4 2171.6 L335.9 2173 L338.4 2174.3 L340.9 2175.7 L343.4 2177 L345.9 2178.4 L348.5 2179.9 L351 2181.3 L353.5 2182.8 L356 2184.3 L358.5 2185.8 L361 2187.3 L363.5 2188.8 L366.1 2190.4 L368.6 2192 L371.1 2193.5 L373.6 2195.1 L376.1 2196.7 L378.6 2198.3 L381.1 2199.9 L383.7 2201.5 L386.2 2203.2 L388.7 2204.8 L391.2 2206.4 L393.7 2208.1 L396.2 2209.7 L398.7 2211.4 L401.3 2213 L403.8 2214.7 L406.3 2216.3 L408.8 2218 L411.3 2219.6 L413.8 2221.3 L416.3 2222.9 L418.9 2224.6 L421.4 2226.2 L423.9 2227.9 L426.4 2229.5 L428.9 2231.2 L431.4 2232.8 L433.9 2234.4 L436.5 2236.1 L439 2237.7 L441.5 2239.3 L444 2241 L446.5 2242.6 L449 2244.2 L451.5 2245.9 L454.1 2247.5 L456.6 2249.1 L459.1 2250.7 L461.6 2252.3 L464.1 2253.9 L466.6 2255.5 L469.2 2257.2 L471.7 2258.8 L474.2 2260.4 L476.7 2262 L479.2 2263.6 L481.7 2265.2 L484.2 2266.8 L486.8 2268.4 L489.3 2270 L491.8 2271.6 L494.3 2273.2 L496.8 2274.8 L499.3 2276.4 L501.8 2278 L504.4 2279.6 L506.9 2281.2 L509.4 2282.8 L511.9 2284.5 L514.4 2286.1 L516.9 2287.7 L519.4 2289.3 L522 2290.9 L524.5 2292.5 L527 2294.1 L529.5 2295.7 L532 2297.4 L534.5 2299 L537 2300.6 L539.6 2302.2 L542.1 2303.8 L544.6 2305.4 L547.1 2307.1 L549.6 2308.7 L552.1 2310.3 L554.6 2311.9 L557.2 2313.5 L559.7 2315.2 L562.2 2316.8 L564.7 2318.4 L567.2 2320 L569.7 2321.6 L572.2 2323.3 L574.8 2324.9 L577.3 2326.5 L579.8 2328.1 L582.3 2329.7 L584.8 2331.4 L587.3 2333 L589.8 2334.6 L592.4 2336.2 L594.9 2337.8 L597.4 2339.4 L599.9 2341.1 L602.4 2342.7 L604.9 2344.3 L607.5 2345.9 L610 2347.5 L612.5 2349.1 L615 2350.7 L617.5 2352.4 L620 2354 L622.5 2355.6 L625.1 2357.2 L627.6 2358.8 L630.1 2360.4 L632.6 2362 L635.1 2363.6 L637.6 2365.3 L640.1 2366.9"/>
<path class="a" d="M80.3 2062.3 V2470.9 H651.7"/>
<line class="ty" x1="73.3" y1="2073.3" x2="80.3" y2="2073.3"/>
<text class="tk" style="font-size:18px" text-anchor="middle" transform="translate(66.4 2073.3) rotate(-90)">110</text>
<line class="ty" x1="73.3" y1="2150.5" x2="80.3" y2="2150.5"/>
<text class="tk" style="font-size:18px" text-anchor="middle" transform="translate(66.4 2150.5) rotate(-90)">100</text>
<line class="ty" x1="73.3" y1="2227.5" x2="80.3" y2="2227.5"/>
<text class="tk" style="font-size:18px" text-anchor="middle" transform="translate(66.4 2227.5) rotate(-90)">90</text>
<line class="ty" x1="73.3" y1="2304.8" x2="80.3" y2="2304.8"/>
<text class="tk" style="font-size:18px" text-anchor="middle" transform="translate(66.4 2304.8) rotate(-90)">80</text>
<line class="ty" x1="73.3" y1="2381.8" x2="80.3" y2="2381.8"/>
<text class="tk" style="font-size:18px" text-anchor="middle" transform="translate(66.4 2381.8) rotate(-90)">70</text>
<line class="ty" x1="73.3" y1="2459" x2="80.3" y2="2459"/>
<text class="tk" style="font-size:18px" text-anchor="middle" transform="translate(66.4 2459) rotate(-90)">60</text>
<line class="t" x1="116.1" y1="2470.9" x2="116.1" y2="2477.9"/>
<text class="tk" style="font-size:24.6px" text-anchor="middle" x="116.1" y="2504.1">.06</text>
<line class="t" x1="217.7" y1="2470.9" x2="217.7" y2="2477.9"/>
<text class="tk" style="font-size:24.6px" text-anchor="middle" x="217.7" y="2504.1">.07</text>
<line class="t" x1="319.3" y1="2470.9" x2="319.3" y2="2477.9"/>
<text class="tk" style="font-size:24.6px" text-anchor="middle" x="319.3" y="2504.1">.08</text>
<line class="t" x1="420.9" y1="2470.9" x2="420.9" y2="2477.9"/>
<text class="tk" style="font-size:24.6px" text-anchor="middle" x="420.9" y="2504.1">.09</text>
<line class="t" x1="522.5" y1="2470.9" x2="522.5" y2="2477.9"/>
<text class="tk" style="font-size:24.6px" text-anchor="middle" x="522.5" y="2504.1">.1</text>
<line class="t" x1="624.1" y1="2470.9" x2="624.1" y2="2477.9"/>
<text class="tk" style="font-size:24.6px" text-anchor="middle" x="624.1" y="2504.1">.11</text>
<text class="ax" text-anchor="middle" x="366.3" y="2529.1">A Body Shape Index</text>
<text class="ax" text-anchor="middle" transform="translate(45.1 2265) rotate(-90)">Adjusted FEV1 % predicted value</text>
<text class="tt" x="140.7" y="2086.8">Pnon-linear&lt;0.05</text>
</g>
<g>
<line class="g" x1="749.9" y1="2073.3" x2="1318.9" y2="2073.3"/>
<line class="g" x1="749.9" y1="2165.4" x2="1318.9" y2="2165.4"/>
<line class="g" x1="749.9" y1="2257.6" x2="1318.9" y2="2257.6"/>
<line class="g" x1="749.9" y1="2350" x2="1318.9" y2="2350"/>
<line class="g" x1="749.9" y1="2442.1" x2="1318.9" y2="2442.1"/>
<path class="b" d="M758.2 2122.5 L760.7 2124.1 L763.2 2125.7 L765.7 2127.3 L768.2 2128.9 L770.8 2130.5 L773.3 2132 L775.8 2133.6 L778.3 2135.2 L780.8 2136.8 L783.3 2138.4 L785.9 2140 L788.4 2141.6 L790.9 2143.2 L793.4 2144.8 L795.9 2146.4 L798.4 2147.9 L801 2149.5 L803.5 2151.1 L806 2152.7 L808.5 2154.3 L811 2155.9 L813.5 2157.5 L816.1 2159.1 L818.6 2160.7 L821.1 2162.3 L823.6 2163.9 L826.1 2165.5 L828.7 2167.1 L831.2 2168.7 L833.7 2170.2 L836.2 2171.8 L838.7 2173.4 L841.2 2175 L843.8 2176.6 L846.3 2178.1 L848.8 2179.7 L851.3 2181.2 L853.8 2182.8 L856.3 2184.3 L858.9 2185.9 L861.4 2187.4 L863.9 2188.9 L866.4 2190.4 L868.9 2191.9 L871.4 2193.4 L874 2194.9 L876.5 2196.3 L879 2197.7 L881.5 2199.2 L884 2200.6 L886.5 2202 L889.1 2203.4 L891.6 2204.7 L894.1 2206.1 L896.6 2207.4 L899.1 2208.7 L901.7 2210 L904.2 2211.2 L906.7 2212.5 L909.2 2213.7 L911.7 2214.9 L914.2 2216.1 L916.8 2217.3 L919.3 2218.5 L921.8 2219.6 L924.3 2220.7 L926.8 2221.8 L929.3 2222.9 L931.9 2224 L934.4 2225 L936.9 2226.1 L939.4 2227.1 L941.9 2228.1 L944.4 2229.1 L947 2230.1 L949.5 2231 L952 2232 L954.5 2232.9 L957 2233.8 L959.5 2234.7 L962.1 2235.6 L964.6 2236.5 L967.1 2237.4 L969.6 2238.3 L972.1 2239.1 L974.7 2240 L977.2 2240.8 L979.7 2241.6 L982.2 2242.5 L984.7 2243.3 L987.2 2244.1 L989.8 2244.9 L992.3 2245.7 L994.8 2246.5 L997.3 2247.3 L999.8 2248.1 L1002.3 2248.9 L1004.9 2249.7 L1007.4 2250.5 L1009.9 2251.3 L1012.4 2252.1 L1014.9 2253 L1017.4 2253.8 L1020 2254.6 L1022.5 2255.4 L1025 2256.2 L1027.5 2257 L1030 2257.8 L1032.6 2258.7 L1035.1 2259.5 L1037.6 2260.3 L1040.1 2261.1 L1042.6 2261.9 L1045.1 2262.7 L1047.7 2263.5 L1050.2 2264.3 L1052.7 2265.1 L1055.2 2265.9 L1057.7 2266.7 L1060.2 2267.5 L1062.8 2268.3 L1065.3 2269 L1067.8 2269.8 L1070.3 2270.5 L1072.8 2271.3 L1075.3 2272 L1077.9 2272.7 L1080.4 2273.5 L1082.9 2274.2 L1085.4 2274.9 L1087.9 2275.6 L1090.4 2276.3 L1093 2277 L1095.5 2277.7 L1098 2278.3 L1100.5 2279 L1103 2279.7 L1105.6 2280.3 L1108.1 2281 L1110.6 2281.6 L1113.1 2282.3 L1115.6 2282.9 L1118.1 2283.5 L1120.7 2284.2 L1123.2 2284.8 L1125.7 2285.4 L1128.2 2286 L1130.7 2286.7 L1133.2 2287.3 L1135.8 2287.9 L1138.3 2288.5 L1140.8 2289.1 L1143.3 2289.7 L1145.8 2290.3 L1148.3 2290.9 L1150.9 2291.5 L1153.4 2292 L1155.9 2292.6 L1158.4 2293.2 L1160.9 2293.8 L1163.5 2294.4 L1166 2295 L1168.5 2295.5 L1171 2296.1 L1173.5 2296.7 L1176 2297.3 L1178.6 2297.9 L1181.1 2298.4 L1183.6 2299 L1186.1 2299.6 L1188.6 2300.2 L1191.1 2300.7 L1193.7 2301.3 L1196.2 2301.9 L1198.7 2302.4 L1201.2 2303 L1203.7 2303.6 L1206.2 2304.2 L1208.8 2304.7 L1211.3 2305.3 L1213.8 2305.9 L1216.3 2306.5 L1218.8 2307 L1221.3 2307.6 L1223.9 2308.2 L1226.4 2308.8 L1228.9 2309.3 L1231.4 2309.9 L1233.9 2310.5 L1236.5 2311.1 L1239 2311.6 L1241.5 2312.2 L1244 2312.8 L1246.5 2313.3 L1249 2313.9 L1251.6 2314.5 L1254.1 2315.1 L1256.6 2315.6 L1259.1 2316.2 L1261.6 2316.8 L1264.1 2317.3 L1266.7 2317.9 L1269.2 2318.5 L1271.7 2319 L1274.2 2319.6 L1276.7 2320.2 L1279.2 2320.7 L1281.8 2321.3 L1284.3 2321.9 L1286.8 2322.4 L1289.3 2323 L1291.8 2323.5 L1294.4 2324.1 L1296.9 2324.7 L1299.4 2325.2 L1301.9 2325.8 L1304.4 2326.3 L1306.9 2326.9 L1306.9 2466.6 L1304.4 2465.1 L1301.9 2463.5 L1299.4 2462 L1296.9 2460.4 L1294.4 2458.9 L1291.8 2457.3 L1289.3 2455.7 L1286.8 2454.1 L1284.3 2452.5 L1281.8 2450.8 L1279.2 2449.2 L1276.7 2447.5 L1274.2 2445.9 L1271.7 2444.2 L1269.2 2442.5 L1266.7 2440.8 L1264.1 2439 L1261.6 2437.3 L1259.1 2435.5 L1256.6 2433.8 L1254.1 2432 L1251.6 2430.2 L1249 2428.4 L1246.5 2426.6 L1244 2424.8 L1241.5 2423 L1239 2421.2 L1236.5 2419.3 L1233.9 2417.5 L1231.4 2415.6 L1228.9 2413.8 L1226.4 2411.9 L1223.9 2410.1 L1221.3 2408.2 L1218.8 2406.4 L1216.3 2404.5 L1213.8 2402.6 L1211.3 2400.8 L1208.8 2398.9 L1206.2 2397 L1203.7 2395.1 L1201.2 2393.3 L1198.7 2391.4 L1196.2 2389.5 L1193.7 2387.6 L1191.1 2385.7 L1188.6 2383.8 L1186.1 2382 L1183.6 2380.1 L1181.1 2378.2 L1178.6 2376.3 L1176 2374.4 L1173.5 2372.5 L1171 2370.6 L1168.5 2368.7 L1166 2366.8 L1163.5 2364.9 L1160.9 2363 L1158.4 2361.1 L1155.9 2359.2 L1153.4 2357.3 L1150.9 2355.4 L1148.3 2353.5 L1145.8 2351.6 L1143.3 2349.7 L1140.8 2347.8 L1138.3 2345.9 L1135.8 2344 L1133.2 2342.1 L1130.7 2340.1 L1128.2 2338.2 L1125.7 2336.3 L1123.2 2334.4 L1120.7 2332.5 L1118.1 2330.5 L1115.6 2328.6 L1113.1 2326.7 L1110.6 2324.8 L1108.1 2322.8 L1105.6 2320.9 L1103 2319 L1100.5 2317.1 L1098 2315.2 L1095.5 2313.3 L1093 2311.4 L1090.4 2309.5 L1087.9 2307.6 L1085.4 2305.7 L1082.9 2303.8 L1080.4 2302 L1077.9 2300.1 L1075.3 2298.3 L1072.8 2296.4 L1070.3 2294.6 L1067.8 2292.8 L1065.3 2291 L1062.8 2289.2 L1060.2 2287.5 L1057.7 2285.8 L1055.2 2284 L1052.7 2282.4 L1050.2 2280.7 L1047.7 2279 L1045.1 2277.4 L1042.6 2275.8 L1040.1 2274.3 L1037.6 2272.7 L1035.1 2271.3 L1032.6 2269.8 L1030 2268.3 L1027.5 2266.9 L1025 2265.6 L1022.5 2264.2 L1020 2262.9 L1017.4 2261.6 L1014.9 2260.4 L1012.4 2259.2 L1009.9 2258 L1007.4 2256.9 L1004.9 2255.8 L1002.3 2254.7 L999.8 2253.7 L997.3 2252.6 L994.8 2251.7 L992.3 2250.7 L989.8 2249.8 L987.2 2248.9 L984.7 2248.1 L982.2 2247.2 L979.7 2246.4 L977.2 2245.6 L974.7 2244.8 L972.1 2244.1 L969.6 2243.4 L967.1 2242.6 L964.6 2241.9 L962.1 2241.2 L959.5 2240.6 L957 2239.9 L954.5 2239.2 L952 2238.6 L949.5 2238 L947 2237.3 L944.4 2236.7 L941.9 2236.1 L939.4 2235.5 L936.9 2235 L934.4 2234.4 L931.9 2233.8 L929.3 2233.3 L926.8 2232.7 L924.3 2232.2 L921.8 2231.7 L919.3 2231.2 L916.8 2230.7 L914.2 2230.2 L911.7 2229.7 L909.2 2229.3 L906.7 2228.8 L904.2 2228.3 L901.7 2227.9 L899.1 2227.5 L896.6 2227.1 L894.1 2226.6 L891.6 2226.2 L889.1 2225.8 L886.5 2225.4 L884 2225.1 L881.5 2224.7 L879 2224.3 L876.5 2224 L874 2223.6 L871.4 2223.2 L868.9 2222.9 L866.4 2222.6 L863.9 2222.2 L861.4 2221.9 L858.9 2221.6 L856.3 2221.2 L853.8 2220.9 L851.3 2220.6 L848.8 2220.3 L846.3 2220 L843.8 2219.6 L841.2 2219.3 L838.7 2219 L836.2 2218.7 L833.7 2218.4 L831.2 2218.1 L828.7 2217.8 L826.1 2217.5 L823.6 2217.2 L821.1 2216.9 L818.6 2216.6 L816.1 2216.3 L813.5 2216 L811 2215.7 L808.5 2215.4 L806 2215.2 L803.5 2214.9 L801 2214.6 L798.4 2214.3 L795.9 2214 L793.4 2213.7 L790.9 2213.4 L788.4 2213.1 L785.9 2212.8 L783.3 2212.5 L780.8 2212.2 L778.3 2211.9 L775.8 2211.6 L773.3 2211.4 L770.8 2211.1 L768.2 2210.8 L765.7 2210.5 L763.2 2210.2 L760.7 2209.9 L758.2 2209.6Z"/>
<path class="m" d="M758.2 2166 L760.7 2166.9 L763.2 2167.9 L765.7 2168.8 L768.2 2169.7 L770.8 2170.7 L773.3 2171.6 L775.8 2172.6 L778.3 2173.5 L780.8 2174.4 L783.3 2175.4 L785.9 2176.3 L788.4 2177.3 L790.9 2178.2 L793.4 2179.1 L795.9 2180.1 L798.4 2181 L801 2182 L803.5 2182.9 L806 2183.9 L808.5 2184.8 L811 2185.8 L813.5 2186.7 L816.1 2187.6 L818.6 2188.6 L821.1 2189.5 L823.6 2190.5 L826.1 2191.4 L828.7 2192.4 L831.2 2193.3 L833.7 2194.3 L836.2 2195.2 L838.7 2196.2 L841.2 2197.1 L843.8 2198 L846.3 2199 L848.8 2199.9 L851.3 2200.9 L853.8 2201.8 L856.3 2202.7 L858.9 2203.7 L861.4 2204.6 L863.9 2205.5 L866.4 2206.4 L868.9 2207.3 L871.4 2208.3 L874 2209.2 L876.5 2210.1 L879 2211 L881.5 2211.9 L884 2212.8 L886.5 2213.7 L889.1 2214.6 L891.6 2215.4 L894.1 2216.3 L896.6 2217.2 L899.1 2218.1 L901.7 2218.9 L904.2 2219.8 L906.7 2220.6 L909.2 2221.5 L911.7 2222.3 L914.2 2223.2 L916.8 2224 L919.3 2224.8 L921.8 2225.7 L924.3 2226.5 L926.8 2227.3 L929.3 2228.1 L931.9 2228.9 L934.4 2229.8 L936.9 2230.6 L939.4 2231.4 L941.9 2232.2 L944.4 2233 L947 2233.8 L949.5 2234.6 L952 2235.3 L954.5 2236.1 L957 2236.9 L959.5 2237.7 L962.1 2238.5 L964.6 2239.3 L967.1 2240.1 L969.6 2240.9 L972.1 2241.6 L974.7 2242.4 L977.2 2243.2 L979.7 2244 L982.2 2244.9 L984.7 2245.7 L987.2 2246.5 L989.8 2247.3 L992.3 2248.2 L994.8 2249 L997.3 2249.9 L999.8 2250.8 L1002.3 2251.7 L1004.9 2252.7 L1007.4 2253.6 L1009.9 2254.6 L1012.4 2255.5 L1014.9 2256.5 L1017.4 2257.6 L1020 2258.6 L1022.5 2259.6 L1025 2260.7 L1027.5 2261.8 L1030 2262.9 L1032.6 2264 L1035.1 2265.1 L1037.6 2266.3 L1040.1 2267.5 L1042.6 2268.6 L1045.1 2269.8 L1047.7 2271 L1050.2 2272.2 L1052.7 2273.4 L1055.2 2274.7 L1057.7 2275.9 L1060.2 2277.2 L1062.8 2278.4 L1065.3 2279.7 L1067.8 2281 L1070.3 2282.3 L1072.8 2283.5 L1075.3 2284.8 L1077.9 2286.1 L1080.4 2287.4 L1082.9 2288.7 L1085.4 2290 L1087.9 2291.3 L1090.4 2292.6 L1093 2293.9 L1095.5 2295.2 L1098 2296.5 L1100.5 2297.8 L1103 2299.1 L1105.6 2300.4 L1108.1 2301.7 L1110.6 2303 L1113.1 2304.3 L1115.6 2305.5 L1118.1 2306.8 L1120.7 2308.1 L1123.2 2309.4 L1125.7 2310.6 L1128.2 2311.9 L1130.7 2313.1 L1133.2 2314.4 L1135.8 2315.7 L1138.3 2316.9 L1140.8 2318.1 L1143.3 2319.4 L1145.8 2320.6 L1148.3 2321.8 L1150.9 2323.1 L1153.4 2324.3 L1155.9 2325.5 L1158.4 2326.7 L1160.9 2328 L1163.5 2329.2 L1166 2330.4 L1168.5 2331.6 L1171 2332.8 L1173.5 2334 L1176 2335.2 L1178.6 2336.4 L1181.1 2337.6 L1183.6 2338.8 L1186.1 2340 L1188.6 2341.2 L1191.1 2342.4 L1193.7 2343.6 L1196.2 2344.8 L1198.7 2346 L1201.2 2347.1 L1203.7 2348.3 L1206.2 2349.5 L1208.8 2350.7 L1211.3 2351.9 L1213.8 2353.1 L1216.3 2354.2 L1218.8 2355.4 L1221.3 2356.6 L1223.9 2357.8 L1226.4 2358.9 L1228.9 2360.1 L1231.4 2361.3 L1233.9 2362.5 L1236.5 2363.6 L1239 2364.8 L1241.5 2366 L1244 2367.1 L1246.5 2368.3 L1249 2369.5 L1251.6 2370.6 L1254.1 2371.8 L1256.6 2373 L1259.1 2374.2 L1261.6 2375.3 L1264.1 2376.5 L1266.7 2377.6 L1269.2 2378.8 L1271.7 2380 L1274.2 2381.1 L1276.7 2382.3 L1279.2 2383.4 L1281.8 2384.6 L1284.3 2385.8 L1286.8 2386.9 L1289.3 2388.1 L1291.8 2389.2 L1294.4 2390.4 L1296.9 2391.5 L1299.4 2392.7 L1301.9 2393.8 L1304.4 2395 L1306.9 2396.1"/>
<path class="a" d="M746.9 2062.3 V2478 H1318.9"/>
<line class="ty" x1="739.9" y1="2073.3" x2="746.9" y2="2073.3"/>
<text class="tk" style="font-size:18px" text-anchor="middle" transform="translate(733 2073.3) rotate(-90)">120</text>
<line class="ty" x1="739.9" y1="2165.4" x2="746.9" y2="2165.4"/>
<text class="tk" style="font-size:18px" text-anchor="middle" transform="translate(733 2165.4) rotate(-90)">110</text>
<line class="ty" x1="739.9" y1="2257.6" x2="746.9" y2="2257.6"/>
<text class="tk" style="font-size:18px" text-anchor="middle" transform="translate(733 2257.6) rotate(-90)">100</text>
<line class="ty" x1="739.9" y1="2350" x2="746.9" y2="2350"/>
<text class="tk" style="font-size:18px" text-anchor="middle" transform="translate(733 2350) rotate(-90)">90</text>
<line class="ty" x1="739.9" y1="2442.1" x2="746.9" y2="2442.1"/>
<text class="tk" style="font-size:18px" text-anchor="middle" transform="translate(733 2442.1) rotate(-90)">80</text>
<line class="t" x1="782.7" y1="2478" x2="782.7" y2="2485"/>
<text class="tk" style="font-size:18px" text-anchor="middle" x="782.7" y="2505.6">.06</text>
<line class="t" x1="884.6" y1="2478" x2="884.6" y2="2485"/>
<text class="tk" style="font-size:18px" text-anchor="middle" x="884.6" y="2505.6">.07</text>
<line class="t" x1="986.5" y1="2478" x2="986.5" y2="2485"/>
<text class="tk" style="font-size:18px" text-anchor="middle" x="986.5" y="2505.6">.08</text>
<line class="t" x1="1088.4" y1="2478" x2="1088.4" y2="2485"/>
<text class="tk" style="font-size:18px" text-anchor="middle" x="1088.4" y="2505.6">.09</text>
<line class="t" x1="1190.7" y1="2478" x2="1190.7" y2="2485"/>
<text class="tk" style="font-size:18px" text-anchor="middle" x="1190.7" y="2505.6">.1</text>
<line class="t" x1="1292.7" y1="2478" x2="1292.7" y2="2485"/>
<text class="tk" style="font-size:18px" text-anchor="middle" x="1292.7" y="2505.6">.11</text>
<text class="ax" text-anchor="middle" x="1033.1" y="2529.1">A Body Shape Index</text>
<text class="ax" text-anchor="middle" transform="translate(711.7 2262) rotate(-90)">Adjusted FVC % predicted value</text>
<text class="tt" x="817.9" y="2085.4">Pnon-linear&gt;0.05</text>
</g>
<g>
<line class="g" x1="1416.8" y1="2073.3" x2="1984.9" y2="2073.3"/>
<line class="g" x1="1416.8" y1="2198.3" x2="1984.9" y2="2198.3"/>
<line class="g" x1="1416.8" y1="2324.1" x2="1984.9" y2="2324.1"/>
<line class="g" x1="1416.8" y1="2449.5" x2="1984.9" y2="2449.5"/>
<path class="b" d="M1425.5 2121.4 L1428 2122.1 L1430.6 2122.7 L1433.1 2123.4 L1435.6 2124 L1438.1 2124.7 L1440.6 2125.3 L1443.1 2126 L1445.7 2126.6 L1448.2 2127.2 L1450.7 2127.9 L1453.2 2128.5 L1455.7 2129.2 L1458.2 2129.8 L1460.8 2130.4 L1463.3 2131.1 L1465.8 2131.7 L1468.3 2132.3 L1470.8 2132.9 L1473.3 2133.6 L1475.8 2134.2 L1478.4 2134.8 L1480.9 2135.4 L1483.4 2136 L1485.9 2136.6 L1488.4 2137.2 L1490.9 2137.8 L1493.5 2138.4 L1496 2139 L1498.5 2139.5 L1501 2140.1 L1503.5 2140.6 L1506 2141.2 L1508.5 2141.7 L1511.1 2142.3 L1513.6 2142.8 L1516.1 2143.3 L1518.6 2143.8 L1521.1 2144.3 L1523.6 2144.8 L1526.2 2145.3 L1528.7 2145.7 L1531.2 2146.2 L1533.7 2146.6 L1536.2 2147 L1538.7 2147.4 L1541.3 2147.8 L1543.8 2148.2 L1546.3 2148.6 L1548.8 2148.9 L1551.3 2149.2 L1553.8 2149.5 L1556.3 2149.8 L1558.9 2150.1 L1561.4 2150.4 L1563.9 2150.6 L1566.4 2150.8 L1568.9 2151 L1571.4 2151.2 L1574 2151.3 L1576.5 2151.5 L1579 2151.6 L1581.5 2151.7 L1584 2151.8 L1586.5 2151.8 L1589.1 2151.9 L1591.6 2151.9 L1594.1 2152 L1596.6 2152 L1599.1 2152 L1601.6 2152 L1604.1 2152 L1606.7 2152 L1609.2 2152 L1611.7 2152 L1614.2 2152.1 L1616.7 2152.1 L1619.2 2152.1 L1621.8 2152.2 L1624.3 2152.3 L1626.8 2152.4 L1629.3 2152.5 L1631.8 2152.7 L1634.3 2152.8 L1636.8 2153.1 L1639.4 2153.3 L1641.9 2153.6 L1644.4 2153.9 L1646.9 2154.2 L1649.4 2154.6 L1651.9 2155 L1654.5 2155.5 L1657 2156 L1659.5 2156.5 L1662 2157 L1664.5 2157.6 L1667 2158.2 L1669.6 2158.8 L1672.1 2159.4 L1674.6 2160.1 L1677.1 2160.8 L1679.6 2161.4 L1682.1 2162.2 L1684.6 2162.9 L1687.2 2163.6 L1689.7 2164.3 L1692.2 2165.1 L1694.7 2165.8 L1697.2 2166.5 L1699.7 2167.3 L1702.3 2168 L1704.8 2168.7 L1707.3 2169.4 L1709.8 2170.2 L1712.3 2170.9 L1714.8 2171.5 L1717.4 2172.2 L1719.9 2172.9 L1722.4 2173.6 L1724.9 2174.2 L1727.4 2174.8 L1729.9 2175.5 L1732.4 2176.1 L1735 2176.7 L1737.5 2177.2 L1740 2177.8 L1742.5 2178.4 L1745 2178.9 L1747.5 2179.5 L1750.1 2180 L1752.6 2180.5 L1755.1 2181 L1757.6 2181.5 L1760.1 2182 L1762.6 2182.5 L1765.1 2182.9 L1767.7 2183.4 L1770.2 2183.9 L1772.7 2184.3 L1775.2 2184.8 L1777.7 2185.2 L1780.2 2185.7 L1782.8 2186.1 L1785.3 2186.5 L1787.8 2186.9 L1790.3 2187.4 L1792.8 2187.8 L1795.3 2188.2 L1797.9 2188.6 L1800.4 2189 L1802.9 2189.4 L1805.4 2189.8 L1807.9 2190.2 L1810.4 2190.6 L1812.9 2191 L1815.5 2191.4 L1818 2191.8 L1820.5 2192.2 L1823 2192.6 L1825.5 2193 L1828 2193.4 L1830.6 2193.8 L1833.1 2194.2 L1835.6 2194.6 L1838.1 2195 L1840.6 2195.4 L1843.1 2195.7 L1845.7 2196.1 L1848.2 2196.5 L1850.7 2196.9 L1853.2 2197.2 L1855.7 2197.6 L1858.2 2198 L1860.7 2198.4 L1863.3 2198.7 L1865.8 2199.1 L1868.3 2199.5 L1870.8 2199.8 L1873.3 2200.2 L1875.8 2200.6 L1878.4 2200.9 L1880.9 2201.3 L1883.4 2201.7 L1885.9 2202 L1888.4 2202.4 L1890.9 2202.7 L1893.4 2203.1 L1896 2203.5 L1898.5 2203.8 L1901 2204.2 L1903.5 2204.6 L1906 2204.9 L1908.5 2205.3 L1911.1 2205.7 L1913.6 2206 L1916.1 2206.4 L1918.6 2206.8 L1921.1 2207.1 L1923.6 2207.5 L1926.2 2207.8 L1928.7 2208.2 L1931.2 2208.6 L1933.7 2208.9 L1936.2 2209.3 L1938.7 2209.6 L1941.2 2210 L1943.8 2210.3 L1946.3 2210.7 L1948.8 2211 L1951.3 2211.4 L1953.8 2211.7 L1956.3 2212 L1958.9 2212.4 L1961.4 2212.7 L1963.9 2213.1 L1966.4 2213.4 L1968.9 2213.7 L1971.4 2214.1 L1974 2214.4 L1974 2465 L1971.4 2462.3 L1968.9 2459.6 L1966.4 2456.9 L1963.9 2454.2 L1961.4 2451.5 L1958.9 2448.9 L1956.3 2446.2 L1953.8 2443.5 L1951.3 2440.9 L1948.8 2438.2 L1946.3 2435.5 L1943.8 2432.9 L1941.2 2430.2 L1938.7 2427.6 L1936.2 2424.9 L1933.7 2422.3 L1931.2 2419.7 L1928.7 2417 L1926.2 2414.4 L1923.6 2411.8 L1921.1 2409.1 L1918.6 2406.5 L1916.1 2403.9 L1913.6 2401.3 L1911.1 2398.7 L1908.5 2396.1 L1906 2393.5 L1903.5 2390.9 L1901 2388.3 L1898.5 2385.7 L1896 2383.1 L1893.4 2380.5 L1890.9 2377.9 L1888.4 2375.3 L1885.9 2372.7 L1883.4 2370.2 L1880.9 2367.6 L1878.4 2365 L1875.8 2362.4 L1873.3 2359.9 L1870.8 2357.3 L1868.3 2354.7 L1865.8 2352.1 L1863.3 2349.6 L1860.7 2347 L1858.2 2344.4 L1855.7 2341.8 L1853.2 2339.3 L1850.7 2336.7 L1848.2 2334.1 L1845.7 2331.5 L1843.1 2328.9 L1840.6 2326.4 L1838.1 2323.8 L1835.6 2321.2 L1833.1 2318.6 L1830.6 2316 L1828 2313.4 L1825.5 2310.8 L1823 2308.2 L1820.5 2305.6 L1818 2303 L1815.5 2300.3 L1812.9 2297.7 L1810.4 2295.1 L1807.9 2292.5 L1805.4 2289.8 L1802.9 2287.2 L1800.4 2284.6 L1797.9 2281.9 L1795.3 2279.3 L1792.8 2276.6 L1790.3 2274 L1787.8 2271.3 L1785.3 2268.7 L1782.8 2266 L1780.2 2263.4 L1777.7 2260.7 L1775.2 2258.1 L1772.7 2255.5 L1770.2 2252.8 L1767.7 2250.2 L1765.1 2247.6 L1762.6 2245 L1760.1 2242.4 L1757.6 2239.8 L1755.1 2237.3 L1752.6 2234.7 L1750.1 2232.2 L1747.5 2229.7 L1745 2227.3 L1742.5 2224.8 L1740 2222.4 L1737.5 2220 L1735 2217.7 L1732.4 2215.4 L1729.9 2213.1 L1727.4 2210.9 L1724.9 2208.7 L1722.4 2206.6 L1719.9 2204.5 L1717.4 2202.5 L1714.8 2200.5 L1712.3 2198.5 L1709.8 2196.7 L1707.3 2194.8 L1704.8 2193.1 L1702.3 2191.4 L1699.7 2189.7 L1697.2 2188.1 L1694.7 2186.6 L1692.2 2185.1 L1689.7 2183.7 L1687.2 2182.4 L1684.6 2181.1 L1682.1 2179.9 L1679.6 2178.7 L1677.1 2177.5 L1674.6 2176.5 L1672.1 2175.5 L1669.6 2174.5 L1667 2173.6 L1664.5 2172.7 L1662 2171.9 L1659.5 2171.2 L1657 2170.5 L1654.5 2169.8 L1651.9 2169.2 L1649.4 2168.6 L1646.9 2168.1 L1644.4 2167.6 L1641.9 2167.1 L1639.4 2166.7 L1636.8 2166.3 L1634.3 2166 L1631.8 2165.8 L1629.3 2165.5 L1626.8 2165.3 L1624.3 2165.2 L1621.8 2165.1 L1619.2 2165.1 L1616.7 2165.1 L1614.2 2165.1 L1611.7 2165.2 L1609.2 2165.4 L1606.7 2165.6 L1604.1 2165.8 L1601.6 2166.1 L1599.1 2166.5 L1596.6 2166.9 L1594.1 2167.4 L1591.6 2167.9 L1589.1 2168.4 L1586.5 2169 L1584 2169.7 L1581.5 2170.4 L1579 2171.2 L1576.5 2172 L1574 2172.8 L1571.4 2173.7 L1568.9 2174.7 L1566.4 2175.6 L1563.9 2176.7 L1561.4 2177.7 L1558.9 2178.8 L1556.3 2180 L1553.8 2181.1 L1551.3 2182.3 L1548.8 2183.6 L1546.3 2184.8 L1543.8 2186.1 L1541.3 2187.4 L1538.7 2188.8 L1536.2 2190.1 L1533.7 2191.5 L1531.2 2192.9 L1528.7 2194.3 L1526.2 2195.7 L1523.6 2197.1 L1521.1 2198.6 L1518.6 2200.1 L1516.1 2201.5 L1513.6 2203 L1511.1 2204.5 L1508.5 2205.9 L1506 2207.4 L1503.5 2208.9 L1501 2210.4 L1498.5 2211.9 L1496 2213.4 L1493.5 2214.9 L1490.9 2216.4 L1488.4 2217.9 L1485.9 2219.3 L1483.4 2220.8 L1480.9 2222.3 L1478.4 2223.8 L1475.8 2225.3 L1473.3 2226.7 L1470.8 2228.2 L1468.3 2229.7 L1465.8 2231.2 L1463.3 2232.6 L1460.8 2234.1 L1458.2 2235.6 L1455.7 2237 L1453.2 2238.5 L1450.7 2239.9 L1448.2 2241.4 L1445.7 2242.8 L1443.1 2244.3 L1440.6 2245.7 L1438.1 2247.1 L1435.6 2248.6 L1433.1 2250 L1430.6 2251.4 L1428 2252.9 L1425.5 2254.3Z"/>
<path class="m" d="M1425.5 2188.2 L1428 2187.7 L1430.6 2187.3 L1433.1 2186.8 L1435.6 2186.3 L1438.1 2185.8 L1440.6 2185.3 L1443.1 2184.8 L1445.7 2184.3 L1448.2 2183.9 L1450.7 2183.4 L1453.2 2182.9 L1455.7 2182.4 L1458.2 2181.9 L1460.8 2181.4 L1463.3 2180.9 L1465.8 2180.4 L1468.3 2179.9 L1470.8 2179.4 L1473.3 2178.9 L1475.8 2178.4 L1478.4 2177.9 L1480.9 2177.4 L1483.4 2176.9 L1485.9 2176.4 L1488.4 2175.8 L1490.9 2175.3 L1493.5 2174.8 L1496 2174.3 L1498.5 2173.8 L1501 2173.3 L1503.5 2172.8 L1506 2172.3 L1508.5 2171.8 L1511.1 2171.3 L1513.6 2170.7 L1516.1 2170.2 L1518.6 2169.7 L1521.1 2169.2 L1523.6 2168.8 L1526.2 2168.3 L1528.7 2167.8 L1531.2 2167.3 L1533.7 2166.8 L1536.2 2166.4 L1538.7 2165.9 L1541.3 2165.4 L1543.8 2165 L1546.3 2164.6 L1548.8 2164.1 L1551.3 2163.7 L1553.8 2163.3 L1556.3 2162.9 L1558.9 2162.5 L1561.4 2162.1 L1563.9 2161.8 L1566.4 2161.4 L1568.9 2161.1 L1571.4 2160.8 L1574 2160.5 L1576.5 2160.2 L1579 2159.9 L1581.5 2159.6 L1584 2159.4 L1586.5 2159.2 L1589.1 2159 L1591.6 2158.8 L1594.1 2158.6 L1596.6 2158.5 L1599.1 2158.3 L1601.6 2158.2 L1604.1 2158.2 L1606.7 2158.1 L1609.2 2158.1 L1611.7 2158.1 L1614.2 2158.1 L1616.7 2158.1 L1619.2 2158.2 L1621.8 2158.3 L1624.3 2158.4 L1626.8 2158.6 L1629.3 2158.8 L1631.8 2159 L1634.3 2159.3 L1636.8 2159.6 L1639.4 2159.9 L1641.9 2160.2 L1644.4 2160.6 L1646.9 2161.1 L1649.4 2161.5 L1651.9 2162 L1654.5 2162.6 L1657 2163.2 L1659.5 2163.8 L1662 2164.5 L1664.5 2165.2 L1667 2165.9 L1669.6 2166.7 L1672.1 2167.5 L1674.6 2168.4 L1677.1 2169.3 L1679.6 2170.2 L1682.1 2171.2 L1684.6 2172.3 L1687.2 2173.3 L1689.7 2174.4 L1692.2 2175.5 L1694.7 2176.7 L1697.2 2177.9 L1699.7 2179.1 L1702.3 2180.4 L1704.8 2181.6 L1707.3 2182.9 L1709.8 2184.3 L1712.3 2185.6 L1714.8 2187 L1717.4 2188.4 L1719.9 2189.8 L1722.4 2191.3 L1724.9 2192.7 L1727.4 2194.2 L1729.9 2195.7 L1732.4 2197.2 L1735 2198.7 L1737.5 2200.2 L1740 2201.7 L1742.5 2203.3 L1745 2204.8 L1747.5 2206.3 L1750.1 2207.9 L1752.6 2209.5 L1755.1 2211 L1757.6 2212.6 L1760.1 2214.1 L1762.6 2215.7 L1765.1 2217.3 L1767.7 2218.8 L1770.2 2220.4 L1772.7 2222 L1775.2 2223.5 L1777.7 2225.1 L1780.2 2226.7 L1782.8 2228.2 L1785.3 2229.8 L1787.8 2231.3 L1790.3 2232.9 L1792.8 2234.4 L1795.3 2236 L1797.9 2237.5 L1800.4 2239 L1802.9 2240.6 L1805.4 2242.1 L1807.9 2243.6 L1810.4 2245.1 L1812.9 2246.6 L1815.5 2248.1 L1818 2249.7 L1820.5 2251.2 L1823 2252.7 L1825.5 2254.2 L1828 2255.7 L1830.6 2257.2 L1833.1 2258.7 L1835.6 2260.1 L1838.1 2261.6 L1840.6 2263.1 L1843.1 2264.6 L1845.7 2266.1 L1848.2 2267.5 L1850.7 2269 L1853.2 2270.5 L1855.7 2272 L1858.2 2273.4 L1860.7 2274.9 L1863.3 2276.4 L1865.8 2277.8 L1868.3 2279.3 L1870.8 2280.8 L1873.3 2282.2 L1875.8 2283.7 L1878.4 2285.2 L1880.9 2286.6 L1883.4 2288.1 L1885.9 2289.5 L1888.4 2291 L1890.9 2292.5 L1893.4 2293.9 L1896 2295.4 L1898.5 2296.8 L1901 2298.3 L1903.5 2299.8 L1906 2301.2 L1908.5 2302.7 L1911.1 2304.1 L1913.6 2305.6 L1916.1 2307 L1918.6 2308.5 L1921.1 2309.9 L1923.6 2311.4 L1926.2 2312.9 L1928.7 2314.3 L1931.2 2315.8 L1933.7 2317.2 L1936.2 2318.7 L1938.7 2320.1 L1941.2 2321.6 L1943.8 2323.1 L1946.3 2324.5 L1948.8 2326 L1951.3 2327.4 L1953.8 2328.9 L1956.3 2330.4 L1958.9 2331.8 L1961.4 2333.3 L1963.9 2334.7 L1966.4 2336.2 L1968.9 2337.7 L1971.4 2339.1 L1974 2340.6"/>
<path class="a" d="M1413.8 2062.3 V2478 H1984.9"/>
<line class="ty" x1="1406.8" y1="2073.3" x2="1413.8" y2="2073.3"/>
<text class="tk" style="font-size:18px" text-anchor="middle" transform="translate(1399.9 2073.3) rotate(-90)">85</text>
<line class="ty" x1="1406.8" y1="2198.3" x2="1413.8" y2="2198.3"/>
<text class="tk" style="font-size:18px" text-anchor="middle" transform="translate(1399.9 2198.3) rotate(-90)">80</text>
<line class="ty" x1="1406.8" y1="2324.1" x2="1413.8" y2="2324.1"/>
<text class="tk" style="font-size:18px" text-anchor="middle" transform="translate(1399.9 2324.1) rotate(-90)">75</text>
<line class="ty" x1="1406.8" y1="2449.5" x2="1413.8" y2="2449.5"/>
<text class="tk" style="font-size:18px" text-anchor="middle" transform="translate(1399.9 2449.5) rotate(-90)">70</text>
<line class="t" x1="1449.4" y1="2478" x2="1449.4" y2="2485"/>
<text class="tk" style="font-size:18px" text-anchor="middle" x="1449.4" y="2505.6">.06</text>
<line class="t" x1="1551.3" y1="2478" x2="1551.3" y2="2485"/>
<text class="tk" style="font-size:18px" text-anchor="middle" x="1551.3" y="2505.6">.07</text>
<line class="t" x1="1653.3" y1="2478" x2="1653.3" y2="2485"/>
<text class="tk" style="font-size:18px" text-anchor="middle" x="1653.3" y="2505.6">.08</text>
<line class="t" x1="1755.2" y1="2478" x2="1755.2" y2="2485"/>
<text class="tk" style="font-size:18px" text-anchor="middle" x="1755.2" y="2505.6">.09</text>
<line class="t" x1="1857.1" y1="2478" x2="1857.1" y2="2485"/>
<text class="tk" style="font-size:18px" text-anchor="middle" x="1857.1" y="2505.6">.1</text>
<line class="t" x1="1959.4" y1="2478" x2="1959.4" y2="2485"/>
<text class="tk" style="font-size:18px" text-anchor="middle" x="1959.4" y="2505.6">.11</text>
<text class="ax" text-anchor="middle" x="1699.4" y="2529.1">A Body Shape Index</text>
<text class="ax" text-anchor="middle" transform="translate(1378.6 2268.5) rotate(-90)">Adjusted FEV1-FVC ratio %</text>
<text class="tt" x="1484.3" y="2085.8">Pnon-linear&lt;0.05</text>
</g>
</svg></body></html>
